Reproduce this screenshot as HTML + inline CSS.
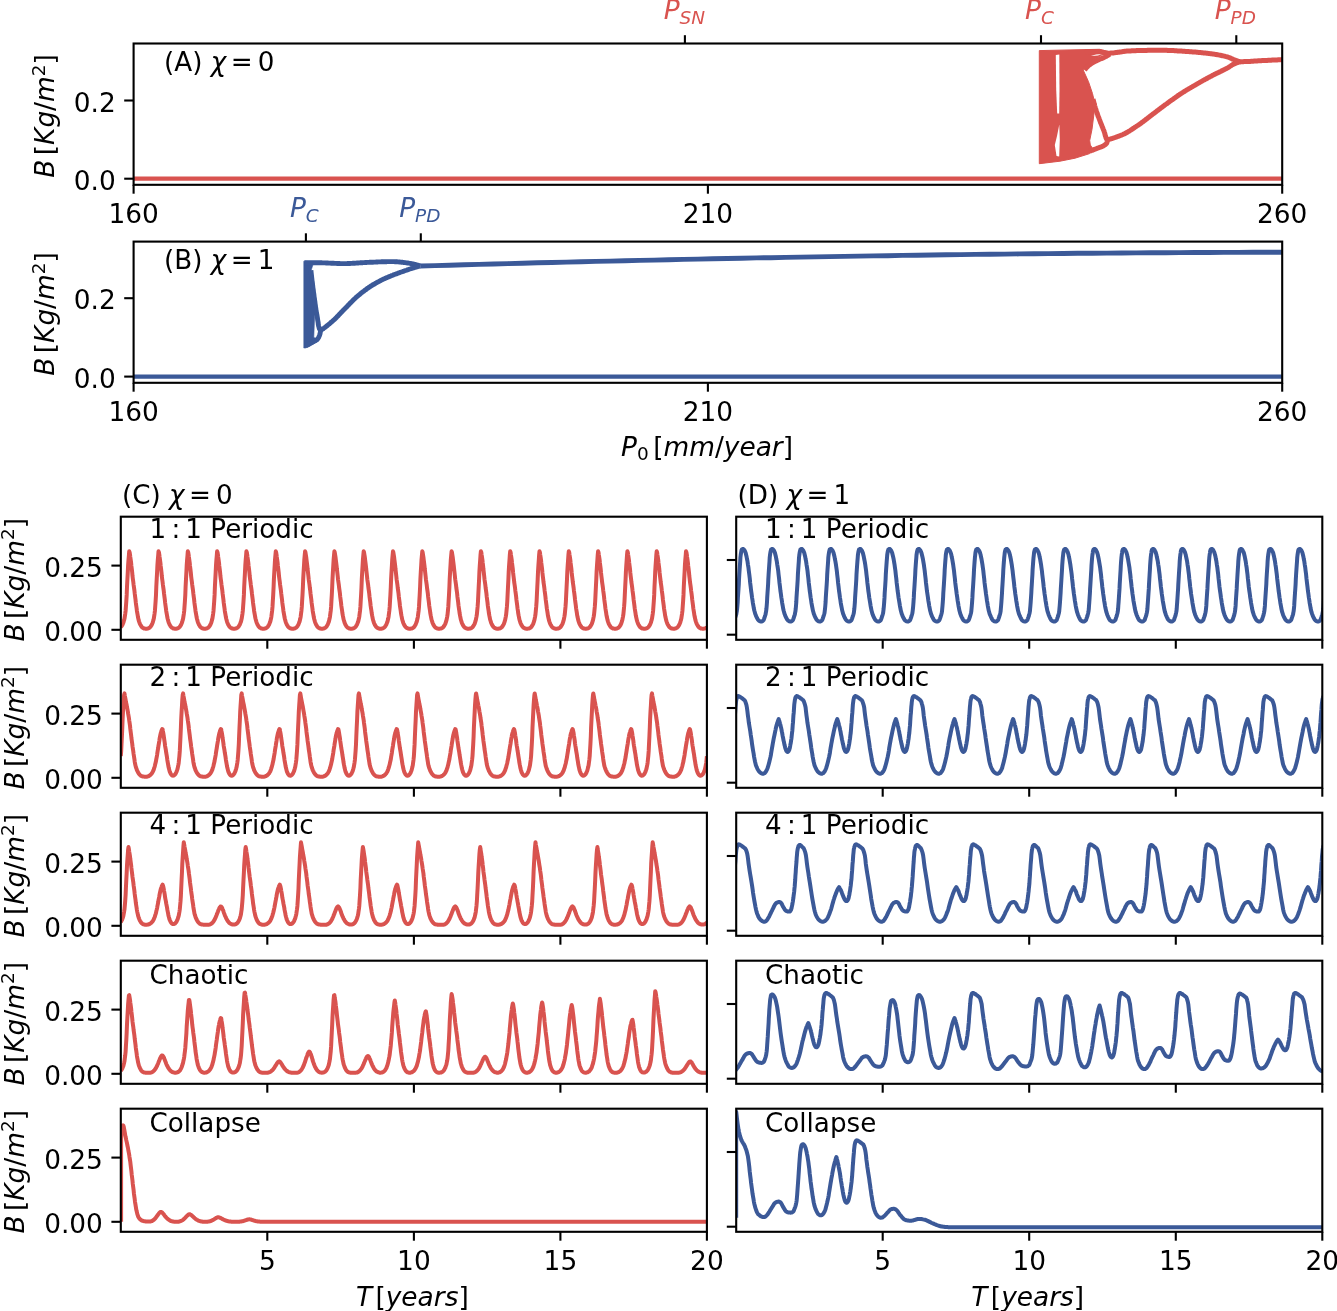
<!DOCTYPE html>
<html><head><meta charset="utf-8"><title>Figure</title>
<style>html,body{margin:0;padding:0;background:#fff}body{width:1337px;height:1311px;overflow:hidden}</style>
</head><body>
<svg width="1337" height="1311" viewBox="0 0 1337 1311" style="display:block;font-family:'DejaVu Sans', 'Liberation Sans', sans-serif">
<rect width="1337" height="1311" fill="#fff"/>
<clipPath id="c1"><rect x="133.6" y="43.5" width="1148.6" height="141.3"/></clipPath>
<g clip-path="url(#c1)"><path d="M133.6,178.7 L1282.2,178.7" fill="none" stroke="#d9534f" stroke-width="4.2" stroke-linejoin="round" stroke-linecap="butt" /><path d="M1039.3,50.6 L1070,49.9 L1099.4,49.3 L1108,51.5 L1100,56 L1092,61 L1083.1,69.8 L1088.5,81.7 L1092.5,93.6 L1094.4,101.5 L1094,113.4 L1092,129.3 L1089.7,140.5 L1090.3,145 L1092.5,148.2 L1089.7,153.6 L1075,158.2 L1060,161.2 L1039.3,163.7Z" fill="#d9534f" stroke="#d9534f" stroke-width="1" stroke-linejoin="round"/><path d="M1055.8,55 L1059.3,54.6 L1059.5,90 L1059.2,113.5 L1057.2,113.5 L1056.2,90 Z" fill="#fff"/><path d="M1059.3,124.5 L1059.8,140 L1059.2,156.5 L1056.5,156 L1054.8,145 L1057,136 Z" fill="#fff"/><path d="M1091,56.1 Q1096,53.6 1103.4,53.7 Q1098,56.2 1091,56.1 Z" fill="#fff"/><path d="M1085,52.3 L1086,52.2 L1087,52.1 L1088,52 L1089,52 L1090,51.9 L1091,51.9 L1092,51.9 L1093,51.8 L1094,51.8 L1095,51.8 L1096,51.8 L1097,51.8 L1098,51.8 L1099,51.8 L1100,51.8 L1101,51.9 L1101.9,52.1 L1102.9,52.3 L1103.9,52.5 L1104.9,52.8 L1105.9,53 L1106.9,53.1 L1107.9,53.2 L1108.8,53.2 L1109.8,53.2 L1110.8,53.1 L1111.8,53 L1112.8,53 L1113.8,52.9 L1114.8,52.7 L1115.8,52.6 L1116.8,52.5 L1117.8,52.3 L1118.8,52.2 L1119.8,52 L1120.8,51.9 L1121.8,51.8 L1122.7,51.6 L1123.7,51.5 L1124.7,51.3 L1125.7,51.2 L1126.7,51.1 L1127.7,51 L1128.7,51 L1129.7,50.9 L1130.7,50.9 L1131.7,50.8 L1132.7,50.8 L1133.7,50.8 L1134.7,50.7 L1135.7,50.7 L1136.7,50.6 L1137.7,50.6 L1138.7,50.6 L1139.7,50.5 L1140.7,50.5 L1141.7,50.5 L1142.7,50.5 L1143.7,50.4 L1144.7,50.4 L1145.7,50.4 L1146.7,50.4 L1147.7,50.3 L1148.7,50.3 L1149.7,50.3 L1150.7,50.3 L1151.7,50.3 L1152.7,50.2 L1153.7,50.2 L1154.7,50.2 L1155.7,50.2 L1156.7,50.2 L1157.7,50.2 L1158.7,50.2 L1159.7,50.2 L1160.7,50.2 L1161.7,50.2 L1162.7,50.2 L1163.7,50.2 L1164.7,50.3 L1165.7,50.3 L1166.7,50.3 L1167.7,50.4 L1168.7,50.4 L1169.7,50.4 L1170.7,50.5 L1171.7,50.5 L1172.7,50.6 L1173.6,50.6 L1174.6,50.7 L1175.6,50.7 L1176.6,50.8 L1177.6,50.9 L1178.6,50.9 L1179.6,51 L1180.6,51.1 L1181.6,51.1 L1182.6,51.2 L1183.6,51.3 L1184.6,51.3 L1185.6,51.4 L1186.6,51.5 L1187.6,51.6 L1188.6,51.6 L1189.6,51.7 L1190.6,51.8 L1191.6,51.8 L1192.6,51.9 L1193.6,52 L1194.6,52 L1195.6,52.1 L1196.6,52.2 L1197.6,52.3 L1198.6,52.4 L1199.6,52.5 L1200.6,52.6 L1201.6,52.7 L1202.6,52.8 L1203.6,52.9 L1204.5,53 L1205.5,53.1 L1206.5,53.2 L1207.5,53.3 L1208.5,53.4 L1209.5,53.6 L1210.5,53.7 L1211.5,53.8 L1212.5,53.9 L1213.5,54.1 L1214.4,54.2 L1215.4,54.4 L1216.4,54.5 L1217.4,54.7 L1218.4,54.9 L1219.4,55.1 L1220.4,55.3 L1221.4,55.5 L1222.3,55.7 L1223.3,55.9 L1224.3,56.1 L1225.3,56.4 L1226.2,56.6 L1227.2,56.9 L1228.1,57.2 L1229,57.5 L1230,57.9 L1230.9,58.3 L1231.8,58.7 L1232.7,59.2 L1233.6,59.5 L1234.6,59.9 L1235.5,60.2 L1236.5,60.6 L1237.4,61 L1238.4,61.3 L1239.3,61.6 L1240.3,61.7 L1241.3,61.7 L1242.3,61.7 L1243.2,61.7 L1244.2,61.6 L1245.2,61.6 L1246.2,61.6 L1247.2,61.5 L1248.2,61.5 L1249.2,61.4 L1250.2,61.4 L1251.2,61.3 L1252.2,61.2 L1253.2,61.2 L1254.2,61.1 L1255.2,61 L1256.2,61 L1257.2,60.9 L1258.2,60.8 L1259.2,60.8 L1260.2,60.7 L1261.2,60.7 L1262.2,60.6 L1263.2,60.6 L1264.2,60.5 L1265.2,60.5 L1266.2,60.4 L1267.2,60.4 L1268.2,60.3 L1269.2,60.3 L1270.2,60.2 L1271.2,60.2 L1272.2,60.1 L1273.2,60.1 L1274.2,60 L1275.2,60 L1276.2,59.9 L1277.2,59.9 L1278.2,59.8 L1279.2,59.8 L1280.2,59.7 L1281.2,59.7 L1282.2,59.6" fill="none" stroke="#d9534f" stroke-width="5.0" stroke-linejoin="round" stroke-linecap="butt" /><path d="M1093,99 L1093.2,100 L1093.5,100.9 L1093.7,101.9 L1094,102.9 L1094.2,103.8 L1094.5,104.8 L1094.7,105.8 L1095,106.7 L1095.3,107.7 L1095.6,108.6 L1095.9,109.6 L1096.2,110.5 L1096.5,111.5 L1096.8,112.4 L1097.1,113.3 L1097.5,114.3 L1097.8,115.2 L1098.1,116.2 L1098.5,117.1 L1098.9,118 L1099.2,118.9 L1099.6,119.9 L1099.9,120.8 L1100.3,121.7 L1100.6,122.7 L1101,123.6 L1101.4,124.5 L1101.8,125.4 L1102.1,126.4 L1102.5,127.3 L1102.9,128.2 L1103.2,129.1 L1103.6,130.1 L1104,131 L1104.3,132 L1104.7,133.1 L1105,134.4 L1105.3,135.6 L1105.7,136.7 L1106,137.8 L1106.4,138.6 L1106.8,139.2 L1107.3,139.5 L1107.8,139.5 L1108.5,139.4 L1109.2,139.3 L1110.1,139.1 L1111,138.8 L1111.9,138.6 L1112.9,138.2 L1114,137.9 L1115.1,137.5 L1116.2,137.1 L1117.3,136.7 L1118.3,136.3 L1119.4,135.9 L1120.4,135.5 L1121.4,135.1 L1122.4,134.7 L1123.3,134.3 L1124.2,133.9 L1125,133.5 L1125.9,133 L1126.8,132.5 L1127.7,132 L1128.5,131.5 L1129.4,131 L1130.2,130.5 L1131.1,129.9 L1131.9,129.4 L1132.7,128.8 L1133.6,128.3 L1134.4,127.7 L1135.2,127.1 L1136.1,126.6 L1136.9,126 L1137.7,125.5 L1138.5,124.9 L1139.4,124.4 L1140.2,123.8 L1141,123.2 L1141.8,122.6 L1142.6,122 L1143.4,121.4 L1144.2,120.8 L1145,120.2 L1145.8,119.6 L1146.5,119 L1147.3,118.4 L1148.1,117.8 L1148.9,117.2 L1149.7,116.6 L1150.5,115.9 L1151.3,115.3 L1152.1,114.7 L1152.9,114.1 L1153.7,113.5 L1154.5,112.9 L1155.3,112.3 L1156.1,111.7 L1156.8,111.1 L1157.6,110.5 L1158.4,109.9 L1159.2,109.3 L1160,108.7 L1160.8,108.1 L1161.6,107.5 L1162.4,106.9 L1163.2,106.3 L1164,105.7 L1164.8,105.1 L1165.6,104.5 L1166.4,104 L1167.2,103.4 L1168,102.8 L1168.8,102.2 L1169.6,101.6 L1170.4,101 L1171.2,100.4 L1172,99.9 L1172.9,99.3 L1173.7,98.7 L1174.5,98.1 L1175.3,97.6 L1176.1,97 L1176.9,96.4 L1177.7,95.8 L1178.6,95.3 L1179.4,94.7 L1180.2,94.2 L1181,93.6 L1181.9,93.1 L1182.7,92.5 L1183.5,92 L1184.4,91.5 L1185.2,90.9 L1186.1,90.4 L1186.9,89.9 L1187.8,89.4 L1188.6,88.9 L1189.5,88.4 L1190.4,87.9 L1191.2,87.4 L1192.1,86.9 L1192.9,86.4 L1193.8,85.9 L1194.7,85.4 L1195.5,84.9 L1196.4,84.4 L1197.2,83.9 L1198.1,83.4 L1199,82.9 L1199.8,82.4 L1200.7,81.9 L1201.6,81.4 L1202.4,80.9 L1203.3,80.4 L1204.2,79.9 L1205.1,79.5 L1205.9,79 L1206.8,78.5 L1207.7,78 L1208.5,77.5 L1209.4,77.1 L1210.3,76.6 L1211.2,76.1 L1212.1,75.7 L1212.9,75.2 L1213.8,74.8 L1214.7,74.3 L1215.6,73.9 L1216.5,73.4 L1217.4,73 L1218.3,72.6 L1219.2,72.1 L1220.1,71.7 L1221,71.3 L1221.9,70.8 L1222.8,70.4 L1223.7,69.9 L1224.6,69.5 L1225.4,69 L1226.3,68.6 L1227.2,68.1 L1228.1,67.6 L1228.9,67.1 L1229.8,66.5 L1230.6,66 L1231.4,65.4 L1232.3,64.9 L1233.1,64.4 L1234,64 L1234.9,63.6 L1235.8,63.2 L1236.8,62.8 L1237.7,62.5 L1238.7,62.2 L1239.6,61.9 L1240.6,61.7" fill="none" stroke="#d9534f" stroke-width="5.0" stroke-linejoin="round" stroke-linecap="butt" /><path d="M1084.5,70 L1085,69.4 L1085.5,68.8 L1086,68.2 L1086.6,67.6 L1087.1,67 L1087.7,66.5 L1088.2,65.9 L1088.8,65.4 L1089.4,65 L1090,64.5 L1090.6,64 L1091.3,63.6 L1091.9,63.2 L1092.6,62.8 L1093.3,62.4 L1094,62 L1094.7,61.7 L1095.4,61.3 L1096.1,60.9 L1096.8,60.6 L1097.5,60.3 L1098.2,59.9 L1098.9,59.6 L1099.6,59.3 L1100.3,59 L1101.1,58.7 L1101.8,58.5 L1102.5,58.2 L1103.2,57.9 L1103.9,57.5 L1104.6,57.2 L1105.3,56.8 L1106,56.5 L1106.7,56.1 L1107.4,55.7 L1108,55.3 L1108.7,54.9 L1109.3,54.4 L1110,54" fill="none" stroke="#d9534f" stroke-width="5.0" stroke-linejoin="round" stroke-linecap="butt" /><path d="M1089.5,151.3 L1090,151.1 L1090.6,150.9 L1091.1,150.7 L1091.7,150.5 L1092.2,150.3 L1092.8,150.1 L1093.3,149.8 L1093.9,149.6 L1094.4,149.4 L1095,149.2 L1095.5,149 L1096.1,148.8 L1096.6,148.6 L1097.2,148.3 L1097.7,148.1 L1098.3,147.9 L1098.8,147.7 L1099.4,147.5 L1099.9,147.3 L1100.5,147.1 L1101.1,146.9 L1101.6,146.7 L1102.2,146.4 L1102.7,146.2 L1103.2,146 L1103.7,145.7 L1104.2,145.4 L1104.7,145 L1105.2,144.7 L1105.7,144.3 L1106.2,143.8 L1106.5,143.4 L1106.8,142.9 L1107,142.4 L1107.1,141.9 L1107.2,141.3 L1107.3,140.8 L1107.4,140.1 L1107.4,139.5" fill="none" stroke="#d9534f" stroke-width="5.0" stroke-linejoin="round" stroke-linecap="butt" /></g>
<rect x="133.6" y="43.5" width="1148.6" height="141.3" fill="none" stroke="#000" stroke-width="2.1"/>
<clipPath id="c2"><rect x="133.6" y="241.6" width="1148.6" height="141.2"/></clipPath>
<g clip-path="url(#c2)"><g transform="translate(0,0.5)"><path d="M303.8,260.7 L313.9,261.3 L311.2,269.7 L314.7,292.4 L316.5,306.8 L314.6,316 L313.8,336.7 L318.7,340.3 L305.6,347.5 L303.8,347.5Z" fill="#3b5998" stroke="#3b5998" stroke-width="0.6" stroke-linejoin="round"/><path d="M304.4,262.3 L305,262.3 L305.6,262.3 L306.2,262.3 L306.7,262.3 L307.3,262.3 L307.9,262.3 L308.5,262.3 L309.1,262.3 L309.7,262.3 L310.3,262.3 L310.8,262.3 L311.4,262.3 L312,262.3 L312.6,262.3 L313.2,262.3 L313.8,262.3 L314.4,262.3 L314.9,262.3 L315.5,262.3 L316.1,262.3 L316.7,262.3 L317.3,262.3 L317.9,262.3 L318.4,262.3 L319,262.3 L319.6,262.3 L320.2,262.3 L320.8,262.3 L321.4,262.3 L322,262.3 L322.5,262.4 L323.1,262.4 L323.7,262.4 L324.3,262.4 L324.9,262.4 L325.5,262.4 L326.1,262.5 L326.6,262.5 L327.2,262.5 L327.8,262.5 L328.4,262.6 L329,262.6 L329.6,262.6 L330.1,262.6 L330.7,262.7 L331.3,262.7 L331.9,262.7 L332.5,262.8 L333.1,262.8 L333.7,262.8 L334.2,262.8 L334.8,262.9 L335.4,262.9 L336,262.9 L336.6,262.9 L337.2,263 L337.8,263 L338.3,263 L338.9,263 L339.5,263 L340.1,263.1 L340.7,263.1 L341.3,263.1 L341.8,263.1 L342.4,263.1 L343,263.1 L343.6,263.1 L344.2,263.1 L344.8,263.1 L345.4,263.1 L345.9,263.1 L346.5,263.1 L347.1,263.1 L347.7,263 L348.3,263 L348.9,263 L349.4,263 L350,263 L350.6,262.9 L351.2,262.9 L351.8,262.9 L352.4,262.8 L353,262.8 L353.5,262.8 L354.1,262.7 L354.7,262.7 L355.3,262.7 L355.9,262.6 L356.5,262.6 L357,262.5 L357.6,262.5 L358.2,262.5 L358.8,262.4 L359.4,262.4 L360,262.3 L360.6,262.3 L361.1,262.3 L361.7,262.2 L362.3,262.2 L362.9,262.2 L363.5,262.1 L364.1,262.1 L364.6,262.1 L365.2,262 L365.8,262 L366.4,262 L367,261.9 L367.6,261.9 L368.2,261.9 L368.7,261.9 L369.3,261.8 L369.9,261.8 L370.5,261.8 L371.1,261.8 L371.7,261.7 L372.2,261.7 L372.8,261.7 L373.4,261.7 L374,261.6 L374.6,261.6 L375.2,261.6 L375.8,261.6 L376.3,261.5 L376.9,261.5 L377.5,261.5 L378.1,261.4 L378.7,261.4 L379.3,261.4 L379.9,261.4 L380.4,261.4 L381,261.3 L381.6,261.3 L382.2,261.3 L382.8,261.3 L383.4,261.2 L384,261.2 L384.5,261.2 L385.1,261.2 L385.7,261.2 L386.3,261.2 L386.9,261.2 L387.5,261.1 L388,261.1 L388.6,261.1 L389.2,261.1 L389.8,261.1 L390.4,261.1 L391,261.1 L391.6,261.1 L392.1,261.1 L392.7,261.1 L393.3,261.1 L393.9,261.1 L394.5,261.2 L395.1,261.2 L395.6,261.2 L396.2,261.2 L396.8,261.3 L397.4,261.3 L398,261.4 L398.6,261.4 L399.2,261.5 L399.7,261.5 L400.3,261.6 L400.9,261.7 L401.5,261.7 L402.1,261.8 L402.7,261.8 L403.2,261.9 L403.8,262 L404.4,262.1 L405,262.1 L405.6,262.2 L406.2,262.3 L406.7,262.4 L407.3,262.5 L407.9,262.5 L408.5,262.6 L409,262.7 L409.6,262.8 L410.2,262.9 L410.8,263 L411.3,263.1 L411.9,263.2 L412.5,263.3 L413,263.4 L413.6,263.6 L414.2,263.7 L414.8,263.8 L415.3,264 L415.9,264.1 L416.5,264.3 L417,264.5 L417.6,264.6 L418.1,264.8 L418.7,265 L419.3,265.1 L419.8,265.3 L420.4,265.5" fill="none" stroke="#3b5998" stroke-width="4.9" stroke-linejoin="round" stroke-linecap="butt" /><path d="M310.9,269.7 L311,270.6 L311.1,271.5 L311.2,272.4 L311.3,273.3 L311.4,274.2 L311.5,275.1 L311.6,276 L311.7,276.9 L311.8,277.8 L311.9,278.8 L312,279.7 L312.1,280.6 L312.3,281.5 L312.4,282.4 L312.5,283.3 L312.6,284.2 L312.7,285.1 L312.8,286 L312.9,286.9 L313,287.8 L313.2,288.7 L313.3,289.6 L313.4,290.5 L313.5,291.4 L313.6,292.3 L313.8,293.2 L313.9,294.1 L314,295 L314.1,295.9 L314.2,296.8 L314.4,297.7 L314.5,298.6 L314.6,299.5 L314.7,300.4 L314.9,301.3 L315,302.2 L315.1,303.1 L315.2,304 L315.4,304.9 L315.5,305.9 L315.6,306.8 L315.8,307.7 L315.9,308.6 L316,309.5 L316.2,310.4 L316.3,311.3 L316.5,312.1 L316.6,313 L316.8,313.9 L317,314.8 L317.1,315.8 L317.3,316.8 L317.5,317.9 L317.6,319 L317.8,320.2 L318,321.3 L318.2,322.5 L318.3,323.7 L318.5,324.8 L318.7,325.8 L319,326.7 L319.2,327.6 L319.4,328.3 L319.7,328.8 L320,329.2 L320.3,329.5 L320.7,329.5 L321.1,329.4 L321.6,329.1 L322.2,328.8 L322.9,328.4 L323.6,327.9 L324.4,327.3 L325.3,326.7 L326.1,326 L327,325.3 L327.8,324.6 L328.7,323.9 L329.6,323.2 L330.4,322.5 L331.1,321.8 L331.9,321.2 L332.6,320.6 L333.2,320 L333.9,319.4 L334.6,318.8 L335.2,318.2 L335.9,317.5 L336.5,316.9 L337.1,316.2 L337.8,315.6 L338.4,314.9 L339,314.3 L339.7,313.6 L340.3,312.9 L340.9,312.3 L341.6,311.6 L342.2,310.9 L342.8,310.3 L343.5,309.6 L344.1,309 L344.7,308.3 L345.4,307.7 L346,307 L346.6,306.4 L347.3,305.7 L347.9,305.1 L348.5,304.4 L349.2,303.7 L349.8,303.1 L350.4,302.4 L351.1,301.8 L351.7,301.1 L352.4,300.5 L353,299.8 L353.6,299.2 L354.3,298.6 L355,298 L355.6,297.3 L356.3,296.7 L357,296.1 L357.7,295.5 L358.4,295 L359.1,294.4 L359.8,293.8 L360.5,293.2 L361.2,292.6 L361.9,292.1 L362.6,291.5 L363.4,290.9 L364.1,290.4 L364.8,289.8 L365.5,289.3 L366.3,288.8 L367,288.2 L367.8,287.7 L368.5,287.2 L369.3,286.7 L370,286.2 L370.8,285.7 L371.6,285.2 L372.3,284.7 L373.1,284.2 L373.9,283.8 L374.7,283.3 L375.5,282.8 L376.3,282.4 L377.1,281.9 L377.9,281.5 L378.7,281.1 L379.5,280.6 L380.3,280.2 L381.1,279.8 L381.9,279.4 L382.7,279 L383.5,278.6 L384.4,278.2 L385.2,277.9 L386,277.5 L386.9,277.1 L387.7,276.8 L388.5,276.4 L389.4,276.1 L390.2,275.7 L391.1,275.4 L391.9,275 L392.8,274.7 L393.6,274.3 L394.4,274 L395.3,273.7 L396.2,273.4 L397,273.1 L397.9,272.8 L398.7,272.4 L399.6,272.1 L400.4,271.8 L401.3,271.5 L402.2,271.2 L403,270.9 L403.9,270.6 L404.7,270.3 L405.6,270 L406.5,269.7 L407.3,269.4 L408.2,269.1 L409,268.8 L409.9,268.5 L410.8,268.2 L411.6,268 L412.5,267.7 L413.4,267.4 L414.2,267.1 L415.1,266.9 L416,266.6 L416.9,266.4 L417.7,266.1 L418.6,265.9 L419.5,265.7 L420.4,265.5" fill="none" stroke="#3b5998" stroke-width="4.9" stroke-linejoin="round" stroke-linecap="butt" /><path d="M305.6,345.5 L306.3,345.1 L307,344.8 L307.8,344.4 L308.5,344 L309.2,343.6 L309.9,343.2 L310.6,342.8 L311.3,342.4 L312,342 L312.7,341.6 L313.4,341.2 L314.2,340.8 L315,340.4 L315.7,340 L316.4,339.5 L317.1,339 L317.6,338.5 L318,338 L318.3,337.4 L318.7,336.8 L319,336.1 L319.3,335.4 L319.6,334.7 L319.8,333.9 L320.1,333.1 L320.2,332.2 L320.4,331.3 L320.5,330.4 L320.5,329.5" fill="none" stroke="#3b5998" stroke-width="4.9" stroke-linejoin="round" stroke-linecap="butt" /><path d="M420.4,265.5 L435,265.1 L449.6,264.7 L464.2,264.3 L478.8,263.9 L493.4,263.5 L508,263.1 L522.6,262.7 L537.3,262.3 L551.9,262 L566.5,261.6 L581.1,261.2 L595.7,260.9 L610.3,260.6 L624.9,260.2 L639.5,259.9 L654.1,259.6 L668.7,259.2 L683.3,258.9 L697.9,258.6 L712.5,258.3 L727.1,258 L741.7,257.7 L756.4,257.4 L771,257.2 L785.6,256.9 L800.2,256.6 L814.8,256.4 L829.4,256.1 L844,255.9 L858.6,255.6 L873.2,255.4 L887.8,255.2 L902.4,254.9 L917,254.7 L931.6,254.5 L946.2,254.3 L960.9,254.1 L975.5,253.9 L990.1,253.8 L1004.7,253.6 L1019.3,253.4 L1033.9,253.3 L1048.5,253.1 L1063.1,253 L1077.7,252.8 L1092.3,252.7 L1106.9,252.6 L1121.5,252.5 L1136.1,252.4 L1150.7,252.3 L1165.3,252.2 L1180,252.1 L1194.6,252 L1209.2,252 L1223.8,251.9 L1238.4,251.9 L1253,251.8 L1267.6,251.8 L1282.2,251.8" fill="none" stroke="#3b5998" stroke-width="4.9" stroke-linejoin="round" stroke-linecap="butt" /></g><path d="M133.6,376.6 L1282.2,376.6" fill="none" stroke="#3b5998" stroke-width="4.2" stroke-linejoin="round" stroke-linecap="butt" /></g>
<rect x="133.6" y="241.6" width="1148.6" height="141.2" fill="none" stroke="#000" stroke-width="2.1"/>
<path d="M133.6,184.8 l0,8.9" stroke="#000" stroke-width="2.1" fill="none"/>
<text x="133.6" y="222.5" font-size="26.4" text-anchor="middle" fill="#000" >160</text>
<path d="M707.9,184.8 l0,8.9" stroke="#000" stroke-width="2.1" fill="none"/>
<text x="707.9" y="222.5" font-size="26.4" text-anchor="middle" fill="#000" >210</text>
<path d="M1282.2,184.8 l0,8.9" stroke="#000" stroke-width="2.1" fill="none"/>
<text x="1282.2" y="222.5" font-size="26.4" text-anchor="middle" fill="#000" >260</text>
<path d="M133.6,178.7 l-9.4,0" stroke="#000" stroke-width="2.1" fill="none"/>
<text x="115.7" y="189.8" font-size="26.4" text-anchor="end" fill="#000" >0.0</text>
<path d="M133.6,100.5 l-9.4,0" stroke="#000" stroke-width="2.1" fill="none"/>
<text x="115.7" y="111.6" font-size="26.4" text-anchor="end" fill="#000" >0.2</text>
<path d="M684.9,43.5 l0,-8.3" stroke="#000" stroke-width="2.1" fill="none"/>
<text x="684.4" y="18.9" font-size="26.4" text-anchor="middle" fill="#d9534f" ><tspan font-style="italic">P</tspan><tspan font-style="italic" font-size="18.48" dy="4.88">SN</tspan></text>
<path d="M1041,43.5 l0,-8.3" stroke="#000" stroke-width="2.1" fill="none"/>
<text x="1039.4" y="18.9" font-size="26.4" text-anchor="middle" fill="#d9534f" ><tspan font-style="italic">P</tspan><tspan font-style="italic" font-size="18.48" dy="4.88">C</tspan></text>
<path d="M1236.3,43.5 l0,-8.3" stroke="#000" stroke-width="2.1" fill="none"/>
<text x="1235.3" y="18.9" font-size="26.4" text-anchor="middle" fill="#d9534f" ><tspan font-style="italic">P</tspan><tspan font-style="italic" font-size="18.48" dy="4.88">PD</tspan></text>
<text transform="translate(54.4,116) rotate(-90)" font-size="26.4" text-anchor="middle"><tspan font-style="italic">B</tspan><tspan dx="4.49">[</tspan><tspan font-style="italic">Kg</tspan>/<tspan font-style="italic">m</tspan><tspan font-size="18.48" dy="-9.5">2</tspan><tspan dy="9.5">]</tspan></text>
<path d="M133.6,382.8 l0,8.9" stroke="#000" stroke-width="2.1" fill="none"/>
<text x="133.6" y="420.5" font-size="26.4" text-anchor="middle" fill="#000" >160</text>
<path d="M707.9,382.8 l0,8.9" stroke="#000" stroke-width="2.1" fill="none"/>
<text x="707.9" y="420.5" font-size="26.4" text-anchor="middle" fill="#000" >210</text>
<path d="M1282.2,382.8 l0,8.9" stroke="#000" stroke-width="2.1" fill="none"/>
<text x="1282.2" y="420.5" font-size="26.4" text-anchor="middle" fill="#000" >260</text>
<path d="M133.6,376.6 l-9.4,0" stroke="#000" stroke-width="2.1" fill="none"/>
<text x="115.7" y="387.7" font-size="26.4" text-anchor="end" fill="#000" >0.0</text>
<path d="M133.6,298.2 l-9.4,0" stroke="#000" stroke-width="2.1" fill="none"/>
<text x="115.7" y="309.3" font-size="26.4" text-anchor="end" fill="#000" >0.2</text>
<path d="M305.9,241.6 l0,-8.3" stroke="#000" stroke-width="2.1" fill="none"/>
<text x="304.3" y="217" font-size="26.4" text-anchor="middle" fill="#3b5998" ><tspan font-style="italic">P</tspan><tspan font-style="italic" font-size="18.48" dy="4.88">C</tspan></text>
<path d="M420.8,241.6 l0,-8.3" stroke="#000" stroke-width="2.1" fill="none"/>
<text x="419.8" y="217" font-size="26.4" text-anchor="middle" fill="#3b5998" ><tspan font-style="italic">P</tspan><tspan font-style="italic" font-size="18.48" dy="4.88">PD</tspan></text>
<text transform="translate(54.4,314) rotate(-90)" font-size="26.4" text-anchor="middle"><tspan font-style="italic">B</tspan><tspan dx="4.49">[</tspan><tspan font-style="italic">Kg</tspan>/<tspan font-style="italic">m</tspan><tspan font-size="18.48" dy="-9.5">2</tspan><tspan dy="9.5">]</tspan></text>
<text x="164" y="71.2" font-size="26.2" text-anchor="start" fill="#000" >(A) <tspan font-style="italic">χ</tspan><tspan dx="4.45">=</tspan><tspan dx="5.11">0</tspan></text>
<text x="164" y="269.2" font-size="26.2" text-anchor="start" fill="#000" >(B) <tspan font-style="italic">χ</tspan><tspan dx="4.45">=</tspan><tspan dx="5.11">1</tspan></text>
<text x="707" y="455.6" font-size="26.4" text-anchor="middle" fill="#000" ><tspan font-style="italic">P</tspan><tspan font-size="18.48" dy="4.88">0</tspan><tspan dy="-4.88" dx="4.49">[</tspan><tspan font-style="italic">mm</tspan>/<tspan font-style="italic">year</tspan>]</text>
<clipPath id="c3"><rect x="120.8" y="516.7" width="586.1" height="123.1"/></clipPath>
<g clip-path="url(#c3)"><path d="M120.8,627 L121.2,626.7 L121.5,626.2 L121.9,625.7 L122.3,625.1 L122.6,624.4 L123,623.6 L123.4,622.6 L123.7,621.5 L124.1,620.2 L124.5,618.6 L124.8,616.6 L125.2,614.1 L125.6,611 L125.9,606.9 L126.3,601.3 L126.7,594.9 L127,586.8 L127.4,579.2 L127.8,571.8 L128.1,565.5 L128.5,560 L128.9,555.3 L129.2,551.3 L129.6,552.2 L130,554.5 L130.3,557 L130.7,559.7 L131.1,562.7 L131.4,565.9 L131.8,569.1 L132.2,572.5 L132.5,576.1 L132.9,579.2 L133.3,582.1 L133.6,584.8 L134,587.6 L134.4,590.4 L134.7,593.3 L135.1,596.4 L135.5,599.5 L135.8,602.5 L136.2,605.5 L136.6,608.2 L136.9,610.8 L137.3,613.2 L137.7,615.4 L138,617.3 L138.4,619 L138.7,620.4 L139.1,621.6 L139.5,622.7 L139.8,623.6 L140.2,624.4 L140.6,625.1 L140.9,625.7 L141.3,626.3 L141.7,626.8 L142,627.2 L142.4,627.5 L142.8,627.8 L143.1,628 L143.5,628.2 L143.9,628.3 L144.2,628.5 L144.6,628.6 L145,628.6 L145.3,628.7 L145.7,628.7 L146.1,628.7 L146.4,628.7 L146.8,628.7 L147.2,628.6 L147.5,628.6 L147.9,628.5 L148.3,628.4 L148.6,628.2 L149,628 L149.4,627.8 L149.7,627.5 L150.1,627.2 L150.5,626.8 L150.8,626.3 L151.2,625.7 L151.6,625.1 L151.9,624.4 L152.3,623.6 L152.7,622.6 L153,621.5 L153.4,620.2 L153.8,618.6 L154.1,616.6 L154.5,614.1 L154.9,611 L155.2,606.9 L155.6,601.3 L156,594.9 L156.3,586.8 L156.7,579.2 L157.1,571.8 L157.4,565.5 L157.8,560 L158.2,555.3 L158.5,551.3 L158.9,552.2 L159.3,554.5 L159.6,557 L160,559.7 L160.4,562.7 L160.7,565.9 L161.1,569.1 L161.5,572.5 L161.8,576.1 L162.2,579.2 L162.6,582.1 L162.9,584.8 L163.3,587.6 L163.7,590.4 L164,593.3 L164.4,596.4 L164.8,599.5 L165.1,602.5 L165.5,605.5 L165.9,608.2 L166.2,610.8 L166.6,613.2 L167,615.4 L167.3,617.3 L167.7,619 L168.1,620.4 L168.4,621.6 L168.8,622.7 L169.2,623.6 L169.5,624.4 L169.9,625.1 L170.3,625.7 L170.6,626.3 L171,626.8 L171.4,627.2 L171.7,627.5 L172.1,627.8 L172.5,628 L172.8,628.2 L173.2,628.3 L173.5,628.5 L173.9,628.6 L174.3,628.6 L174.6,628.7 L175,628.7 L175.4,628.7 L175.7,628.7 L176.1,628.7 L176.5,628.6 L176.8,628.6 L177.2,628.5 L177.6,628.4 L177.9,628.2 L178.3,628 L178.7,627.8 L179,627.5 L179.4,627.2 L179.8,626.8 L180.1,626.3 L180.5,625.7 L180.9,625.1 L181.2,624.4 L181.6,623.6 L182,622.6 L182.3,621.5 L182.7,620.2 L183.1,618.6 L183.4,616.6 L183.8,614.1 L184.2,611 L184.5,606.9 L184.9,601.3 L185.3,594.9 L185.6,586.8 L186,579.2 L186.4,571.8 L186.7,565.5 L187.1,560 L187.5,555.3 L187.8,551.3 L188.2,552.2 L188.6,554.5 L188.9,557 L189.3,559.7 L189.7,562.7 L190,565.9 L190.4,569.1 L190.8,572.5 L191.1,576.1 L191.5,579.2 L191.9,582.1 L192.2,584.8 L192.6,587.6 L193,590.4 L193.3,593.3 L193.7,596.4 L194.1,599.5 L194.4,602.5 L194.8,605.5 L195.2,608.2 L195.5,610.8 L195.9,613.2 L196.3,615.4 L196.6,617.3 L197,619 L197.4,620.4 L197.7,621.6 L198.1,622.7 L198.5,623.6 L198.8,624.4 L199.2,625.1 L199.6,625.7 L199.9,626.3 L200.3,626.8 L200.7,627.2 L201,627.5 L201.4,627.8 L201.8,628 L202.1,628.2 L202.5,628.3 L202.9,628.5 L203.2,628.6 L203.6,628.6 L204,628.7 L204.3,628.7 L204.7,628.7 L205.1,628.7 L205.4,628.7 L205.8,628.6 L206.2,628.6 L206.5,628.5 L206.9,628.4 L207.2,628.2 L207.6,628 L208,627.8 L208.3,627.5 L208.7,627.2 L209.1,626.8 L209.4,626.3 L209.8,625.7 L210.2,625.1 L210.5,624.4 L210.9,623.6 L211.3,622.6 L211.6,621.5 L212,620.2 L212.4,618.6 L212.7,616.6 L213.1,614.1 L213.5,611 L213.8,606.9 L214.2,601.3 L214.6,594.9 L214.9,586.8 L215.3,579.2 L215.7,571.8 L216,565.5 L216.4,560 L216.8,555.3 L217.1,551.3 L217.5,552.2 L217.9,554.5 L218.2,557 L218.6,559.7 L219,562.7 L219.3,565.9 L219.7,569.1 L220.1,572.5 L220.4,576.1 L220.8,579.2 L221.2,582.1 L221.5,584.8 L221.9,587.6 L222.3,590.4 L222.6,593.3 L223,596.4 L223.4,599.5 L223.7,602.5 L224.1,605.5 L224.5,608.2 L224.8,610.8 L225.2,613.2 L225.6,615.4 L225.9,617.3 L226.3,619 L226.7,620.4 L227,621.6 L227.4,622.7 L227.8,623.6 L228.1,624.4 L228.5,625.1 L228.9,625.7 L229.2,626.3 L229.6,626.8 L230,627.2 L230.3,627.5 L230.7,627.8 L231.1,628 L231.4,628.2 L231.8,628.3 L232.2,628.5 L232.5,628.6 L232.9,628.6 L233.3,628.7 L233.6,628.7 L234,628.7 L234.4,628.7 L234.7,628.7 L235.1,628.6 L235.5,628.6 L235.8,628.5 L236.2,628.4 L236.6,628.2 L236.9,628 L237.3,627.8 L237.7,627.5 L238,627.2 L238.4,626.8 L238.8,626.3 L239.1,625.7 L239.5,625.1 L239.9,624.4 L240.2,623.6 L240.6,622.6 L241,621.5 L241.3,620.2 L241.7,618.6 L242,616.6 L242.4,614.1 L242.8,611 L243.1,606.9 L243.5,601.3 L243.9,594.9 L244.2,586.8 L244.6,579.2 L245,571.8 L245.3,565.5 L245.7,560 L246.1,555.3 L246.4,551.3 L246.8,552.2 L247.2,554.5 L247.5,557 L247.9,559.7 L248.3,562.7 L248.6,565.9 L249,569.1 L249.4,572.5 L249.7,576.1 L250.1,579.2 L250.5,582.1 L250.8,584.8 L251.2,587.6 L251.6,590.4 L251.9,593.3 L252.3,596.4 L252.7,599.5 L253,602.5 L253.4,605.5 L253.8,608.2 L254.1,610.8 L254.5,613.2 L254.9,615.4 L255.2,617.3 L255.6,619 L256,620.4 L256.3,621.6 L256.7,622.7 L257.1,623.6 L257.4,624.4 L257.8,625.1 L258.2,625.7 L258.5,626.3 L258.9,626.8 L259.3,627.2 L259.6,627.5 L260,627.8 L260.4,628 L260.7,628.2 L261.1,628.3 L261.5,628.5 L261.8,628.6 L262.2,628.6 L262.6,628.7 L262.9,628.7 L263.3,628.7 L263.7,628.7 L264,628.7 L264.4,628.6 L264.8,628.6 L265.1,628.5 L265.5,628.4 L265.9,628.2 L266.2,628 L266.6,627.8 L267,627.5 L267.3,627.2 L267.7,626.8 L268.1,626.3 L268.4,625.7 L268.8,625.1 L269.2,624.4 L269.5,623.6 L269.9,622.6 L270.3,621.5 L270.6,620.2 L271,618.6 L271.4,616.6 L271.7,614.1 L272.1,611 L272.5,606.9 L272.8,601.3 L273.2,594.9 L273.6,586.8 L273.9,579.2 L274.3,571.8 L274.7,565.5 L275,560 L275.4,555.3 L275.8,551.3 L276.1,552.2 L276.5,554.5 L276.8,557 L277.2,559.7 L277.6,562.7 L277.9,565.9 L278.3,569.1 L278.7,572.5 L279,576.1 L279.4,579.2 L279.8,582.1 L280.1,584.8 L280.5,587.6 L280.9,590.4 L281.2,593.3 L281.6,596.4 L282,599.5 L282.3,602.5 L282.7,605.5 L283.1,608.2 L283.4,610.8 L283.8,613.2 L284.2,615.4 L284.5,617.3 L284.9,619 L285.3,620.4 L285.6,621.6 L286,622.7 L286.4,623.6 L286.7,624.4 L287.1,625.1 L287.5,625.7 L287.8,626.3 L288.2,626.8 L288.6,627.2 L288.9,627.5 L289.3,627.8 L289.7,628 L290,628.2 L290.4,628.3 L290.8,628.5 L291.1,628.6 L291.5,628.6 L291.9,628.7 L292.2,628.7 L292.6,628.7 L293,628.7 L293.3,628.7 L293.7,628.6 L294.1,628.6 L294.4,628.5 L294.8,628.4 L295.2,628.2 L295.5,628 L295.9,627.8 L296.3,627.5 L296.6,627.2 L297,626.8 L297.4,626.3 L297.7,625.7 L298.1,625.1 L298.5,624.4 L298.8,623.6 L299.2,622.6 L299.6,621.5 L299.9,620.2 L300.3,618.6 L300.7,616.6 L301,614.1 L301.4,611 L301.8,606.9 L302.1,601.3 L302.5,594.9 L302.9,586.8 L303.2,579.2 L303.6,571.8 L304,565.5 L304.3,560 L304.7,555.3 L305.1,551.3 L305.4,552.2 L305.8,554.5 L306.2,557 L306.5,559.7 L306.9,562.7 L307.3,565.9 L307.6,569.1 L308,572.5 L308.4,576.1 L308.7,579.2 L309.1,582.1 L309.5,584.8 L309.8,587.6 L310.2,590.4 L310.5,593.3 L310.9,596.4 L311.3,599.5 L311.6,602.5 L312,605.5 L312.4,608.2 L312.7,610.8 L313.1,613.2 L313.5,615.4 L313.8,617.3 L314.2,619 L314.6,620.4 L314.9,621.6 L315.3,622.7 L315.7,623.6 L316,624.4 L316.4,625.1 L316.8,625.7 L317.1,626.3 L317.5,626.8 L317.9,627.2 L318.2,627.5 L318.6,627.8 L319,628 L319.3,628.2 L319.7,628.3 L320.1,628.5 L320.4,628.6 L320.8,628.6 L321.2,628.7 L321.5,628.7 L321.9,628.7 L322.3,628.7 L322.6,628.7 L323,628.6 L323.4,628.6 L323.7,628.5 L324.1,628.4 L324.5,628.2 L324.8,628 L325.2,627.8 L325.6,627.5 L325.9,627.2 L326.3,626.8 L326.7,626.3 L327,625.7 L327.4,625.1 L327.8,624.4 L328.1,623.6 L328.5,622.6 L328.9,621.5 L329.2,620.2 L329.6,618.6 L330,616.6 L330.3,614.1 L330.7,611 L331.1,606.9 L331.4,601.3 L331.8,594.9 L332.2,586.8 L332.5,579.2 L332.9,571.8 L333.3,565.5 L333.6,560 L334,555.3 L334.4,551.3 L334.7,552.2 L335.1,554.5 L335.5,557 L335.8,559.7 L336.2,562.7 L336.6,565.9 L336.9,569.1 L337.3,572.5 L337.7,576.1 L338,579.2 L338.4,582.1 L338.8,584.8 L339.1,587.6 L339.5,590.4 L339.9,593.3 L340.2,596.4 L340.6,599.5 L341,602.5 L341.3,605.5 L341.7,608.2 L342.1,610.8 L342.4,613.2 L342.8,615.4 L343.2,617.3 L343.5,619 L343.9,620.4 L344.3,621.6 L344.6,622.7 L345,623.6 L345.3,624.4 L345.7,625.1 L346.1,625.7 L346.4,626.3 L346.8,626.8 L347.2,627.2 L347.5,627.5 L347.9,627.8 L348.3,628 L348.6,628.2 L349,628.3 L349.4,628.5 L349.7,628.6 L350.1,628.6 L350.5,628.7 L350.8,628.7 L351.2,628.7 L351.6,628.7 L351.9,628.7 L352.3,628.6 L352.7,628.6 L353,628.5 L353.4,628.4 L353.8,628.2 L354.1,628 L354.5,627.8 L354.9,627.5 L355.2,627.2 L355.6,626.8 L356,626.3 L356.3,625.7 L356.7,625.1 L357.1,624.4 L357.4,623.6 L357.8,622.6 L358.2,621.5 L358.5,620.2 L358.9,618.6 L359.3,616.6 L359.6,614.1 L360,611 L360.4,606.9 L360.7,601.3 L361.1,594.9 L361.5,586.8 L361.8,579.2 L362.2,571.8 L362.6,565.5 L362.9,560 L363.3,555.3 L363.7,551.3 L364,552.2 L364.4,554.5 L364.8,557 L365.1,559.7 L365.5,562.7 L365.9,565.9 L366.2,569.1 L366.6,572.5 L367,576.1 L367.3,579.2 L367.7,582.1 L368.1,584.8 L368.4,587.6 L368.8,590.4 L369.2,593.3 L369.5,596.4 L369.9,599.5 L370.3,602.5 L370.6,605.5 L371,608.2 L371.4,610.8 L371.7,613.2 L372.1,615.4 L372.5,617.3 L372.8,619 L373.2,620.4 L373.6,621.6 L373.9,622.7 L374.3,623.6 L374.7,624.4 L375,625.1 L375.4,625.7 L375.8,626.3 L376.1,626.8 L376.5,627.2 L376.9,627.5 L377.2,627.8 L377.6,628 L378,628.2 L378.3,628.3 L378.7,628.5 L379.1,628.6 L379.4,628.6 L379.8,628.7 L380.1,628.7 L380.5,628.7 L380.9,628.7 L381.2,628.7 L381.6,628.6 L382,628.6 L382.3,628.5 L382.7,628.4 L383.1,628.2 L383.4,628 L383.8,627.8 L384.2,627.5 L384.5,627.2 L384.9,626.8 L385.3,626.3 L385.6,625.7 L386,625.1 L386.4,624.4 L386.7,623.6 L387.1,622.6 L387.5,621.5 L387.8,620.2 L388.2,618.6 L388.6,616.6 L388.9,614.1 L389.3,611 L389.7,606.9 L390,601.3 L390.4,594.9 L390.8,586.8 L391.1,579.2 L391.5,571.8 L391.9,565.5 L392.2,560 L392.6,555.3 L393,551.3 L393.3,552.2 L393.7,554.5 L394.1,557 L394.4,559.7 L394.8,562.7 L395.2,565.9 L395.5,569.1 L395.9,572.5 L396.3,576.1 L396.6,579.2 L397,582.1 L397.4,584.8 L397.7,587.6 L398.1,590.4 L398.5,593.3 L398.8,596.4 L399.2,599.5 L399.6,602.5 L399.9,605.5 L400.3,608.2 L400.7,610.8 L401,613.2 L401.4,615.4 L401.8,617.3 L402.1,619 L402.5,620.4 L402.9,621.6 L403.2,622.7 L403.6,623.6 L404,624.4 L404.3,625.1 L404.7,625.7 L405.1,626.3 L405.4,626.8 L405.8,627.2 L406.2,627.5 L406.5,627.8 L406.9,628 L407.3,628.2 L407.6,628.3 L408,628.5 L408.4,628.6 L408.7,628.6 L409.1,628.7 L409.5,628.7 L409.8,628.7 L410.2,628.7 L410.6,628.7 L410.9,628.6 L411.3,628.6 L411.7,628.5 L412,628.4 L412.4,628.2 L412.8,628 L413.1,627.8 L413.5,627.5 L413.9,627.2 L414.2,626.8 L414.6,626.3 L414.9,625.7 L415.3,625.1 L415.7,624.4 L416,623.6 L416.4,622.6 L416.8,621.5 L417.1,620.2 L417.5,618.6 L417.9,616.6 L418.2,614.1 L418.6,611 L419,606.9 L419.3,601.3 L419.7,594.9 L420.1,586.8 L420.4,579.2 L420.8,571.8 L421.2,565.5 L421.5,560 L421.9,555.3 L422.3,551.3 L422.6,552.2 L423,554.5 L423.4,557 L423.7,559.7 L424.1,562.7 L424.5,565.9 L424.8,569.1 L425.2,572.5 L425.6,576.1 L425.9,579.2 L426.3,582.1 L426.7,584.8 L427,587.6 L427.4,590.4 L427.8,593.3 L428.1,596.4 L428.5,599.5 L428.9,602.5 L429.2,605.5 L429.6,608.2 L430,610.8 L430.3,613.2 L430.7,615.4 L431.1,617.3 L431.4,619 L431.8,620.4 L432.2,621.6 L432.5,622.7 L432.9,623.6 L433.3,624.4 L433.6,625.1 L434,625.7 L434.4,626.3 L434.7,626.8 L435.1,627.2 L435.5,627.5 L435.8,627.8 L436.2,628 L436.6,628.2 L436.9,628.3 L437.3,628.5 L437.7,628.6 L438,628.6 L438.4,628.7 L438.8,628.7 L439.1,628.7 L439.5,628.7 L439.9,628.7 L440.2,628.6 L440.6,628.6 L441,628.5 L441.3,628.4 L441.7,628.2 L442.1,628 L442.4,627.8 L442.8,627.5 L443.2,627.2 L443.5,626.8 L443.9,626.3 L444.3,625.7 L444.6,625.1 L445,624.4 L445.4,623.6 L445.7,622.6 L446.1,621.5 L446.5,620.2 L446.8,618.6 L447.2,616.6 L447.6,614.1 L447.9,611 L448.3,606.9 L448.6,601.3 L449,594.9 L449.4,586.8 L449.7,579.2 L450.1,571.8 L450.5,565.5 L450.8,560 L451.2,555.3 L451.6,551.3 L451.9,552.2 L452.3,554.5 L452.7,557 L453,559.7 L453.4,562.7 L453.8,565.9 L454.1,569.1 L454.5,572.5 L454.9,576.1 L455.2,579.2 L455.6,582.1 L456,584.8 L456.3,587.6 L456.7,590.4 L457.1,593.3 L457.4,596.4 L457.8,599.5 L458.2,602.5 L458.5,605.5 L458.9,608.2 L459.3,610.8 L459.6,613.2 L460,615.4 L460.4,617.3 L460.7,619 L461.1,620.4 L461.5,621.6 L461.8,622.7 L462.2,623.6 L462.6,624.4 L462.9,625.1 L463.3,625.7 L463.7,626.3 L464,626.8 L464.4,627.2 L464.8,627.5 L465.1,627.8 L465.5,628 L465.9,628.2 L466.2,628.3 L466.6,628.5 L467,628.6 L467.3,628.6 L467.7,628.7 L468.1,628.7 L468.4,628.7 L468.8,628.7 L469.2,628.7 L469.5,628.6 L469.9,628.6 L470.3,628.5 L470.6,628.4 L471,628.2 L471.4,628 L471.7,627.8 L472.1,627.5 L472.5,627.2 L472.8,626.8 L473.2,626.3 L473.6,625.7 L473.9,625.1 L474.3,624.4 L474.7,623.6 L475,622.6 L475.4,621.5 L475.8,620.2 L476.1,618.6 L476.5,616.6 L476.9,614.1 L477.2,611 L477.6,606.9 L478,601.3 L478.3,594.9 L478.7,586.8 L479.1,579.2 L479.4,571.8 L479.8,565.5 L480.2,560 L480.5,555.3 L480.9,551.3 L481.3,552.2 L481.6,554.5 L482,557 L482.4,559.7 L482.7,562.7 L483.1,565.9 L483.4,569.1 L483.8,572.5 L484.2,576.1 L484.5,579.2 L484.9,582.1 L485.3,584.8 L485.6,587.6 L486,590.4 L486.4,593.3 L486.7,596.4 L487.1,599.5 L487.5,602.5 L487.8,605.5 L488.2,608.2 L488.6,610.8 L488.9,613.2 L489.3,615.4 L489.7,617.3 L490,619 L490.4,620.4 L490.8,621.6 L491.1,622.7 L491.5,623.6 L491.9,624.4 L492.2,625.1 L492.6,625.7 L493,626.3 L493.3,626.8 L493.7,627.2 L494.1,627.5 L494.4,627.8 L494.8,628 L495.2,628.2 L495.5,628.3 L495.9,628.5 L496.3,628.6 L496.6,628.6 L497,628.7 L497.4,628.7 L497.7,628.7 L498.1,628.7 L498.5,628.7 L498.8,628.6 L499.2,628.6 L499.6,628.5 L499.9,628.4 L500.3,628.2 L500.7,628 L501,627.8 L501.4,627.5 L501.8,627.2 L502.1,626.8 L502.5,626.3 L502.9,625.7 L503.2,625.1 L503.6,624.4 L504,623.6 L504.3,622.6 L504.7,621.5 L505.1,620.2 L505.4,618.6 L505.8,616.6 L506.2,614.1 L506.5,611 L506.9,606.9 L507.3,601.3 L507.6,594.9 L508,586.8 L508.4,579.2 L508.7,571.8 L509.1,565.5 L509.5,560 L509.8,555.3 L510.2,551.3 L510.6,552.2 L510.9,554.5 L511.3,557 L511.7,559.7 L512,562.7 L512.4,565.9 L512.8,569.1 L513.1,572.5 L513.5,576.1 L513.9,579.2 L514.2,582.1 L514.6,584.8 L515,587.6 L515.3,590.4 L515.7,593.3 L516.1,596.4 L516.4,599.5 L516.8,602.5 L517.2,605.5 L517.5,608.2 L517.9,610.8 L518.2,613.2 L518.6,615.4 L519,617.3 L519.3,619 L519.7,620.4 L520.1,621.6 L520.4,622.7 L520.8,623.6 L521.2,624.4 L521.5,625.1 L521.9,625.7 L522.3,626.3 L522.6,626.8 L523,627.2 L523.4,627.5 L523.7,627.8 L524.1,628 L524.5,628.2 L524.8,628.3 L525.2,628.5 L525.6,628.6 L525.9,628.6 L526.3,628.7 L526.7,628.7 L527,628.7 L527.4,628.7 L527.8,628.7 L528.1,628.6 L528.5,628.6 L528.9,628.5 L529.2,628.4 L529.6,628.2 L530,628 L530.3,627.8 L530.7,627.5 L531.1,627.2 L531.4,626.8 L531.8,626.3 L532.2,625.7 L532.5,625.1 L532.9,624.4 L533.3,623.6 L533.6,622.6 L534,621.5 L534.4,620.2 L534.7,618.6 L535.1,616.6 L535.5,614.1 L535.8,611 L536.2,606.9 L536.6,601.3 L536.9,594.9 L537.3,586.8 L537.7,579.2 L538,571.8 L538.4,565.5 L538.8,560 L539.1,555.3 L539.5,551.3 L539.9,552.2 L540.2,554.5 L540.6,557 L541,559.7 L541.3,562.7 L541.7,565.9 L542.1,569.1 L542.4,572.5 L542.8,576.1 L543.2,579.2 L543.5,582.1 L543.9,584.8 L544.3,587.6 L544.6,590.4 L545,593.3 L545.4,596.4 L545.7,599.5 L546.1,602.5 L546.5,605.5 L546.8,608.2 L547.2,610.8 L547.6,613.2 L547.9,615.4 L548.3,617.3 L548.7,619 L549,620.4 L549.4,621.6 L549.8,622.7 L550.1,623.6 L550.5,624.4 L550.9,625.1 L551.2,625.7 L551.6,626.3 L551.9,626.8 L552.3,627.2 L552.7,627.5 L553,627.8 L553.4,628 L553.8,628.2 L554.1,628.3 L554.5,628.5 L554.9,628.6 L555.2,628.6 L555.6,628.7 L556,628.7 L556.3,628.7 L556.7,628.7 L557.1,628.7 L557.4,628.6 L557.8,628.6 L558.2,628.5 L558.5,628.4 L558.9,628.2 L559.3,628 L559.6,627.8 L560,627.5 L560.4,627.2 L560.7,626.8 L561.1,626.3 L561.5,625.7 L561.8,625.1 L562.2,624.4 L562.6,623.6 L562.9,622.6 L563.3,621.5 L563.7,620.2 L564,618.6 L564.4,616.6 L564.8,614.1 L565.1,611 L565.5,606.9 L565.9,601.3 L566.2,594.9 L566.6,586.8 L567,579.2 L567.3,571.8 L567.7,565.5 L568.1,560 L568.4,555.3 L568.8,551.3 L569.2,552.2 L569.5,554.5 L569.9,557 L570.3,559.7 L570.6,562.7 L571,565.9 L571.4,569.1 L571.7,572.5 L572.1,576.1 L572.5,579.2 L572.8,582.1 L573.2,584.8 L573.6,587.6 L573.9,590.4 L574.3,593.3 L574.7,596.4 L575,599.5 L575.4,602.5 L575.8,605.5 L576.1,608.2 L576.5,610.8 L576.9,613.2 L577.2,615.4 L577.6,617.3 L578,619 L578.3,620.4 L578.7,621.6 L579.1,622.7 L579.4,623.6 L579.8,624.4 L580.2,625.1 L580.5,625.7 L580.9,626.3 L581.3,626.8 L581.6,627.2 L582,627.5 L582.4,627.8 L582.7,628 L583.1,628.2 L583.5,628.3 L583.8,628.5 L584.2,628.6 L584.6,628.6 L584.9,628.7 L585.3,628.7 L585.7,628.7 L586,628.7 L586.4,628.7 L586.7,628.6 L587.1,628.6 L587.5,628.5 L587.8,628.4 L588.2,628.2 L588.6,628 L588.9,627.8 L589.3,627.5 L589.7,627.2 L590,626.8 L590.4,626.3 L590.8,625.7 L591.1,625.1 L591.5,624.4 L591.9,623.6 L592.2,622.6 L592.6,621.5 L593,620.2 L593.3,618.6 L593.7,616.6 L594.1,614.1 L594.4,611 L594.8,606.9 L595.2,601.3 L595.5,594.9 L595.9,586.8 L596.3,579.2 L596.6,571.8 L597,565.5 L597.4,560 L597.7,555.3 L598.1,551.3 L598.5,552.2 L598.8,554.5 L599.2,557 L599.6,559.7 L599.9,562.7 L600.3,565.9 L600.7,569.1 L601,572.5 L601.4,576.1 L601.8,579.2 L602.1,582.1 L602.5,584.8 L602.9,587.6 L603.2,590.4 L603.6,593.3 L604,596.4 L604.3,599.5 L604.7,602.5 L605.1,605.5 L605.4,608.2 L605.8,610.8 L606.2,613.2 L606.5,615.4 L606.9,617.3 L607.3,619 L607.6,620.4 L608,621.6 L608.4,622.7 L608.7,623.6 L609.1,624.4 L609.5,625.1 L609.8,625.7 L610.2,626.3 L610.6,626.8 L610.9,627.2 L611.3,627.5 L611.7,627.8 L612,628 L612.4,628.2 L612.8,628.3 L613.1,628.5 L613.5,628.6 L613.9,628.6 L614.2,628.7 L614.6,628.7 L615,628.7 L615.3,628.7 L615.7,628.7 L616.1,628.6 L616.4,628.6 L616.8,628.5 L617.2,628.4 L617.5,628.2 L617.9,628 L618.3,627.8 L618.6,627.5 L619,627.2 L619.4,626.8 L619.7,626.3 L620.1,625.7 L620.5,625.1 L620.8,624.4 L621.2,623.6 L621.5,622.6 L621.9,621.5 L622.3,620.2 L622.6,618.6 L623,616.6 L623.4,614.1 L623.7,611 L624.1,606.9 L624.5,601.3 L624.8,594.9 L625.2,586.8 L625.6,579.2 L625.9,571.8 L626.3,565.5 L626.7,560 L627,555.3 L627.4,551.3 L627.8,552.2 L628.1,554.5 L628.5,557 L628.9,559.7 L629.2,562.7 L629.6,565.9 L630,569.1 L630.3,572.5 L630.7,576.1 L631.1,579.2 L631.4,582.1 L631.8,584.8 L632.2,587.6 L632.5,590.4 L632.9,593.3 L633.3,596.4 L633.6,599.5 L634,602.5 L634.4,605.5 L634.7,608.2 L635.1,610.8 L635.5,613.2 L635.8,615.4 L636.2,617.3 L636.6,619 L636.9,620.4 L637.3,621.6 L637.7,622.7 L638,623.6 L638.4,624.4 L638.8,625.1 L639.1,625.7 L639.5,626.3 L639.9,626.8 L640.2,627.2 L640.6,627.5 L641,627.8 L641.3,628 L641.7,628.2 L642.1,628.3 L642.4,628.5 L642.8,628.6 L643.2,628.6 L643.5,628.7 L643.9,628.7 L644.3,628.7 L644.6,628.7 L645,628.7 L645.4,628.6 L645.7,628.6 L646.1,628.5 L646.5,628.4 L646.8,628.2 L647.2,628 L647.6,627.8 L647.9,627.5 L648.3,627.2 L648.7,626.8 L649,626.3 L649.4,625.7 L649.8,625.1 L650.1,624.4 L650.5,623.6 L650.9,622.6 L651.2,621.5 L651.6,620.2 L652,618.6 L652.3,616.6 L652.7,614.1 L653.1,611 L653.4,606.9 L653.8,601.3 L654.2,594.9 L654.5,586.8 L654.9,579.2 L655.2,571.8 L655.6,565.5 L656,560 L656.3,555.3 L656.7,551.3 L657.1,552.2 L657.4,554.5 L657.8,557 L658.2,559.7 L658.5,562.7 L658.9,565.9 L659.3,569.1 L659.6,572.5 L660,576.1 L660.4,579.2 L660.7,582.1 L661.1,584.8 L661.5,587.6 L661.8,590.4 L662.2,593.3 L662.6,596.4 L662.9,599.5 L663.3,602.5 L663.7,605.5 L664,608.2 L664.4,610.8 L664.8,613.2 L665.1,615.4 L665.5,617.3 L665.9,619 L666.2,620.4 L666.6,621.6 L667,622.7 L667.3,623.6 L667.7,624.4 L668.1,625.1 L668.4,625.7 L668.8,626.3 L669.2,626.8 L669.5,627.2 L669.9,627.5 L670.3,627.8 L670.6,628 L671,628.2 L671.4,628.3 L671.7,628.5 L672.1,628.6 L672.5,628.6 L672.8,628.7 L673.2,628.7 L673.6,628.7 L673.9,628.7 L674.3,628.7 L674.7,628.6 L675,628.6 L675.4,628.5 L675.8,628.4 L676.1,628.2 L676.5,628 L676.9,627.8 L677.2,627.5 L677.6,627.2 L678,626.8 L678.3,626.3 L678.7,625.7 L679.1,625.1 L679.4,624.4 L679.8,623.6 L680.2,622.6 L680.5,621.5 L680.9,620.2 L681.3,618.6 L681.6,616.6 L682,614.1 L682.4,611 L682.7,606.9 L683.1,601.3 L683.5,594.9 L683.8,586.8 L684.2,579.2 L684.6,571.8 L684.9,565.5 L685.3,560 L685.7,555.3 L686,551.3 L686.4,552.2 L686.8,554.5 L687.1,557 L687.5,559.7 L687.9,562.7 L688.2,565.9 L688.6,569.1 L689,572.5 L689.3,576.1 L689.7,579.2 L690,582.1 L690.4,584.8 L690.8,587.6 L691.1,590.4 L691.5,593.3 L691.9,596.4 L692.2,599.5 L692.6,602.5 L693,605.5 L693.3,608.2 L693.7,610.8 L694.1,613.2 L694.4,615.4 L694.8,617.3 L695.2,619 L695.5,620.4 L695.9,621.6 L696.3,622.7 L696.6,623.6 L697,624.4 L697.4,625.1 L697.7,625.7 L698.1,626.3 L698.5,626.8 L698.8,627.2 L699.2,627.5 L699.6,627.8 L699.9,628 L700.3,628.2 L700.7,628.3 L701,628.5 L701.4,628.6 L701.8,628.6 L702.1,628.7 L702.5,628.7 L702.9,628.7 L703.2,628.7 L703.6,628.7 L704,628.6 L704.3,628.6 L704.7,628.5 L705.1,628.4 L705.4,628.2 L705.8,628.1 L706.2,627.9 L706.5,627.7 L706.9,627.5" fill="none" stroke="#d9534f" stroke-width="4.0" stroke-linejoin="round" stroke-linecap="butt" /></g>
<rect x="120.8" y="516.7" width="586.1" height="123.1" fill="none" stroke="#000" stroke-width="2.1"/>
<path d="M120.8,629.8 l-9.4,0" stroke="#000" stroke-width="2.1" fill="none"/>
<text x="102.9" y="640.9" font-size="26.4" text-anchor="end" fill="#000" >0.00</text>
<path d="M120.8,565.6 l-9.4,0" stroke="#000" stroke-width="2.1" fill="none"/>
<text x="102.9" y="576.7" font-size="26.4" text-anchor="end" fill="#000" >0.25</text>
<path d="M267.3,639.8 l0,8.9" stroke="#000" stroke-width="2.1" fill="none"/>
<path d="M413.9,639.8 l0,8.9" stroke="#000" stroke-width="2.1" fill="none"/>
<path d="M560.4,639.8 l0,8.9" stroke="#000" stroke-width="2.1" fill="none"/>
<path d="M706.9,639.8 l0,8.9" stroke="#000" stroke-width="2.1" fill="none"/>
<text transform="translate(23.8,579.8) rotate(-90)" font-size="26.4" text-anchor="middle"><tspan font-style="italic">B</tspan><tspan dx="4.49">[</tspan><tspan font-style="italic">Kg</tspan>/<tspan font-style="italic">m</tspan><tspan font-size="18.48" dy="-9.5">2</tspan><tspan dy="9.5">]</tspan></text>
<text x="149.5" y="538.1" font-size="26.2" text-anchor="start" fill="#000" >1<tspan dx="5.32">:</tspan><tspan dx="4.98">1</tspan> Periodic</text>
<clipPath id="c4"><rect x="120.8" y="664.7" width="586.1" height="123.1"/></clipPath>
<g clip-path="url(#c4)"><path d="M120.8,756 L121.2,750.9 L121.5,744.3 L121.9,736.5 L122.3,727.5 L122.6,719.3 L123,711.7 L123.4,705.3 L123.7,699.7 L124.1,695 L124.5,693.4 L124.8,695.6 L125.2,697.7 L125.6,699.7 L125.9,701.7 L126.3,703.5 L126.7,705.3 L127,707.2 L127.4,709.2 L127.8,711.3 L128.1,713.4 L128.5,715.6 L128.9,717.9 L129.2,720.3 L129.6,722.9 L130,725.8 L130.3,728.8 L130.7,731.9 L131.1,735 L131.4,737.9 L131.8,740.7 L132.2,743.5 L132.5,746.2 L132.9,748.9 L133.3,751.5 L133.6,754 L134,756.5 L134.4,759.1 L134.7,761.6 L135.1,763.8 L135.5,765.6 L135.8,766.9 L136.2,768.1 L136.6,769.1 L136.9,770.1 L137.3,770.9 L137.7,771.6 L138,772.3 L138.4,772.9 L138.7,773.4 L139.1,773.9 L139.5,774.4 L139.8,774.8 L140.2,775.2 L140.6,775.5 L140.9,775.8 L141.3,776 L141.7,776.2 L142,776.3 L142.4,776.4 L142.8,776.5 L143.1,776.5 L143.5,776.6 L143.9,776.6 L144.2,776.7 L144.6,776.7 L145,776.7 L145.3,776.7 L145.7,776.7 L146.1,776.7 L146.4,776.7 L146.8,776.7 L147.2,776.6 L147.5,776.5 L147.9,776.4 L148.3,776.3 L148.6,776.1 L149,775.9 L149.4,775.7 L149.7,775.5 L150.1,775.2 L150.5,774.9 L150.8,774.5 L151.2,774.1 L151.6,773.7 L151.9,773.2 L152.3,772.6 L152.7,772 L153,771.3 L153.4,770.4 L153.8,769.4 L154.1,768.2 L154.5,767.1 L154.9,765.7 L155.2,764.3 L155.6,762.7 L156,761 L156.3,759.2 L156.7,757.2 L157.1,755 L157.4,752.6 L157.8,750.2 L158.2,747.9 L158.5,745.6 L158.9,743.3 L159.3,741 L159.6,738.7 L160,736.6 L160.4,734.8 L160.7,733.4 L161.1,732.1 L161.5,731 L161.8,729.9 L162.2,729.1 L162.6,729.4 L162.9,731.2 L163.3,733.2 L163.7,735.5 L164,737.9 L164.4,740.5 L164.8,743.3 L165.1,746 L165.5,748.2 L165.9,750.4 L166.2,752.7 L166.6,754.9 L167,757.4 L167.3,759.8 L167.7,762.2 L168.1,764.4 L168.4,766.3 L168.8,768.1 L169.2,769.6 L169.5,770.9 L169.9,772 L170.3,772.8 L170.6,773.6 L171,774.2 L171.4,774.7 L171.7,775.1 L172.1,775.4 L172.5,775.6 L172.8,775.7 L173.2,775.7 L173.5,775.6 L173.9,775.5 L174.3,775.2 L174.6,774.9 L175,774.5 L175.4,774 L175.7,773.4 L176.1,772.7 L176.5,771.9 L176.8,771 L177.2,769.9 L177.6,768.6 L177.9,767.1 L178.3,765.2 L178.7,762.8 L179,759.9 L179.4,756.1 L179.8,750.9 L180.1,744.4 L180.5,736.5 L180.9,727.5 L181.2,719.3 L181.6,711.7 L182,705.3 L182.3,699.7 L182.7,695 L183.1,693.4 L183.4,695.6 L183.8,697.7 L184.2,699.7 L184.5,701.7 L184.9,703.5 L185.3,705.3 L185.6,707.2 L186,709.2 L186.4,711.3 L186.7,713.4 L187.1,715.6 L187.5,717.9 L187.8,720.3 L188.2,722.9 L188.6,725.8 L188.9,728.8 L189.3,731.9 L189.7,735 L190,737.9 L190.4,740.7 L190.8,743.5 L191.1,746.2 L191.5,748.9 L191.9,751.5 L192.2,754 L192.6,756.5 L193,759.1 L193.3,761.6 L193.7,763.8 L194.1,765.6 L194.4,766.9 L194.8,768.1 L195.2,769.1 L195.5,770.1 L195.9,770.9 L196.3,771.6 L196.6,772.3 L197,772.9 L197.4,773.4 L197.7,773.9 L198.1,774.4 L198.5,774.8 L198.8,775.2 L199.2,775.5 L199.6,775.8 L199.9,776 L200.3,776.2 L200.7,776.3 L201,776.4 L201.4,776.5 L201.8,776.5 L202.1,776.6 L202.5,776.6 L202.9,776.7 L203.2,776.7 L203.6,776.7 L204,776.7 L204.3,776.7 L204.7,776.7 L205.1,776.7 L205.4,776.7 L205.8,776.6 L206.2,776.5 L206.5,776.4 L206.9,776.3 L207.2,776.1 L207.6,775.9 L208,775.7 L208.3,775.5 L208.7,775.2 L209.1,774.9 L209.4,774.5 L209.8,774.1 L210.2,773.7 L210.5,773.2 L210.9,772.6 L211.3,772 L211.6,771.3 L212,770.4 L212.4,769.4 L212.7,768.2 L213.1,767.1 L213.5,765.7 L213.8,764.3 L214.2,762.7 L214.6,761 L214.9,759.2 L215.3,757.2 L215.7,755 L216,752.6 L216.4,750.2 L216.8,747.9 L217.1,745.6 L217.5,743.3 L217.9,741 L218.2,738.7 L218.6,736.6 L219,734.8 L219.3,733.4 L219.7,732.1 L220.1,731 L220.4,729.9 L220.8,729.1 L221.2,729.4 L221.5,731.2 L221.9,733.2 L222.3,735.5 L222.6,737.9 L223,740.5 L223.4,743.3 L223.7,746 L224.1,748.2 L224.5,750.4 L224.8,752.7 L225.2,754.9 L225.6,757.4 L225.9,759.8 L226.3,762.2 L226.7,764.4 L227,766.3 L227.4,768.1 L227.8,769.6 L228.1,770.9 L228.5,772 L228.9,772.8 L229.2,773.6 L229.6,774.2 L230,774.7 L230.3,775.1 L230.7,775.4 L231.1,775.6 L231.4,775.7 L231.8,775.7 L232.2,775.6 L232.5,775.5 L232.9,775.2 L233.3,774.9 L233.6,774.5 L234,774 L234.4,773.4 L234.7,772.7 L235.1,771.9 L235.5,771 L235.8,769.9 L236.2,768.6 L236.6,767.1 L236.9,765.2 L237.3,762.8 L237.7,759.9 L238,756.1 L238.4,750.9 L238.8,744.4 L239.1,736.5 L239.5,727.5 L239.9,719.3 L240.2,711.7 L240.6,705.3 L241,699.7 L241.3,695 L241.7,693.4 L242,695.6 L242.4,697.7 L242.8,699.7 L243.1,701.7 L243.5,703.5 L243.9,705.3 L244.2,707.2 L244.6,709.2 L245,711.3 L245.3,713.4 L245.7,715.6 L246.1,717.9 L246.4,720.3 L246.8,722.9 L247.2,725.8 L247.5,728.8 L247.9,731.9 L248.3,735 L248.6,737.9 L249,740.7 L249.4,743.5 L249.7,746.2 L250.1,748.9 L250.5,751.5 L250.8,754 L251.2,756.5 L251.6,759.1 L251.9,761.6 L252.3,763.8 L252.7,765.6 L253,766.9 L253.4,768.1 L253.8,769.1 L254.1,770.1 L254.5,770.9 L254.9,771.6 L255.2,772.3 L255.6,772.9 L256,773.4 L256.3,773.9 L256.7,774.4 L257.1,774.8 L257.4,775.2 L257.8,775.5 L258.2,775.8 L258.5,776 L258.9,776.2 L259.3,776.3 L259.6,776.4 L260,776.5 L260.4,776.5 L260.7,776.6 L261.1,776.6 L261.5,776.7 L261.8,776.7 L262.2,776.7 L262.6,776.7 L262.9,776.7 L263.3,776.7 L263.7,776.7 L264,776.7 L264.4,776.6 L264.8,776.5 L265.1,776.4 L265.5,776.3 L265.9,776.1 L266.2,775.9 L266.6,775.7 L267,775.5 L267.3,775.2 L267.7,774.9 L268.1,774.5 L268.4,774.1 L268.8,773.7 L269.2,773.2 L269.5,772.6 L269.9,772 L270.3,771.3 L270.6,770.4 L271,769.4 L271.4,768.2 L271.7,767.1 L272.1,765.7 L272.5,764.3 L272.8,762.7 L273.2,761 L273.6,759.2 L273.9,757.2 L274.3,755 L274.7,752.6 L275,750.2 L275.4,747.9 L275.8,745.6 L276.1,743.3 L276.5,741 L276.8,738.7 L277.2,736.6 L277.6,734.8 L277.9,733.4 L278.3,732.1 L278.7,731 L279,729.9 L279.4,729.1 L279.8,729.4 L280.1,731.2 L280.5,733.2 L280.9,735.5 L281.2,737.9 L281.6,740.5 L282,743.3 L282.3,746 L282.7,748.2 L283.1,750.4 L283.4,752.7 L283.8,754.9 L284.2,757.4 L284.5,759.8 L284.9,762.2 L285.3,764.4 L285.6,766.3 L286,768.1 L286.4,769.6 L286.7,770.9 L287.1,772 L287.5,772.8 L287.8,773.6 L288.2,774.2 L288.6,774.7 L288.9,775.1 L289.3,775.4 L289.7,775.6 L290,775.7 L290.4,775.7 L290.8,775.6 L291.1,775.5 L291.5,775.2 L291.9,774.9 L292.2,774.5 L292.6,774 L293,773.4 L293.3,772.7 L293.7,771.9 L294.1,771 L294.4,769.9 L294.8,768.6 L295.2,767.1 L295.5,765.2 L295.9,762.8 L296.3,759.9 L296.6,756.1 L297,750.9 L297.4,744.4 L297.7,736.5 L298.1,727.5 L298.5,719.3 L298.8,711.7 L299.2,705.3 L299.6,699.7 L299.9,695 L300.3,693.4 L300.7,695.6 L301,697.7 L301.4,699.7 L301.8,701.7 L302.1,703.5 L302.5,705.3 L302.9,707.2 L303.2,709.2 L303.6,711.3 L304,713.4 L304.3,715.6 L304.7,717.9 L305.1,720.3 L305.4,722.9 L305.8,725.8 L306.2,728.8 L306.5,731.9 L306.9,735 L307.3,737.9 L307.6,740.7 L308,743.5 L308.4,746.2 L308.7,748.9 L309.1,751.5 L309.5,754 L309.8,756.5 L310.2,759.1 L310.5,761.6 L310.9,763.8 L311.3,765.6 L311.6,766.9 L312,768.1 L312.4,769.1 L312.7,770.1 L313.1,770.9 L313.5,771.6 L313.8,772.3 L314.2,772.9 L314.6,773.4 L314.9,773.9 L315.3,774.4 L315.7,774.8 L316,775.2 L316.4,775.5 L316.8,775.8 L317.1,776 L317.5,776.2 L317.9,776.3 L318.2,776.4 L318.6,776.5 L319,776.5 L319.3,776.6 L319.7,776.6 L320.1,776.7 L320.4,776.7 L320.8,776.7 L321.2,776.7 L321.5,776.7 L321.9,776.7 L322.3,776.7 L322.6,776.7 L323,776.6 L323.4,776.5 L323.7,776.4 L324.1,776.3 L324.5,776.1 L324.8,775.9 L325.2,775.7 L325.6,775.5 L325.9,775.2 L326.3,774.9 L326.7,774.5 L327,774.1 L327.4,773.7 L327.8,773.2 L328.1,772.6 L328.5,772 L328.9,771.3 L329.2,770.4 L329.6,769.4 L330,768.2 L330.3,767.1 L330.7,765.7 L331.1,764.3 L331.4,762.7 L331.8,761 L332.2,759.2 L332.5,757.2 L332.9,755 L333.3,752.6 L333.6,750.2 L334,747.9 L334.4,745.6 L334.7,743.3 L335.1,741 L335.5,738.7 L335.8,736.6 L336.2,734.8 L336.6,733.4 L336.9,732.1 L337.3,731 L337.7,729.9 L338,729.1 L338.4,729.4 L338.8,731.2 L339.1,733.2 L339.5,735.5 L339.9,737.9 L340.2,740.5 L340.6,743.3 L341,746 L341.3,748.2 L341.7,750.4 L342.1,752.7 L342.4,754.9 L342.8,757.4 L343.2,759.8 L343.5,762.2 L343.9,764.4 L344.3,766.3 L344.6,768.1 L345,769.6 L345.3,770.9 L345.7,772 L346.1,772.8 L346.4,773.6 L346.8,774.2 L347.2,774.7 L347.5,775.1 L347.9,775.4 L348.3,775.6 L348.6,775.7 L349,775.7 L349.4,775.6 L349.7,775.5 L350.1,775.2 L350.5,774.9 L350.8,774.5 L351.2,774 L351.6,773.4 L351.9,772.7 L352.3,771.9 L352.7,771 L353,769.9 L353.4,768.6 L353.8,767.1 L354.1,765.2 L354.5,762.8 L354.9,759.9 L355.2,756.1 L355.6,750.9 L356,744.4 L356.3,736.5 L356.7,727.5 L357.1,719.3 L357.4,711.7 L357.8,705.3 L358.2,699.7 L358.5,695 L358.9,693.4 L359.3,695.6 L359.6,697.7 L360,699.7 L360.4,701.7 L360.7,703.5 L361.1,705.3 L361.5,707.2 L361.8,709.2 L362.2,711.3 L362.6,713.4 L362.9,715.6 L363.3,717.9 L363.7,720.3 L364,722.9 L364.4,725.8 L364.8,728.8 L365.1,731.9 L365.5,735 L365.9,737.9 L366.2,740.7 L366.6,743.5 L367,746.2 L367.3,748.9 L367.7,751.5 L368.1,754 L368.4,756.5 L368.8,759.1 L369.2,761.6 L369.5,763.8 L369.9,765.6 L370.3,766.9 L370.6,768.1 L371,769.1 L371.4,770.1 L371.7,770.9 L372.1,771.6 L372.5,772.3 L372.8,772.9 L373.2,773.4 L373.6,773.9 L373.9,774.4 L374.3,774.8 L374.7,775.2 L375,775.5 L375.4,775.8 L375.8,776 L376.1,776.2 L376.5,776.3 L376.9,776.4 L377.2,776.5 L377.6,776.5 L378,776.6 L378.3,776.6 L378.7,776.7 L379.1,776.7 L379.4,776.7 L379.8,776.7 L380.1,776.7 L380.5,776.7 L380.9,776.7 L381.2,776.7 L381.6,776.6 L382,776.5 L382.3,776.4 L382.7,776.3 L383.1,776.1 L383.4,775.9 L383.8,775.7 L384.2,775.5 L384.5,775.2 L384.9,774.9 L385.3,774.5 L385.6,774.1 L386,773.7 L386.4,773.2 L386.7,772.6 L387.1,772 L387.5,771.3 L387.8,770.4 L388.2,769.4 L388.6,768.2 L388.9,767.1 L389.3,765.7 L389.7,764.3 L390,762.7 L390.4,761 L390.8,759.2 L391.1,757.2 L391.5,755 L391.9,752.6 L392.2,750.2 L392.6,747.9 L393,745.6 L393.3,743.3 L393.7,741 L394.1,738.7 L394.4,736.6 L394.8,734.8 L395.2,733.4 L395.5,732.1 L395.9,731 L396.3,729.9 L396.6,729.1 L397,729.4 L397.4,731.2 L397.7,733.2 L398.1,735.5 L398.5,737.9 L398.8,740.5 L399.2,743.3 L399.6,746 L399.9,748.2 L400.3,750.4 L400.7,752.7 L401,754.9 L401.4,757.4 L401.8,759.8 L402.1,762.2 L402.5,764.4 L402.9,766.3 L403.2,768.1 L403.6,769.6 L404,770.9 L404.3,772 L404.7,772.8 L405.1,773.6 L405.4,774.2 L405.8,774.7 L406.2,775.1 L406.5,775.4 L406.9,775.6 L407.3,775.7 L407.6,775.7 L408,775.6 L408.4,775.5 L408.7,775.2 L409.1,774.9 L409.5,774.5 L409.8,774 L410.2,773.4 L410.6,772.7 L410.9,771.9 L411.3,771 L411.7,769.9 L412,768.6 L412.4,767.1 L412.8,765.2 L413.1,762.8 L413.5,759.9 L413.9,756.1 L414.2,750.9 L414.6,744.4 L414.9,736.5 L415.3,727.5 L415.7,719.3 L416,711.7 L416.4,705.3 L416.8,699.7 L417.1,695 L417.5,693.4 L417.9,695.6 L418.2,697.7 L418.6,699.7 L419,701.7 L419.3,703.5 L419.7,705.3 L420.1,707.2 L420.4,709.2 L420.8,711.3 L421.2,713.4 L421.5,715.6 L421.9,717.9 L422.3,720.3 L422.6,722.9 L423,725.8 L423.4,728.8 L423.7,731.9 L424.1,735 L424.5,737.9 L424.8,740.7 L425.2,743.5 L425.6,746.2 L425.9,748.9 L426.3,751.5 L426.7,754 L427,756.5 L427.4,759.1 L427.8,761.6 L428.1,763.8 L428.5,765.6 L428.9,766.9 L429.2,768.1 L429.6,769.1 L430,770.1 L430.3,770.9 L430.7,771.6 L431.1,772.3 L431.4,772.9 L431.8,773.4 L432.2,773.9 L432.5,774.4 L432.9,774.8 L433.3,775.2 L433.6,775.5 L434,775.8 L434.4,776 L434.7,776.2 L435.1,776.3 L435.5,776.4 L435.8,776.5 L436.2,776.5 L436.6,776.6 L436.9,776.6 L437.3,776.7 L437.7,776.7 L438,776.7 L438.4,776.7 L438.8,776.7 L439.1,776.7 L439.5,776.7 L439.9,776.7 L440.2,776.6 L440.6,776.5 L441,776.4 L441.3,776.3 L441.7,776.1 L442.1,775.9 L442.4,775.7 L442.8,775.5 L443.2,775.2 L443.5,774.9 L443.9,774.5 L444.3,774.1 L444.6,773.7 L445,773.2 L445.4,772.6 L445.7,772 L446.1,771.3 L446.5,770.4 L446.8,769.4 L447.2,768.2 L447.6,767.1 L447.9,765.7 L448.3,764.3 L448.6,762.7 L449,761 L449.4,759.2 L449.7,757.2 L450.1,755 L450.5,752.6 L450.8,750.2 L451.2,747.9 L451.6,745.6 L451.9,743.3 L452.3,741 L452.7,738.7 L453,736.6 L453.4,734.8 L453.8,733.4 L454.1,732.1 L454.5,731 L454.9,729.9 L455.2,729.1 L455.6,729.4 L456,731.2 L456.3,733.2 L456.7,735.5 L457.1,737.9 L457.4,740.5 L457.8,743.3 L458.2,746 L458.5,748.2 L458.9,750.4 L459.3,752.7 L459.6,754.9 L460,757.4 L460.4,759.8 L460.7,762.2 L461.1,764.4 L461.5,766.3 L461.8,768.1 L462.2,769.6 L462.6,770.9 L462.9,772 L463.3,772.8 L463.7,773.6 L464,774.2 L464.4,774.7 L464.8,775.1 L465.1,775.4 L465.5,775.6 L465.9,775.7 L466.2,775.7 L466.6,775.6 L467,775.5 L467.3,775.2 L467.7,774.9 L468.1,774.5 L468.4,774 L468.8,773.4 L469.2,772.7 L469.5,771.9 L469.9,771 L470.3,769.9 L470.6,768.6 L471,767.1 L471.4,765.2 L471.7,762.8 L472.1,759.9 L472.5,756.1 L472.8,750.9 L473.2,744.4 L473.6,736.5 L473.9,727.5 L474.3,719.3 L474.7,711.7 L475,705.3 L475.4,699.7 L475.8,695 L476.1,693.4 L476.5,695.6 L476.9,697.7 L477.2,699.7 L477.6,701.7 L478,703.5 L478.3,705.3 L478.7,707.2 L479.1,709.2 L479.4,711.3 L479.8,713.4 L480.2,715.6 L480.5,717.9 L480.9,720.3 L481.3,722.9 L481.6,725.8 L482,728.8 L482.4,731.9 L482.7,735 L483.1,737.9 L483.4,740.7 L483.8,743.5 L484.2,746.2 L484.5,748.9 L484.9,751.5 L485.3,754 L485.6,756.5 L486,759.1 L486.4,761.6 L486.7,763.8 L487.1,765.6 L487.5,766.9 L487.8,768.1 L488.2,769.1 L488.6,770.1 L488.9,770.9 L489.3,771.6 L489.7,772.3 L490,772.9 L490.4,773.4 L490.8,773.9 L491.1,774.4 L491.5,774.8 L491.9,775.2 L492.2,775.5 L492.6,775.8 L493,776 L493.3,776.2 L493.7,776.3 L494.1,776.4 L494.4,776.5 L494.8,776.5 L495.2,776.6 L495.5,776.6 L495.9,776.7 L496.3,776.7 L496.6,776.7 L497,776.7 L497.4,776.7 L497.7,776.7 L498.1,776.7 L498.5,776.7 L498.8,776.6 L499.2,776.5 L499.6,776.4 L499.9,776.3 L500.3,776.1 L500.7,775.9 L501,775.7 L501.4,775.5 L501.8,775.2 L502.1,774.9 L502.5,774.5 L502.9,774.1 L503.2,773.7 L503.6,773.2 L504,772.6 L504.3,772 L504.7,771.3 L505.1,770.4 L505.4,769.4 L505.8,768.2 L506.2,767.1 L506.5,765.7 L506.9,764.3 L507.3,762.7 L507.6,761 L508,759.2 L508.4,757.2 L508.7,755 L509.1,752.6 L509.5,750.2 L509.8,747.9 L510.2,745.6 L510.6,743.3 L510.9,741 L511.3,738.7 L511.7,736.6 L512,734.8 L512.4,733.4 L512.8,732.1 L513.1,731 L513.5,729.9 L513.9,729.1 L514.2,729.4 L514.6,731.2 L515,733.2 L515.3,735.5 L515.7,737.9 L516.1,740.5 L516.4,743.3 L516.8,746 L517.2,748.2 L517.5,750.4 L517.9,752.7 L518.2,754.9 L518.6,757.4 L519,759.8 L519.3,762.2 L519.7,764.4 L520.1,766.3 L520.4,768.1 L520.8,769.6 L521.2,770.9 L521.5,772 L521.9,772.8 L522.3,773.6 L522.6,774.2 L523,774.7 L523.4,775.1 L523.7,775.4 L524.1,775.6 L524.5,775.7 L524.8,775.7 L525.2,775.6 L525.6,775.5 L525.9,775.2 L526.3,774.9 L526.7,774.5 L527,774 L527.4,773.4 L527.8,772.7 L528.1,771.9 L528.5,771 L528.9,769.9 L529.2,768.6 L529.6,767.1 L530,765.2 L530.3,762.8 L530.7,759.9 L531.1,756.1 L531.4,750.9 L531.8,744.4 L532.2,736.5 L532.5,727.5 L532.9,719.3 L533.3,711.7 L533.6,705.3 L534,699.7 L534.4,695 L534.7,693.4 L535.1,695.6 L535.5,697.7 L535.8,699.7 L536.2,701.7 L536.6,703.5 L536.9,705.3 L537.3,707.2 L537.7,709.2 L538,711.3 L538.4,713.4 L538.8,715.6 L539.1,717.9 L539.5,720.3 L539.9,722.9 L540.2,725.8 L540.6,728.8 L541,731.9 L541.3,735 L541.7,737.9 L542.1,740.7 L542.4,743.5 L542.8,746.2 L543.2,748.9 L543.5,751.5 L543.9,754 L544.3,756.5 L544.6,759.1 L545,761.6 L545.4,763.8 L545.7,765.6 L546.1,766.9 L546.5,768.1 L546.8,769.1 L547.2,770.1 L547.6,770.9 L547.9,771.6 L548.3,772.3 L548.7,772.9 L549,773.4 L549.4,773.9 L549.8,774.4 L550.1,774.8 L550.5,775.2 L550.9,775.5 L551.2,775.8 L551.6,776 L551.9,776.2 L552.3,776.3 L552.7,776.4 L553,776.5 L553.4,776.5 L553.8,776.6 L554.1,776.6 L554.5,776.7 L554.9,776.7 L555.2,776.7 L555.6,776.7 L556,776.7 L556.3,776.7 L556.7,776.7 L557.1,776.7 L557.4,776.6 L557.8,776.5 L558.2,776.4 L558.5,776.3 L558.9,776.1 L559.3,775.9 L559.6,775.7 L560,775.5 L560.4,775.2 L560.7,774.9 L561.1,774.5 L561.5,774.1 L561.8,773.7 L562.2,773.2 L562.6,772.6 L562.9,772 L563.3,771.3 L563.7,770.4 L564,769.4 L564.4,768.2 L564.8,767.1 L565.1,765.7 L565.5,764.3 L565.9,762.7 L566.2,761 L566.6,759.2 L567,757.2 L567.3,755 L567.7,752.6 L568.1,750.2 L568.4,747.9 L568.8,745.6 L569.2,743.3 L569.5,741 L569.9,738.7 L570.3,736.6 L570.6,734.8 L571,733.4 L571.4,732.1 L571.7,731 L572.1,729.9 L572.5,729.1 L572.8,729.4 L573.2,731.2 L573.6,733.2 L573.9,735.5 L574.3,737.9 L574.7,740.5 L575,743.3 L575.4,746 L575.8,748.2 L576.1,750.4 L576.5,752.7 L576.9,754.9 L577.2,757.4 L577.6,759.8 L578,762.2 L578.3,764.4 L578.7,766.3 L579.1,768.1 L579.4,769.6 L579.8,770.9 L580.2,772 L580.5,772.8 L580.9,773.6 L581.3,774.2 L581.6,774.7 L582,775.1 L582.4,775.4 L582.7,775.6 L583.1,775.7 L583.5,775.7 L583.8,775.6 L584.2,775.5 L584.6,775.2 L584.9,774.9 L585.3,774.5 L585.7,774 L586,773.4 L586.4,772.7 L586.7,771.9 L587.1,771 L587.5,769.9 L587.8,768.6 L588.2,767.1 L588.6,765.2 L588.9,762.8 L589.3,759.9 L589.7,756.1 L590,750.9 L590.4,744.4 L590.8,736.5 L591.1,727.5 L591.5,719.3 L591.9,711.7 L592.2,705.3 L592.6,699.7 L593,695 L593.3,693.4 L593.7,695.6 L594.1,697.7 L594.4,699.7 L594.8,701.7 L595.2,703.5 L595.5,705.3 L595.9,707.2 L596.3,709.2 L596.6,711.3 L597,713.4 L597.4,715.6 L597.7,717.9 L598.1,720.3 L598.5,722.9 L598.8,725.8 L599.2,728.8 L599.6,731.9 L599.9,735 L600.3,737.9 L600.7,740.7 L601,743.5 L601.4,746.2 L601.8,748.9 L602.1,751.5 L602.5,754 L602.9,756.5 L603.2,759.1 L603.6,761.6 L604,763.8 L604.3,765.6 L604.7,766.9 L605.1,768.1 L605.4,769.1 L605.8,770.1 L606.2,770.9 L606.5,771.6 L606.9,772.3 L607.3,772.9 L607.6,773.4 L608,773.9 L608.4,774.4 L608.7,774.8 L609.1,775.2 L609.5,775.5 L609.8,775.8 L610.2,776 L610.6,776.2 L610.9,776.3 L611.3,776.4 L611.7,776.5 L612,776.5 L612.4,776.6 L612.8,776.6 L613.1,776.7 L613.5,776.7 L613.9,776.7 L614.2,776.7 L614.6,776.7 L615,776.7 L615.3,776.7 L615.7,776.7 L616.1,776.6 L616.4,776.5 L616.8,776.4 L617.2,776.3 L617.5,776.1 L617.9,775.9 L618.3,775.7 L618.6,775.5 L619,775.2 L619.4,774.9 L619.7,774.5 L620.1,774.1 L620.5,773.7 L620.8,773.2 L621.2,772.6 L621.5,772 L621.9,771.3 L622.3,770.4 L622.6,769.4 L623,768.2 L623.4,767.1 L623.7,765.7 L624.1,764.3 L624.5,762.7 L624.8,761 L625.2,759.2 L625.6,757.2 L625.9,755 L626.3,752.6 L626.7,750.2 L627,747.9 L627.4,745.6 L627.8,743.3 L628.1,741 L628.5,738.7 L628.9,736.6 L629.2,734.8 L629.6,733.4 L630,732.1 L630.3,731 L630.7,729.9 L631.1,729.1 L631.4,729.4 L631.8,731.2 L632.2,733.2 L632.5,735.5 L632.9,737.9 L633.3,740.5 L633.6,743.3 L634,746 L634.4,748.2 L634.7,750.4 L635.1,752.7 L635.5,754.9 L635.8,757.4 L636.2,759.8 L636.6,762.2 L636.9,764.4 L637.3,766.3 L637.7,768.1 L638,769.6 L638.4,770.9 L638.8,772 L639.1,772.8 L639.5,773.6 L639.9,774.2 L640.2,774.7 L640.6,775.1 L641,775.4 L641.3,775.6 L641.7,775.7 L642.1,775.7 L642.4,775.6 L642.8,775.5 L643.2,775.2 L643.5,774.9 L643.9,774.5 L644.3,774 L644.6,773.4 L645,772.7 L645.4,771.9 L645.7,771 L646.1,769.9 L646.5,768.6 L646.8,767.1 L647.2,765.2 L647.6,762.8 L647.9,759.9 L648.3,756.1 L648.7,750.9 L649,744.4 L649.4,736.5 L649.8,727.5 L650.1,719.3 L650.5,711.7 L650.9,705.3 L651.2,699.7 L651.6,695 L652,693.4 L652.3,695.6 L652.7,697.7 L653.1,699.7 L653.4,701.7 L653.8,703.5 L654.2,705.3 L654.5,707.2 L654.9,709.2 L655.2,711.3 L655.6,713.4 L656,715.6 L656.3,717.9 L656.7,720.3 L657.1,722.9 L657.4,725.8 L657.8,728.8 L658.2,731.9 L658.5,735 L658.9,737.9 L659.3,740.7 L659.6,743.5 L660,746.2 L660.4,748.9 L660.7,751.5 L661.1,754 L661.5,756.5 L661.8,759.1 L662.2,761.6 L662.6,763.8 L662.9,765.6 L663.3,766.9 L663.7,768.1 L664,769.1 L664.4,770.1 L664.8,770.9 L665.1,771.6 L665.5,772.3 L665.9,772.9 L666.2,773.4 L666.6,773.9 L667,774.4 L667.3,774.8 L667.7,775.2 L668.1,775.5 L668.4,775.8 L668.8,776 L669.2,776.2 L669.5,776.3 L669.9,776.4 L670.3,776.5 L670.6,776.5 L671,776.6 L671.4,776.6 L671.7,776.7 L672.1,776.7 L672.5,776.7 L672.8,776.7 L673.2,776.7 L673.6,776.7 L673.9,776.7 L674.3,776.7 L674.7,776.6 L675,776.5 L675.4,776.4 L675.8,776.3 L676.1,776.1 L676.5,775.9 L676.9,775.7 L677.2,775.5 L677.6,775.2 L678,774.9 L678.3,774.5 L678.7,774.1 L679.1,773.7 L679.4,773.2 L679.8,772.6 L680.2,772 L680.5,771.3 L680.9,770.4 L681.3,769.4 L681.6,768.2 L682,767.1 L682.4,765.7 L682.7,764.3 L683.1,762.7 L683.5,761 L683.8,759.2 L684.2,757.2 L684.6,755 L684.9,752.6 L685.3,750.2 L685.7,747.9 L686,745.6 L686.4,743.3 L686.8,741 L687.1,738.7 L687.5,736.6 L687.9,734.8 L688.2,733.4 L688.6,732.1 L689,731 L689.3,729.9 L689.7,729.1 L690,729.4 L690.4,731.2 L690.8,733.2 L691.1,735.5 L691.5,737.9 L691.9,740.5 L692.2,743.3 L692.6,746 L693,748.2 L693.3,750.4 L693.7,752.7 L694.1,754.9 L694.4,757.4 L694.8,759.8 L695.2,762.2 L695.5,764.4 L695.9,766.3 L696.3,768.1 L696.6,769.6 L697,770.9 L697.4,772 L697.7,772.8 L698.1,773.6 L698.5,774.2 L698.8,774.7 L699.2,775.1 L699.6,775.4 L699.9,775.6 L700.3,775.7 L700.7,775.7 L701,775.6 L701.4,775.5 L701.8,775.2 L702.1,774.9 L702.5,774.5 L702.9,774 L703.2,773.4 L703.6,772.7 L704,771.9 L704.3,771 L704.7,769.9 L705.1,768.6 L705.4,767.1 L705.8,765.3 L706.2,763 L706.5,760.1 L706.9,756.3" fill="none" stroke="#d9534f" stroke-width="4.0" stroke-linejoin="round" stroke-linecap="butt" /></g>
<rect x="120.8" y="664.7" width="586.1" height="123.1" fill="none" stroke="#000" stroke-width="2.1"/>
<path d="M120.8,777.8 l-9.4,0" stroke="#000" stroke-width="2.1" fill="none"/>
<text x="102.9" y="788.9" font-size="26.4" text-anchor="end" fill="#000" >0.00</text>
<path d="M120.8,713.6 l-9.4,0" stroke="#000" stroke-width="2.1" fill="none"/>
<text x="102.9" y="724.7" font-size="26.4" text-anchor="end" fill="#000" >0.25</text>
<path d="M267.3,787.8 l0,8.9" stroke="#000" stroke-width="2.1" fill="none"/>
<path d="M413.9,787.8 l0,8.9" stroke="#000" stroke-width="2.1" fill="none"/>
<path d="M560.4,787.8 l0,8.9" stroke="#000" stroke-width="2.1" fill="none"/>
<path d="M706.9,787.8 l0,8.9" stroke="#000" stroke-width="2.1" fill="none"/>
<text transform="translate(23.8,727.8) rotate(-90)" font-size="26.4" text-anchor="middle"><tspan font-style="italic">B</tspan><tspan dx="4.49">[</tspan><tspan font-style="italic">Kg</tspan>/<tspan font-style="italic">m</tspan><tspan font-size="18.48" dy="-9.5">2</tspan><tspan dy="9.5">]</tspan></text>
<text x="149.5" y="686.1" font-size="26.2" text-anchor="start" fill="#000" >2<tspan dx="5.32">:</tspan><tspan dx="4.98">1</tspan> Periodic</text>
<clipPath id="c5"><rect x="120.8" y="812.7" width="586.1" height="123.1"/></clipPath>
<g clip-path="url(#c5)"><path d="M120.8,921.9 L121.2,921.4 L121.5,920.8 L121.9,920.1 L122.3,919.3 L122.6,918.3 L123,917.1 L123.4,915.7 L123.7,914 L124.1,911.8 L124.5,909.1 L124.8,905.7 L125.2,901 L125.6,895.1 L125.9,888.2 L126.3,879.9 L126.7,872.4 L127,865.3 L127.4,859.3 L127.8,854.1 L128.1,849.7 L128.5,847.1 L128.9,849.2 L129.2,851.5 L129.6,853.9 L130,856.4 L130.3,859.1 L130.7,862 L131.1,864.9 L131.4,868 L131.8,871.2 L132.2,874.2 L132.5,877 L132.9,879.6 L133.3,882.4 L133.6,885.2 L134,888.1 L134.4,891 L134.7,894 L135.1,896.9 L135.5,899.8 L135.8,902.6 L136.2,905.2 L136.6,907.7 L136.9,910 L137.3,912.1 L137.7,913.9 L138,915.4 L138.4,916.7 L138.7,917.8 L139.1,918.8 L139.5,919.7 L139.8,920.4 L140.2,921.1 L140.6,921.7 L140.9,922.3 L141.3,922.7 L141.7,923.2 L142,923.5 L142.4,923.8 L142.8,924 L143.1,924.2 L143.5,924.3 L143.9,924.4 L144.2,924.5 L144.6,924.6 L145,924.7 L145.3,924.7 L145.7,924.7 L146.1,924.7 L146.4,924.7 L146.8,924.7 L147.2,924.7 L147.5,924.6 L147.9,924.6 L148.3,924.5 L148.6,924.3 L149,924.2 L149.4,924.1 L149.7,923.9 L150.1,923.7 L150.5,923.4 L150.8,923.2 L151.2,922.9 L151.6,922.5 L151.9,922.1 L152.3,921.7 L152.7,921.2 L153,920.7 L153.4,920 L153.8,919.3 L154.1,918.4 L154.5,917.5 L154.9,916.5 L155.2,915.3 L155.6,914.1 L156,912.8 L156.3,911.3 L156.7,909.8 L157.1,908.1 L157.4,906.2 L157.8,904.3 L158.2,902.2 L158.5,900.2 L158.9,898.4 L159.3,896.4 L159.6,894.4 L160,892.5 L160.4,890.8 L160.7,889.4 L161.1,888.2 L161.5,887.1 L161.8,886.1 L162.2,885.3 L162.6,884.7 L162.9,885.3 L163.3,886.8 L163.7,888.6 L164,890.6 L164.4,892.7 L164.8,895 L165.1,897.4 L165.5,899.5 L165.9,901.4 L166.2,903.4 L166.6,905.3 L167,907.3 L167.3,909.4 L167.7,911.5 L168.1,913.4 L168.4,915.2 L168.8,916.8 L169.2,918.2 L169.5,919.4 L169.9,920.3 L170.3,921.1 L170.6,921.8 L171,922.4 L171.4,922.9 L171.7,923.3 L172.1,923.6 L172.5,923.8 L172.8,924 L173.2,924 L173.5,924.1 L173.9,924 L174.3,923.9 L174.6,923.7 L175,923.5 L175.4,923.1 L175.7,922.7 L176.1,922.2 L176.5,921.7 L176.8,921 L177.2,920.2 L177.6,919.4 L177.9,918.4 L178.3,917.2 L178.7,915.8 L179,914.1 L179.4,912 L179.8,909.3 L180.1,905.9 L180.5,901.5 L180.9,895.5 L181.2,888.5 L181.6,879.7 L182,871.6 L182.3,863.7 L182.7,857.1 L183.1,851.4 L183.4,846.5 L183.8,842.3 L184.2,844.5 L184.5,846.6 L184.9,848.7 L185.3,850.7 L185.6,852.7 L186,854.7 L186.4,856.7 L186.7,858.9 L187.1,861.1 L187.5,863.4 L187.8,865.8 L188.2,868.2 L188.6,870.7 L188.9,873.3 L189.3,876.2 L189.7,879.2 L190,882.2 L190.4,885.2 L190.8,888 L191.1,890.8 L191.5,893.6 L191.9,896.3 L192.2,899 L192.6,901.6 L193,904.1 L193.3,906.6 L193.7,909.1 L194.1,911.3 L194.4,913.2 L194.8,914.7 L195.2,915.9 L195.5,917 L195.9,918 L196.3,918.8 L196.6,919.6 L197,920.3 L197.4,920.9 L197.7,921.4 L198.1,921.9 L198.5,922.4 L198.8,922.8 L199.2,923.2 L199.6,923.5 L199.9,923.8 L200.3,924 L200.7,924.2 L201,924.3 L201.4,924.4 L201.8,924.5 L202.1,924.5 L202.5,924.6 L202.9,924.6 L203.2,924.7 L203.6,924.7 L204,924.7 L204.3,924.8 L204.7,924.8 L205.1,924.8 L205.4,924.8 L205.8,924.8 L206.2,924.8 L206.5,924.8 L206.9,924.8 L207.2,924.8 L207.6,924.8 L208,924.8 L208.3,924.7 L208.7,924.7 L209.1,924.7 L209.4,924.6 L209.8,924.5 L210.2,924.3 L210.5,924.2 L210.9,924 L211.3,923.7 L211.6,923.5 L212,923.1 L212.4,922.8 L212.7,922.4 L213.1,921.9 L213.5,921.4 L213.8,920.9 L214.2,920.3 L214.6,919.7 L214.9,919 L215.3,918.2 L215.7,917.4 L216,916.5 L216.4,915.6 L216.8,914.6 L217.1,913.7 L217.5,912.7 L217.9,911.7 L218.2,910.8 L218.6,909.9 L219,909 L219.3,908.2 L219.7,907.5 L220.1,907 L220.4,906.6 L220.8,906.4 L221.2,906.7 L221.5,907.1 L221.9,907.6 L222.3,908.3 L222.6,909.2 L223,910.1 L223.4,911.1 L223.7,912.1 L224.1,913.2 L224.5,914.2 L224.8,915.2 L225.2,916.1 L225.6,916.9 L225.9,917.7 L226.3,918.5 L226.7,919.2 L227,919.8 L227.4,920.4 L227.8,920.9 L228.1,921.5 L228.5,921.9 L228.9,922.4 L229.2,922.8 L229.6,923.1 L230,923.4 L230.3,923.6 L230.7,923.8 L231.1,924 L231.4,924.2 L231.8,924.3 L232.2,924.4 L232.5,924.5 L232.9,924.6 L233.3,924.6 L233.6,924.6 L234,924.6 L234.4,924.6 L234.7,924.5 L235.1,924.4 L235.5,924.3 L235.8,924.2 L236.2,923.9 L236.6,923.7 L236.9,923.4 L237.3,923.1 L237.7,922.6 L238,922.1 L238.4,921.5 L238.8,920.9 L239.1,920.1 L239.5,919.3 L239.9,918.3 L240.2,917.1 L240.6,915.7 L241,914 L241.3,911.8 L241.7,909.1 L242,905.7 L242.4,901 L242.8,895.1 L243.1,888.2 L243.5,879.9 L243.9,872.4 L244.2,865.3 L244.6,859.3 L245,854.1 L245.3,849.7 L245.7,847.1 L246.1,849.2 L246.4,851.5 L246.8,853.9 L247.2,856.4 L247.5,859.1 L247.9,862 L248.3,864.9 L248.6,868 L249,871.2 L249.4,874.2 L249.7,877 L250.1,879.6 L250.5,882.4 L250.8,885.2 L251.2,888.1 L251.6,891 L251.9,894 L252.3,896.9 L252.7,899.8 L253,902.6 L253.4,905.2 L253.8,907.7 L254.1,910 L254.5,912.1 L254.9,913.9 L255.2,915.4 L255.6,916.7 L256,917.8 L256.3,918.8 L256.7,919.7 L257.1,920.4 L257.4,921.1 L257.8,921.7 L258.2,922.3 L258.5,922.7 L258.9,923.2 L259.3,923.5 L259.6,923.8 L260,924 L260.4,924.2 L260.7,924.3 L261.1,924.4 L261.5,924.5 L261.8,924.6 L262.2,924.7 L262.6,924.7 L262.9,924.7 L263.3,924.7 L263.7,924.7 L264,924.7 L264.4,924.7 L264.8,924.6 L265.1,924.6 L265.5,924.5 L265.9,924.3 L266.2,924.2 L266.6,924.1 L267,923.9 L267.3,923.7 L267.7,923.4 L268.1,923.2 L268.4,922.9 L268.8,922.5 L269.2,922.1 L269.5,921.7 L269.9,921.2 L270.3,920.7 L270.6,920 L271,919.3 L271.4,918.4 L271.7,917.5 L272.1,916.5 L272.5,915.3 L272.8,914.1 L273.2,912.8 L273.6,911.3 L273.9,909.8 L274.3,908.1 L274.7,906.2 L275,904.3 L275.4,902.2 L275.8,900.2 L276.1,898.4 L276.5,896.4 L276.8,894.4 L277.2,892.5 L277.6,890.8 L277.9,889.4 L278.3,888.2 L278.7,887.1 L279,886.1 L279.4,885.3 L279.8,884.7 L280.1,885.3 L280.5,886.8 L280.9,888.6 L281.2,890.6 L281.6,892.7 L282,895 L282.3,897.4 L282.7,899.5 L283.1,901.4 L283.4,903.4 L283.8,905.3 L284.2,907.3 L284.5,909.4 L284.9,911.5 L285.3,913.4 L285.6,915.2 L286,916.8 L286.4,918.2 L286.7,919.4 L287.1,920.3 L287.5,921.1 L287.8,921.8 L288.2,922.4 L288.6,922.9 L288.9,923.3 L289.3,923.6 L289.7,923.8 L290,924 L290.4,924 L290.8,924.1 L291.1,924 L291.5,923.9 L291.9,923.7 L292.2,923.5 L292.6,923.1 L293,922.7 L293.3,922.2 L293.7,921.7 L294.1,921 L294.4,920.2 L294.8,919.4 L295.2,918.4 L295.5,917.2 L295.9,915.8 L296.3,914.1 L296.6,912 L297,909.3 L297.4,905.9 L297.7,901.5 L298.1,895.5 L298.5,888.5 L298.8,879.7 L299.2,871.6 L299.6,863.7 L299.9,857.1 L300.3,851.4 L300.7,846.5 L301,842.3 L301.4,844.5 L301.8,846.6 L302.1,848.7 L302.5,850.7 L302.9,852.7 L303.2,854.7 L303.6,856.7 L304,858.9 L304.3,861.1 L304.7,863.4 L305.1,865.8 L305.4,868.2 L305.8,870.7 L306.2,873.3 L306.5,876.2 L306.9,879.2 L307.3,882.2 L307.6,885.2 L308,888 L308.4,890.8 L308.7,893.6 L309.1,896.3 L309.5,899 L309.8,901.6 L310.2,904.1 L310.5,906.6 L310.9,909.1 L311.3,911.3 L311.6,913.2 L312,914.7 L312.4,915.9 L312.7,917 L313.1,918 L313.5,918.8 L313.8,919.6 L314.2,920.3 L314.6,920.9 L314.9,921.4 L315.3,921.9 L315.7,922.4 L316,922.8 L316.4,923.2 L316.8,923.5 L317.1,923.8 L317.5,924 L317.9,924.2 L318.2,924.3 L318.6,924.4 L319,924.5 L319.3,924.5 L319.7,924.6 L320.1,924.6 L320.4,924.7 L320.8,924.7 L321.2,924.7 L321.5,924.8 L321.9,924.8 L322.3,924.8 L322.6,924.8 L323,924.8 L323.4,924.8 L323.7,924.8 L324.1,924.8 L324.5,924.8 L324.8,924.8 L325.2,924.8 L325.6,924.7 L325.9,924.7 L326.3,924.7 L326.7,924.6 L327,924.5 L327.4,924.3 L327.8,924.2 L328.1,924 L328.5,923.7 L328.9,923.5 L329.2,923.1 L329.6,922.8 L330,922.4 L330.3,921.9 L330.7,921.4 L331.1,920.9 L331.4,920.3 L331.8,919.7 L332.2,919 L332.5,918.2 L332.9,917.4 L333.3,916.5 L333.6,915.6 L334,914.6 L334.4,913.7 L334.7,912.7 L335.1,911.7 L335.5,910.8 L335.8,909.9 L336.2,909 L336.6,908.2 L336.9,907.5 L337.3,907 L337.7,906.6 L338,906.4 L338.4,906.7 L338.8,907.1 L339.1,907.6 L339.5,908.3 L339.9,909.2 L340.2,910.1 L340.6,911.1 L341,912.1 L341.3,913.2 L341.7,914.2 L342.1,915.2 L342.4,916.1 L342.8,916.9 L343.2,917.7 L343.5,918.5 L343.9,919.2 L344.3,919.8 L344.6,920.4 L345,920.9 L345.3,921.5 L345.7,921.9 L346.1,922.4 L346.4,922.8 L346.8,923.1 L347.2,923.4 L347.5,923.6 L347.9,923.8 L348.3,924 L348.6,924.2 L349,924.3 L349.4,924.4 L349.7,924.5 L350.1,924.6 L350.5,924.6 L350.8,924.6 L351.2,924.6 L351.6,924.6 L351.9,924.5 L352.3,924.4 L352.7,924.3 L353,924.2 L353.4,923.9 L353.8,923.7 L354.1,923.4 L354.5,923.1 L354.9,922.6 L355.2,922.1 L355.6,921.5 L356,920.9 L356.3,920.1 L356.7,919.3 L357.1,918.3 L357.4,917.1 L357.8,915.7 L358.2,914 L358.5,911.8 L358.9,909.1 L359.3,905.7 L359.6,901 L360,895.1 L360.4,888.2 L360.7,879.9 L361.1,872.4 L361.5,865.3 L361.8,859.3 L362.2,854.1 L362.6,849.7 L362.9,847.1 L363.3,849.2 L363.7,851.5 L364,853.9 L364.4,856.4 L364.8,859.1 L365.1,862 L365.5,864.9 L365.9,868 L366.2,871.2 L366.6,874.2 L367,877 L367.3,879.6 L367.7,882.4 L368.1,885.2 L368.4,888.1 L368.8,891 L369.2,894 L369.5,896.9 L369.9,899.8 L370.3,902.6 L370.6,905.2 L371,907.7 L371.4,910 L371.7,912.1 L372.1,913.9 L372.5,915.4 L372.8,916.7 L373.2,917.8 L373.6,918.8 L373.9,919.7 L374.3,920.4 L374.7,921.1 L375,921.7 L375.4,922.3 L375.8,922.7 L376.1,923.2 L376.5,923.5 L376.9,923.8 L377.2,924 L377.6,924.2 L378,924.3 L378.3,924.4 L378.7,924.5 L379.1,924.6 L379.4,924.7 L379.8,924.7 L380.1,924.7 L380.5,924.7 L380.9,924.7 L381.2,924.7 L381.6,924.7 L382,924.6 L382.3,924.6 L382.7,924.5 L383.1,924.3 L383.4,924.2 L383.8,924.1 L384.2,923.9 L384.5,923.7 L384.9,923.4 L385.3,923.2 L385.6,922.9 L386,922.5 L386.4,922.1 L386.7,921.7 L387.1,921.2 L387.5,920.7 L387.8,920 L388.2,919.3 L388.6,918.4 L388.9,917.5 L389.3,916.5 L389.7,915.3 L390,914.1 L390.4,912.8 L390.8,911.3 L391.1,909.8 L391.5,908.1 L391.9,906.2 L392.2,904.3 L392.6,902.2 L393,900.2 L393.3,898.4 L393.7,896.4 L394.1,894.4 L394.4,892.5 L394.8,890.8 L395.2,889.4 L395.5,888.2 L395.9,887.1 L396.3,886.1 L396.6,885.3 L397,884.7 L397.4,885.3 L397.7,886.8 L398.1,888.6 L398.5,890.6 L398.8,892.7 L399.2,895 L399.6,897.4 L399.9,899.5 L400.3,901.4 L400.7,903.4 L401,905.3 L401.4,907.3 L401.8,909.4 L402.1,911.5 L402.5,913.4 L402.9,915.2 L403.2,916.8 L403.6,918.2 L404,919.4 L404.3,920.3 L404.7,921.1 L405.1,921.8 L405.4,922.4 L405.8,922.9 L406.2,923.3 L406.5,923.6 L406.9,923.8 L407.3,924 L407.6,924 L408,924.1 L408.4,924 L408.7,923.9 L409.1,923.7 L409.5,923.5 L409.8,923.1 L410.2,922.7 L410.6,922.2 L410.9,921.7 L411.3,921 L411.7,920.2 L412,919.4 L412.4,918.4 L412.8,917.2 L413.1,915.8 L413.5,914.1 L413.9,912 L414.2,909.3 L414.6,905.9 L414.9,901.5 L415.3,895.5 L415.7,888.5 L416,879.7 L416.4,871.6 L416.8,863.7 L417.1,857.1 L417.5,851.4 L417.9,846.5 L418.2,842.3 L418.6,844.5 L419,846.6 L419.3,848.7 L419.7,850.7 L420.1,852.7 L420.4,854.7 L420.8,856.7 L421.2,858.9 L421.5,861.1 L421.9,863.4 L422.3,865.8 L422.6,868.2 L423,870.7 L423.4,873.3 L423.7,876.2 L424.1,879.2 L424.5,882.2 L424.8,885.2 L425.2,888 L425.6,890.8 L425.9,893.6 L426.3,896.3 L426.7,899 L427,901.6 L427.4,904.1 L427.8,906.6 L428.1,909.1 L428.5,911.3 L428.9,913.2 L429.2,914.7 L429.6,915.9 L430,917 L430.3,918 L430.7,918.8 L431.1,919.6 L431.4,920.3 L431.8,920.9 L432.2,921.4 L432.5,921.9 L432.9,922.4 L433.3,922.8 L433.6,923.2 L434,923.5 L434.4,923.8 L434.7,924 L435.1,924.2 L435.5,924.3 L435.8,924.4 L436.2,924.5 L436.6,924.5 L436.9,924.6 L437.3,924.6 L437.7,924.7 L438,924.7 L438.4,924.7 L438.8,924.8 L439.1,924.8 L439.5,924.8 L439.9,924.8 L440.2,924.8 L440.6,924.8 L441,924.8 L441.3,924.8 L441.7,924.8 L442.1,924.8 L442.4,924.8 L442.8,924.7 L443.2,924.7 L443.5,924.7 L443.9,924.6 L444.3,924.5 L444.6,924.3 L445,924.2 L445.4,924 L445.7,923.7 L446.1,923.5 L446.5,923.1 L446.8,922.8 L447.2,922.4 L447.6,921.9 L447.9,921.4 L448.3,920.9 L448.6,920.3 L449,919.7 L449.4,919 L449.7,918.2 L450.1,917.4 L450.5,916.5 L450.8,915.6 L451.2,914.6 L451.6,913.7 L451.9,912.7 L452.3,911.7 L452.7,910.8 L453,909.9 L453.4,909 L453.8,908.2 L454.1,907.5 L454.5,907 L454.9,906.6 L455.2,906.4 L455.6,906.7 L456,907.1 L456.3,907.6 L456.7,908.3 L457.1,909.2 L457.4,910.1 L457.8,911.1 L458.2,912.1 L458.5,913.2 L458.9,914.2 L459.3,915.2 L459.6,916.1 L460,916.9 L460.4,917.7 L460.7,918.5 L461.1,919.2 L461.5,919.8 L461.8,920.4 L462.2,920.9 L462.6,921.5 L462.9,921.9 L463.3,922.4 L463.7,922.8 L464,923.1 L464.4,923.4 L464.8,923.6 L465.1,923.8 L465.5,924 L465.9,924.2 L466.2,924.3 L466.6,924.4 L467,924.5 L467.3,924.6 L467.7,924.6 L468.1,924.6 L468.4,924.6 L468.8,924.6 L469.2,924.5 L469.5,924.4 L469.9,924.3 L470.3,924.2 L470.6,923.9 L471,923.7 L471.4,923.4 L471.7,923.1 L472.1,922.6 L472.5,922.1 L472.8,921.5 L473.2,920.9 L473.6,920.1 L473.9,919.3 L474.3,918.3 L474.7,917.1 L475,915.7 L475.4,914 L475.8,911.8 L476.1,909.1 L476.5,905.7 L476.9,901 L477.2,895.1 L477.6,888.2 L478,879.9 L478.3,872.4 L478.7,865.3 L479.1,859.3 L479.4,854.1 L479.8,849.7 L480.2,847.1 L480.5,849.2 L480.9,851.5 L481.3,853.9 L481.6,856.4 L482,859.1 L482.4,862 L482.7,864.9 L483.1,868 L483.4,871.2 L483.8,874.2 L484.2,877 L484.5,879.6 L484.9,882.4 L485.3,885.2 L485.6,888.1 L486,891 L486.4,894 L486.7,896.9 L487.1,899.8 L487.5,902.6 L487.8,905.2 L488.2,907.7 L488.6,910 L488.9,912.1 L489.3,913.9 L489.7,915.4 L490,916.7 L490.4,917.8 L490.8,918.8 L491.1,919.7 L491.5,920.4 L491.9,921.1 L492.2,921.7 L492.6,922.3 L493,922.7 L493.3,923.2 L493.7,923.5 L494.1,923.8 L494.4,924 L494.8,924.2 L495.2,924.3 L495.5,924.4 L495.9,924.5 L496.3,924.6 L496.6,924.7 L497,924.7 L497.4,924.7 L497.7,924.7 L498.1,924.7 L498.5,924.7 L498.8,924.7 L499.2,924.6 L499.6,924.6 L499.9,924.5 L500.3,924.3 L500.7,924.2 L501,924.1 L501.4,923.9 L501.8,923.7 L502.1,923.4 L502.5,923.2 L502.9,922.9 L503.2,922.5 L503.6,922.1 L504,921.7 L504.3,921.2 L504.7,920.7 L505.1,920 L505.4,919.3 L505.8,918.4 L506.2,917.5 L506.5,916.5 L506.9,915.3 L507.3,914.1 L507.6,912.8 L508,911.3 L508.4,909.8 L508.7,908.1 L509.1,906.2 L509.5,904.3 L509.8,902.2 L510.2,900.2 L510.6,898.4 L510.9,896.4 L511.3,894.4 L511.7,892.5 L512,890.8 L512.4,889.4 L512.8,888.2 L513.1,887.1 L513.5,886.1 L513.9,885.3 L514.2,884.7 L514.6,885.3 L515,886.8 L515.3,888.6 L515.7,890.6 L516.1,892.7 L516.4,895 L516.8,897.4 L517.2,899.5 L517.5,901.4 L517.9,903.4 L518.2,905.3 L518.6,907.3 L519,909.4 L519.3,911.5 L519.7,913.4 L520.1,915.2 L520.4,916.8 L520.8,918.2 L521.2,919.4 L521.5,920.3 L521.9,921.1 L522.3,921.8 L522.6,922.4 L523,922.9 L523.4,923.3 L523.7,923.6 L524.1,923.8 L524.5,924 L524.8,924 L525.2,924.1 L525.6,924 L525.9,923.9 L526.3,923.7 L526.7,923.5 L527,923.1 L527.4,922.7 L527.8,922.2 L528.1,921.7 L528.5,921 L528.9,920.2 L529.2,919.4 L529.6,918.4 L530,917.2 L530.3,915.8 L530.7,914.1 L531.1,912 L531.4,909.3 L531.8,905.9 L532.2,901.5 L532.5,895.5 L532.9,888.5 L533.3,879.7 L533.6,871.6 L534,863.7 L534.4,857.1 L534.7,851.4 L535.1,846.5 L535.5,842.3 L535.8,844.5 L536.2,846.6 L536.6,848.7 L536.9,850.7 L537.3,852.7 L537.7,854.7 L538,856.7 L538.4,858.9 L538.8,861.1 L539.1,863.4 L539.5,865.8 L539.9,868.2 L540.2,870.7 L540.6,873.3 L541,876.2 L541.3,879.2 L541.7,882.2 L542.1,885.2 L542.4,888 L542.8,890.8 L543.2,893.6 L543.5,896.3 L543.9,899 L544.3,901.6 L544.6,904.1 L545,906.6 L545.4,909.1 L545.7,911.3 L546.1,913.2 L546.5,914.7 L546.8,915.9 L547.2,917 L547.6,918 L547.9,918.8 L548.3,919.6 L548.7,920.3 L549,920.9 L549.4,921.4 L549.8,921.9 L550.1,922.4 L550.5,922.8 L550.9,923.2 L551.2,923.5 L551.6,923.8 L551.9,924 L552.3,924.2 L552.7,924.3 L553,924.4 L553.4,924.5 L553.8,924.5 L554.1,924.6 L554.5,924.6 L554.9,924.7 L555.2,924.7 L555.6,924.7 L556,924.8 L556.3,924.8 L556.7,924.8 L557.1,924.8 L557.4,924.8 L557.8,924.8 L558.2,924.8 L558.5,924.8 L558.9,924.8 L559.3,924.8 L559.6,924.8 L560,924.7 L560.4,924.7 L560.7,924.7 L561.1,924.6 L561.5,924.5 L561.8,924.3 L562.2,924.2 L562.6,924 L562.9,923.7 L563.3,923.5 L563.7,923.1 L564,922.8 L564.4,922.4 L564.8,921.9 L565.1,921.4 L565.5,920.9 L565.9,920.3 L566.2,919.7 L566.6,919 L567,918.2 L567.3,917.4 L567.7,916.5 L568.1,915.6 L568.4,914.6 L568.8,913.7 L569.2,912.7 L569.5,911.7 L569.9,910.8 L570.3,909.9 L570.6,909 L571,908.2 L571.4,907.5 L571.7,907 L572.1,906.6 L572.5,906.4 L572.8,906.7 L573.2,907.1 L573.6,907.6 L573.9,908.3 L574.3,909.2 L574.7,910.1 L575,911.1 L575.4,912.1 L575.8,913.2 L576.1,914.2 L576.5,915.2 L576.9,916.1 L577.2,916.9 L577.6,917.7 L578,918.5 L578.3,919.2 L578.7,919.8 L579.1,920.4 L579.4,920.9 L579.8,921.5 L580.2,921.9 L580.5,922.4 L580.9,922.8 L581.3,923.1 L581.6,923.4 L582,923.6 L582.4,923.8 L582.7,924 L583.1,924.2 L583.5,924.3 L583.8,924.4 L584.2,924.5 L584.6,924.6 L584.9,924.6 L585.3,924.6 L585.7,924.6 L586,924.6 L586.4,924.5 L586.7,924.4 L587.1,924.3 L587.5,924.2 L587.8,923.9 L588.2,923.7 L588.6,923.4 L588.9,923.1 L589.3,922.6 L589.7,922.1 L590,921.5 L590.4,920.9 L590.8,920.1 L591.1,919.3 L591.5,918.3 L591.9,917.1 L592.2,915.7 L592.6,914 L593,911.8 L593.3,909.1 L593.7,905.7 L594.1,901 L594.4,895.1 L594.8,888.2 L595.2,879.9 L595.5,872.4 L595.9,865.3 L596.3,859.3 L596.6,854.1 L597,849.7 L597.4,847.1 L597.7,849.2 L598.1,851.5 L598.5,853.9 L598.8,856.4 L599.2,859.1 L599.6,862 L599.9,864.9 L600.3,868 L600.7,871.2 L601,874.2 L601.4,877 L601.8,879.6 L602.1,882.4 L602.5,885.2 L602.9,888.1 L603.2,891 L603.6,894 L604,896.9 L604.3,899.8 L604.7,902.6 L605.1,905.2 L605.4,907.7 L605.8,910 L606.2,912.1 L606.5,913.9 L606.9,915.4 L607.3,916.7 L607.6,917.8 L608,918.8 L608.4,919.7 L608.7,920.4 L609.1,921.1 L609.5,921.7 L609.8,922.3 L610.2,922.7 L610.6,923.2 L610.9,923.5 L611.3,923.8 L611.7,924 L612,924.2 L612.4,924.3 L612.8,924.4 L613.1,924.5 L613.5,924.6 L613.9,924.7 L614.2,924.7 L614.6,924.7 L615,924.7 L615.3,924.7 L615.7,924.7 L616.1,924.7 L616.4,924.6 L616.8,924.6 L617.2,924.5 L617.5,924.3 L617.9,924.2 L618.3,924.1 L618.6,923.9 L619,923.7 L619.4,923.4 L619.7,923.2 L620.1,922.9 L620.5,922.5 L620.8,922.1 L621.2,921.7 L621.5,921.2 L621.9,920.7 L622.3,920 L622.6,919.3 L623,918.4 L623.4,917.5 L623.7,916.5 L624.1,915.3 L624.5,914.1 L624.8,912.8 L625.2,911.3 L625.6,909.8 L625.9,908.1 L626.3,906.2 L626.7,904.3 L627,902.2 L627.4,900.2 L627.8,898.4 L628.1,896.4 L628.5,894.4 L628.9,892.5 L629.2,890.8 L629.6,889.4 L630,888.2 L630.3,887.1 L630.7,886.1 L631.1,885.3 L631.4,884.7 L631.8,885.3 L632.2,886.8 L632.5,888.6 L632.9,890.6 L633.3,892.7 L633.6,895 L634,897.4 L634.4,899.5 L634.7,901.4 L635.1,903.4 L635.5,905.3 L635.8,907.3 L636.2,909.4 L636.6,911.5 L636.9,913.4 L637.3,915.2 L637.7,916.8 L638,918.2 L638.4,919.4 L638.8,920.3 L639.1,921.1 L639.5,921.8 L639.9,922.4 L640.2,922.9 L640.6,923.3 L641,923.6 L641.3,923.8 L641.7,924 L642.1,924 L642.4,924.1 L642.8,924 L643.2,923.9 L643.5,923.7 L643.9,923.5 L644.3,923.1 L644.6,922.7 L645,922.2 L645.4,921.7 L645.7,921 L646.1,920.2 L646.5,919.4 L646.8,918.4 L647.2,917.2 L647.6,915.8 L647.9,914.1 L648.3,912 L648.7,909.3 L649,905.9 L649.4,901.5 L649.8,895.5 L650.1,888.5 L650.5,879.7 L650.9,871.6 L651.2,863.7 L651.6,857.1 L652,851.4 L652.3,846.5 L652.7,842.3 L653.1,844.5 L653.4,846.6 L653.8,848.7 L654.2,850.7 L654.5,852.7 L654.9,854.7 L655.2,856.7 L655.6,858.9 L656,861.1 L656.3,863.4 L656.7,865.8 L657.1,868.2 L657.4,870.7 L657.8,873.3 L658.2,876.2 L658.5,879.2 L658.9,882.2 L659.3,885.2 L659.6,888 L660,890.8 L660.4,893.6 L660.7,896.3 L661.1,899 L661.5,901.6 L661.8,904.1 L662.2,906.6 L662.6,909.1 L662.9,911.3 L663.3,913.2 L663.7,914.7 L664,915.9 L664.4,917 L664.8,918 L665.1,918.8 L665.5,919.6 L665.9,920.3 L666.2,920.9 L666.6,921.4 L667,921.9 L667.3,922.4 L667.7,922.8 L668.1,923.2 L668.4,923.5 L668.8,923.8 L669.2,924 L669.5,924.2 L669.9,924.3 L670.3,924.4 L670.6,924.5 L671,924.5 L671.4,924.6 L671.7,924.6 L672.1,924.7 L672.5,924.7 L672.8,924.7 L673.2,924.8 L673.6,924.8 L673.9,924.8 L674.3,924.8 L674.7,924.8 L675,924.8 L675.4,924.8 L675.8,924.8 L676.1,924.8 L676.5,924.8 L676.9,924.8 L677.2,924.7 L677.6,924.7 L678,924.7 L678.3,924.6 L678.7,924.5 L679.1,924.3 L679.4,924.2 L679.8,924 L680.2,923.7 L680.5,923.5 L680.9,923.1 L681.3,922.8 L681.6,922.4 L682,921.9 L682.4,921.4 L682.7,920.9 L683.1,920.3 L683.5,919.7 L683.8,919 L684.2,918.2 L684.6,917.4 L684.9,916.5 L685.3,915.6 L685.7,914.6 L686,913.7 L686.4,912.7 L686.8,911.7 L687.1,910.8 L687.5,909.9 L687.9,909 L688.2,908.2 L688.6,907.5 L689,907 L689.3,906.6 L689.7,906.4 L690,906.7 L690.4,907.1 L690.8,907.6 L691.1,908.3 L691.5,909.2 L691.9,910.1 L692.2,911.1 L692.6,912.1 L693,913.2 L693.3,914.2 L693.7,915.2 L694.1,916.1 L694.4,916.9 L694.8,917.7 L695.2,918.5 L695.5,919.2 L695.9,919.8 L696.3,920.4 L696.6,920.9 L697,921.5 L697.4,921.9 L697.7,922.4 L698.1,922.8 L698.5,923.1 L698.8,923.4 L699.2,923.6 L699.6,923.8 L699.9,924 L700.3,924.2 L700.7,924.3 L701,924.4 L701.4,924.5 L701.8,924.6 L702.1,924.6 L702.5,924.6 L702.9,924.6 L703.2,924.6 L703.6,924.5 L704,924.4 L704.3,924.3 L704.7,924.2 L705.1,924 L705.4,923.7 L705.8,923.5 L706.2,923.2 L706.5,922.8 L706.9,922.5" fill="none" stroke="#d9534f" stroke-width="4.0" stroke-linejoin="round" stroke-linecap="butt" /></g>
<rect x="120.8" y="812.7" width="586.1" height="123.1" fill="none" stroke="#000" stroke-width="2.1"/>
<path d="M120.8,925.8 l-9.4,0" stroke="#000" stroke-width="2.1" fill="none"/>
<text x="102.9" y="936.9" font-size="26.4" text-anchor="end" fill="#000" >0.00</text>
<path d="M120.8,861.6 l-9.4,0" stroke="#000" stroke-width="2.1" fill="none"/>
<text x="102.9" y="872.7" font-size="26.4" text-anchor="end" fill="#000" >0.25</text>
<path d="M267.3,935.8 l0,8.9" stroke="#000" stroke-width="2.1" fill="none"/>
<path d="M413.9,935.8 l0,8.9" stroke="#000" stroke-width="2.1" fill="none"/>
<path d="M560.4,935.8 l0,8.9" stroke="#000" stroke-width="2.1" fill="none"/>
<path d="M706.9,935.8 l0,8.9" stroke="#000" stroke-width="2.1" fill="none"/>
<text transform="translate(23.8,875.8) rotate(-90)" font-size="26.4" text-anchor="middle"><tspan font-style="italic">B</tspan><tspan dx="4.49">[</tspan><tspan font-style="italic">Kg</tspan>/<tspan font-style="italic">m</tspan><tspan font-size="18.48" dy="-9.5">2</tspan><tspan dy="9.5">]</tspan></text>
<text x="149.5" y="834.1" font-size="26.2" text-anchor="start" fill="#000" >4<tspan dx="5.32">:</tspan><tspan dx="4.98">1</tspan> Periodic</text>
<clipPath id="c6"><rect x="120.8" y="960.7" width="586.1" height="123.1"/></clipPath>
<g clip-path="url(#c6)"><path d="M120.8,1070.7 L121.2,1070.3 L121.5,1069.8 L121.9,1069.2 L122.3,1068.5 L122.6,1067.7 L123,1066.8 L123.4,1065.7 L123.7,1064.5 L124.1,1062.9 L124.5,1061 L124.8,1058.6 L125.2,1055.6 L125.6,1051.8 L125.9,1046.4 L126.3,1040.1 L126.7,1032.2 L127,1024.3 L127.4,1016.8 L127.8,1010.2 L128.1,1004.5 L128.5,999.6 L128.9,995.4 L129.2,995.2 L129.6,997.4 L130,999.8 L130.3,1002.4 L130.7,1005.3 L131.1,1008.3 L131.4,1011.5 L131.8,1014.7 L132.2,1018.2 L132.5,1021.5 L132.9,1024.4 L133.3,1027.1 L133.6,1029.9 L134,1032.7 L134.4,1035.6 L134.7,1038.6 L135.1,1041.7 L135.5,1044.7 L135.8,1047.7 L136.2,1050.6 L136.6,1053.3 L136.9,1055.8 L137.3,1058.1 L137.7,1060.2 L138,1062 L138.4,1063.6 L138.7,1064.9 L139.1,1066 L139.5,1067 L139.8,1067.8 L140.2,1068.6 L140.6,1069.3 L140.9,1069.9 L141.3,1070.4 L141.7,1070.9 L142,1071.3 L142.4,1071.6 L142.8,1071.8 L143.1,1072.1 L143.5,1072.2 L143.9,1072.4 L144.2,1072.5 L144.6,1072.6 L145,1072.6 L145.3,1072.7 L145.7,1072.7 L146.1,1072.7 L146.4,1072.8 L146.8,1072.8 L147.2,1072.8 L147.5,1072.8 L147.9,1072.8 L148.3,1072.8 L148.6,1072.8 L149,1072.8 L149.4,1072.8 L149.7,1072.7 L150.1,1072.7 L150.5,1072.7 L150.8,1072.6 L151.2,1072.5 L151.6,1072.4 L151.9,1072.2 L152.3,1072 L152.7,1071.8 L153,1071.5 L153.4,1071.2 L153.8,1070.9 L154.1,1070.5 L154.5,1070.1 L154.9,1069.6 L155.2,1069.1 L155.6,1068.6 L156,1068 L156.3,1067.3 L156.7,1066.6 L157.1,1065.8 L157.4,1064.9 L157.8,1064.1 L158.2,1063.2 L158.5,1062.3 L158.9,1061.4 L159.3,1060.4 L159.6,1059.6 L160,1058.7 L160.4,1057.9 L160.7,1057.1 L161.1,1056.4 L161.5,1056 L161.8,1055.6 L162.2,1055.4 L162.6,1055.7 L162.9,1056.1 L163.3,1056.6 L163.7,1057.2 L164,1058.1 L164.4,1059 L164.8,1059.9 L165.1,1060.8 L165.5,1061.8 L165.9,1062.8 L166.2,1063.7 L166.6,1064.6 L167,1065.4 L167.3,1066.1 L167.7,1066.8 L168.1,1067.5 L168.4,1068.1 L168.8,1068.6 L169.2,1069.2 L169.5,1069.6 L169.9,1070.1 L170.3,1070.5 L170.6,1070.9 L171,1071.2 L171.4,1071.5 L171.7,1071.7 L172.1,1071.9 L172.5,1072.1 L172.8,1072.2 L173.2,1072.3 L173.5,1072.4 L173.9,1072.5 L174.3,1072.6 L174.6,1072.7 L175,1072.7 L175.4,1072.7 L175.7,1072.7 L176.1,1072.6 L176.5,1072.6 L176.8,1072.5 L177.2,1072.4 L177.6,1072.2 L177.9,1072.1 L178.3,1071.9 L178.7,1071.6 L179,1071.3 L179.4,1071 L179.8,1070.6 L180.1,1070.1 L180.5,1069.5 L180.9,1068.9 L181.2,1068.1 L181.6,1067.3 L182,1066.3 L182.3,1065.2 L182.7,1064 L183.1,1062.6 L183.4,1061 L183.8,1059.2 L184.2,1057.1 L184.5,1054.5 L184.9,1051.5 L185.3,1048 L185.6,1043.6 L186,1038.7 L186.4,1033 L186.7,1026.5 L187.1,1020.8 L187.5,1015.2 L187.8,1010.6 L188.2,1006.5 L188.6,1002.9 L188.9,999.9 L189.3,1000.1 L189.7,1002.4 L190,1004.9 L190.4,1007.7 L190.8,1010.7 L191.1,1014 L191.5,1017.3 L191.9,1020.8 L192.2,1024.3 L192.6,1027.4 L193,1030.2 L193.3,1033 L193.7,1035.8 L194.1,1038.7 L194.4,1041.8 L194.8,1045 L195.2,1048.1 L195.5,1051.1 L195.9,1053.9 L196.3,1056.4 L196.6,1058.8 L197,1060.9 L197.4,1062.8 L197.7,1064.3 L198.1,1065.6 L198.5,1066.7 L198.8,1067.7 L199.2,1068.5 L199.6,1069.2 L199.9,1069.9 L200.3,1070.5 L200.7,1070.9 L201,1071.3 L201.4,1071.7 L201.8,1071.9 L202.1,1072.1 L202.5,1072.3 L202.9,1072.4 L203.2,1072.5 L203.6,1072.6 L204,1072.7 L204.3,1072.7 L204.7,1072.7 L205.1,1072.7 L205.4,1072.6 L205.8,1072.6 L206.2,1072.5 L206.5,1072.3 L206.9,1072.2 L207.2,1072 L207.6,1071.8 L208,1071.6 L208.3,1071.3 L208.7,1071 L209.1,1070.6 L209.4,1070.2 L209.8,1069.7 L210.2,1069.2 L210.5,1068.7 L210.9,1068 L211.3,1067.3 L211.6,1066.5 L212,1065.4 L212.4,1064.3 L212.7,1063 L213.1,1061.6 L213.5,1060.1 L213.8,1058.4 L214.2,1056.6 L214.6,1054.7 L214.9,1052.6 L215.3,1050.3 L215.7,1047.8 L216,1045 L216.4,1042.3 L216.8,1039.5 L217.1,1037 L217.5,1034.3 L217.9,1031.6 L218.2,1029 L218.6,1026.6 L219,1024.6 L219.3,1022.9 L219.7,1021.4 L220.1,1020.1 L220.4,1018.9 L220.8,1018 L221.2,1018.3 L221.5,1020.4 L221.9,1022.7 L222.3,1025.3 L222.6,1028.1 L223,1031.1 L223.4,1034.3 L223.7,1037.3 L224.1,1040 L224.5,1042.5 L224.8,1045 L225.2,1047.7 L225.6,1050.5 L225.9,1053.3 L226.3,1056 L226.7,1058.5 L227,1060.8 L227.4,1062.9 L227.8,1064.6 L228.1,1066.1 L228.5,1067.3 L228.9,1068.3 L229.2,1069.1 L229.6,1069.8 L230,1070.4 L230.3,1071 L230.7,1071.4 L231.1,1071.8 L231.4,1072 L231.8,1072.2 L232.2,1072.4 L232.5,1072.5 L232.9,1072.5 L233.3,1072.5 L233.6,1072.5 L234,1072.5 L234.4,1072.4 L234.7,1072.2 L235.1,1072.1 L235.5,1071.8 L235.8,1071.6 L236.2,1071.2 L236.6,1070.9 L236.9,1070.4 L237.3,1069.8 L237.7,1069.2 L238,1068.5 L238.4,1067.7 L238.8,1066.7 L239.1,1065.6 L239.5,1064.3 L239.9,1062.8 L240.2,1060.8 L240.6,1058.4 L241,1055.3 L241.3,1051.4 L241.7,1045.8 L242,1039.4 L242.4,1031.3 L242.8,1023 L243.1,1015.2 L243.5,1008.3 L243.9,1002.3 L244.2,997.2 L244.6,992.9 L245,992.6 L245.3,994.8 L245.7,997.1 L246.1,999.5 L246.4,1002 L246.8,1004.6 L247.2,1007.3 L247.5,1010.1 L247.9,1013 L248.3,1016 L248.6,1018.9 L249,1021.7 L249.4,1024.4 L249.7,1027.3 L250.1,1030.2 L250.5,1033.2 L250.8,1036.1 L251.2,1039.2 L251.6,1042.2 L251.9,1045.1 L252.3,1048 L252.7,1050.7 L253,1053.3 L253.4,1055.8 L253.8,1058.2 L254.1,1060.3 L254.5,1062 L254.9,1063.4 L255.2,1064.7 L255.6,1065.8 L256,1066.7 L256.3,1067.6 L256.7,1068.3 L257.1,1069 L257.4,1069.6 L257.8,1070.1 L258.2,1070.6 L258.5,1071 L258.9,1071.4 L259.3,1071.7 L259.6,1071.9 L260,1072.1 L260.4,1072.3 L260.7,1072.4 L261.1,1072.5 L261.5,1072.6 L261.8,1072.6 L262.2,1072.7 L262.6,1072.7 L262.9,1072.7 L263.3,1072.8 L263.7,1072.8 L264,1072.8 L264.4,1072.8 L264.8,1072.8 L265.1,1072.8 L265.5,1072.8 L265.9,1072.8 L266.2,1072.8 L266.6,1072.8 L267,1072.7 L267.3,1072.7 L267.7,1072.7 L268.1,1072.6 L268.4,1072.5 L268.8,1072.4 L269.2,1072.3 L269.5,1072.2 L269.9,1072 L270.3,1071.8 L270.6,1071.6 L271,1071.3 L271.4,1071 L271.7,1070.7 L272.1,1070.4 L272.5,1070.1 L272.8,1069.7 L273.2,1069.2 L273.6,1068.8 L273.9,1068.2 L274.3,1067.7 L274.7,1067.1 L275,1066.5 L275.4,1065.9 L275.8,1065.3 L276.1,1064.7 L276.5,1064.2 L276.8,1063.6 L277.2,1063 L277.6,1062.5 L277.9,1062.1 L278.3,1061.7 L278.7,1061.5 L279,1061.3 L279.4,1061.4 L279.8,1061.7 L280.1,1062 L280.5,1062.4 L280.9,1062.9 L281.2,1063.4 L281.6,1064 L282,1064.6 L282.3,1065.3 L282.7,1065.9 L283.1,1066.5 L283.4,1067.1 L283.8,1067.6 L284.2,1068.1 L284.5,1068.6 L284.9,1069 L285.3,1069.4 L285.6,1069.8 L286,1070.2 L286.4,1070.5 L286.7,1070.8 L287.1,1071.1 L287.5,1071.3 L287.8,1071.6 L288.2,1071.8 L288.6,1071.9 L288.9,1072.1 L289.3,1072.2 L289.7,1072.3 L290,1072.4 L290.4,1072.5 L290.8,1072.6 L291.1,1072.6 L291.5,1072.7 L291.9,1072.7 L292.2,1072.7 L292.6,1072.8 L293,1072.8 L293.3,1072.8 L293.7,1072.8 L294.1,1072.8 L294.4,1072.8 L294.8,1072.8 L295.2,1072.8 L295.5,1072.8 L295.9,1072.8 L296.3,1072.8 L296.6,1072.7 L297,1072.7 L297.4,1072.7 L297.7,1072.6 L298.1,1072.5 L298.5,1072.3 L298.8,1072.2 L299.2,1072 L299.6,1071.7 L299.9,1071.4 L300.3,1071 L300.7,1070.7 L301,1070.2 L301.4,1069.7 L301.8,1069.2 L302.1,1068.6 L302.5,1068 L302.9,1067.3 L303.2,1066.5 L303.6,1065.7 L304,1064.7 L304.3,1063.7 L304.7,1062.7 L305.1,1061.7 L305.4,1060.6 L305.8,1059.4 L306.2,1058.3 L306.5,1057.2 L306.9,1056.2 L307.3,1055.1 L307.6,1054.1 L308,1053.2 L308.4,1052.6 L308.7,1052 L309.1,1051.6 L309.5,1051.7 L309.8,1052.1 L310.2,1052.7 L310.5,1053.5 L310.9,1054.4 L311.3,1055.6 L311.6,1056.8 L312,1057.9 L312.4,1059.2 L312.7,1060.5 L313.1,1061.7 L313.5,1062.7 L313.8,1063.7 L314.2,1064.7 L314.6,1065.6 L314.9,1066.5 L315.3,1067.2 L315.7,1067.9 L316,1068.6 L316.4,1069.2 L316.8,1069.7 L317.1,1070.2 L317.5,1070.7 L317.9,1071 L318.2,1071.4 L318.6,1071.6 L319,1071.9 L319.3,1072.1 L319.7,1072.2 L320.1,1072.4 L320.4,1072.5 L320.8,1072.6 L321.2,1072.6 L321.5,1072.7 L321.9,1072.7 L322.3,1072.7 L322.6,1072.6 L323,1072.6 L323.4,1072.5 L323.7,1072.4 L324.1,1072.2 L324.5,1072.1 L324.8,1071.8 L325.2,1071.6 L325.6,1071.2 L325.9,1070.9 L326.3,1070.4 L326.7,1069.8 L327,1069.2 L327.4,1068.5 L327.8,1067.7 L328.1,1066.8 L328.5,1065.7 L328.9,1064.5 L329.2,1062.9 L329.6,1061 L330,1058.6 L330.3,1055.6 L330.7,1051.8 L331.1,1046.4 L331.4,1040.1 L331.8,1032.2 L332.2,1024.3 L332.5,1016.8 L332.9,1010.2 L333.3,1004.5 L333.6,999.6 L334,995.4 L334.4,995.2 L334.7,997.4 L335.1,999.8 L335.5,1002.4 L335.8,1005.3 L336.2,1008.3 L336.6,1011.5 L336.9,1014.7 L337.3,1018.2 L337.7,1021.5 L338,1024.4 L338.4,1027.1 L338.8,1029.9 L339.1,1032.7 L339.5,1035.6 L339.9,1038.6 L340.2,1041.7 L340.6,1044.7 L341,1047.7 L341.3,1050.6 L341.7,1053.3 L342.1,1055.8 L342.4,1058.1 L342.8,1060.2 L343.2,1062 L343.5,1063.6 L343.9,1064.9 L344.3,1066 L344.6,1067 L345,1067.8 L345.3,1068.6 L345.7,1069.3 L346.1,1069.9 L346.4,1070.4 L346.8,1070.9 L347.2,1071.3 L347.5,1071.6 L347.9,1071.8 L348.3,1072.1 L348.6,1072.2 L349,1072.4 L349.4,1072.5 L349.7,1072.6 L350.1,1072.6 L350.5,1072.7 L350.8,1072.7 L351.2,1072.7 L351.6,1072.8 L351.9,1072.8 L352.3,1072.8 L352.7,1072.8 L353,1072.8 L353.4,1072.8 L353.8,1072.8 L354.1,1072.8 L354.5,1072.8 L354.9,1072.8 L355.2,1072.8 L355.6,1072.7 L356,1072.7 L356.3,1072.6 L356.7,1072.6 L357.1,1072.5 L357.4,1072.3 L357.8,1072.2 L358.2,1072 L358.5,1071.7 L358.9,1071.4 L359.3,1071.1 L359.6,1070.8 L360,1070.4 L360.4,1070 L360.7,1069.5 L361.1,1069 L361.5,1068.5 L361.8,1067.9 L362.2,1067.2 L362.6,1066.5 L362.9,1065.6 L363.3,1064.8 L363.7,1064 L364,1063.1 L364.4,1062.2 L364.8,1061.3 L365.1,1060.5 L365.5,1059.6 L365.9,1058.8 L366.2,1058 L366.6,1057.3 L367,1056.7 L367.3,1056.3 L367.7,1056 L368.1,1056 L368.4,1056.3 L368.8,1056.8 L369.2,1057.4 L369.5,1058.2 L369.9,1059.1 L370.3,1060 L370.6,1060.9 L371,1061.9 L371.4,1063 L371.7,1063.9 L372.1,1064.8 L372.5,1065.6 L372.8,1066.3 L373.2,1067 L373.6,1067.7 L373.9,1068.3 L374.3,1068.9 L374.7,1069.4 L375,1069.9 L375.4,1070.3 L375.8,1070.7 L376.1,1071.1 L376.5,1071.4 L376.9,1071.6 L377.2,1071.8 L377.6,1072 L378,1072.2 L378.3,1072.3 L378.7,1072.4 L379.1,1072.5 L379.4,1072.6 L379.8,1072.7 L380.1,1072.7 L380.5,1072.7 L380.9,1072.7 L381.2,1072.6 L381.6,1072.6 L382,1072.4 L382.3,1072.3 L382.7,1072.2 L383.1,1072 L383.4,1071.8 L383.8,1071.5 L384.2,1071.2 L384.5,1070.8 L384.9,1070.4 L385.3,1069.9 L385.6,1069.3 L386,1068.7 L386.4,1068 L386.7,1067.1 L387.1,1066 L387.5,1064.9 L387.8,1063.7 L388.2,1062.2 L388.6,1060.6 L388.9,1058.9 L389.3,1056.9 L389.7,1054.6 L390,1051.9 L390.4,1048.8 L390.8,1045.4 L391.1,1041.5 L391.5,1037.1 L391.9,1032.2 L392.2,1026.6 L392.6,1021.4 L393,1016.6 L393.3,1012.4 L393.7,1008.7 L394.1,1005.4 L394.4,1002.7 L394.8,1000.4 L395.2,1002.5 L395.5,1005 L395.9,1007.7 L396.3,1010.7 L396.6,1013.9 L397,1017.2 L397.4,1020.7 L397.7,1024.4 L398.1,1027.6 L398.5,1030.5 L398.8,1033.3 L399.2,1036.2 L399.6,1039.2 L399.9,1042.3 L400.3,1045.5 L400.7,1048.7 L401,1051.7 L401.4,1054.5 L401.8,1057.1 L402.1,1059.5 L402.5,1061.6 L402.9,1063.4 L403.2,1064.9 L403.6,1066.1 L404,1067.2 L404.3,1068.1 L404.7,1068.9 L405.1,1069.6 L405.4,1070.2 L405.8,1070.8 L406.2,1071.2 L406.5,1071.6 L406.9,1071.9 L407.3,1072.1 L407.6,1072.3 L408,1072.4 L408.4,1072.5 L408.7,1072.6 L409.1,1072.7 L409.5,1072.7 L409.8,1072.7 L410.2,1072.7 L410.6,1072.6 L410.9,1072.5 L411.3,1072.4 L411.7,1072.3 L412,1072.1 L412.4,1071.9 L412.8,1071.7 L413.1,1071.4 L413.5,1071.1 L413.9,1070.8 L414.2,1070.4 L414.6,1069.9 L414.9,1069.4 L415.3,1068.8 L415.7,1068.2 L416,1067.5 L416.4,1066.7 L416.8,1065.7 L417.1,1064.5 L417.5,1063.2 L417.9,1061.8 L418.2,1060.3 L418.6,1058.5 L419,1056.7 L419.3,1054.6 L419.7,1052.5 L420.1,1050.1 L420.4,1047.4 L420.8,1044.5 L421.2,1041.4 L421.5,1038.4 L421.9,1035.3 L422.3,1032.3 L422.6,1029.1 L423,1025.9 L423.4,1022.9 L423.7,1020.3 L424.1,1018.1 L424.5,1016.2 L424.8,1014.4 L425.2,1012.9 L425.6,1011.7 L425.9,1011.3 L426.3,1013.5 L426.7,1015.9 L427,1018.7 L427.4,1021.8 L427.8,1025 L428.1,1028.4 L428.5,1031.9 L428.9,1034.9 L429.2,1037.7 L429.6,1040.5 L430,1043.3 L430.3,1046.3 L430.7,1049.4 L431.1,1052.4 L431.4,1055.3 L431.8,1058 L432.2,1060.4 L432.5,1062.5 L432.9,1064.3 L433.3,1065.8 L433.6,1067 L434,1068.1 L434.4,1068.9 L434.7,1069.7 L435.1,1070.3 L435.5,1070.9 L435.8,1071.3 L436.2,1071.7 L436.6,1072 L436.9,1072.2 L437.3,1072.4 L437.7,1072.5 L438,1072.6 L438.4,1072.7 L438.8,1072.7 L439.1,1072.7 L439.5,1072.7 L439.9,1072.7 L440.2,1072.6 L440.6,1072.6 L441,1072.5 L441.3,1072.3 L441.7,1072.2 L442.1,1072 L442.4,1071.8 L442.8,1071.5 L443.2,1071.2 L443.5,1070.7 L443.9,1070.3 L444.3,1069.7 L444.6,1069 L445,1068.3 L445.4,1067.5 L445.7,1066.5 L446.1,1065.4 L446.5,1064.1 L446.8,1062.5 L447.2,1060.5 L447.6,1057.9 L447.9,1054.7 L448.3,1050.6 L448.6,1044.9 L449,1038.4 L449.4,1030.2 L449.7,1022.4 L450.1,1014.9 L450.5,1008.5 L450.8,1003 L451.2,998.2 L451.6,994.1 L451.9,995.1 L452.3,997.4 L452.7,999.9 L453,1002.7 L453.4,1005.7 L453.8,1008.9 L454.1,1012.2 L454.5,1015.7 L454.9,1019.3 L455.2,1022.5 L455.6,1025.4 L456,1028.2 L456.3,1031 L456.7,1033.8 L457.1,1036.8 L457.4,1039.9 L457.8,1043.1 L458.2,1046.1 L458.5,1049.1 L458.9,1051.9 L459.3,1054.5 L459.6,1057 L460,1059.2 L460.4,1061.2 L460.7,1062.9 L461.1,1064.3 L461.5,1065.5 L461.8,1066.6 L462.2,1067.5 L462.6,1068.3 L462.9,1069 L463.3,1069.7 L463.7,1070.3 L464,1070.8 L464.4,1071.2 L464.8,1071.5 L465.1,1071.8 L465.5,1072 L465.9,1072.2 L466.2,1072.3 L466.6,1072.5 L467,1072.6 L467.3,1072.6 L467.7,1072.7 L468.1,1072.7 L468.4,1072.7 L468.8,1072.8 L469.2,1072.8 L469.5,1072.8 L469.9,1072.8 L470.3,1072.8 L470.6,1072.8 L471,1072.8 L471.4,1072.8 L471.7,1072.8 L472.1,1072.8 L472.5,1072.8 L472.8,1072.7 L473.2,1072.7 L473.6,1072.6 L473.9,1072.6 L474.3,1072.5 L474.7,1072.4 L475,1072.2 L475.4,1072 L475.8,1071.8 L476.1,1071.5 L476.5,1071.2 L476.9,1070.9 L477.2,1070.5 L477.6,1070.1 L478,1069.7 L478.3,1069.2 L478.7,1068.7 L479.1,1068.1 L479.4,1067.5 L479.8,1066.7 L480.2,1066 L480.5,1065.2 L480.9,1064.4 L481.3,1063.6 L481.6,1062.7 L482,1061.9 L482.4,1061 L482.7,1060.2 L483.1,1059.4 L483.4,1058.7 L483.8,1058 L484.2,1057.5 L484.5,1057.1 L484.9,1056.7 L485.3,1056.8 L485.6,1057.1 L486,1057.5 L486.4,1058.1 L486.7,1058.8 L487.1,1059.7 L487.5,1060.6 L487.8,1061.5 L488.2,1062.4 L488.6,1063.4 L488.9,1064.3 L489.3,1065.1 L489.7,1065.9 L490,1066.6 L490.4,1067.3 L490.8,1067.9 L491.1,1068.5 L491.5,1069 L491.9,1069.5 L492.2,1070 L492.6,1070.4 L493,1070.8 L493.3,1071.1 L493.7,1071.4 L494.1,1071.7 L494.4,1071.9 L494.8,1072.1 L495.2,1072.2 L495.5,1072.3 L495.9,1072.4 L496.3,1072.5 L496.6,1072.6 L497,1072.7 L497.4,1072.7 L497.7,1072.7 L498.1,1072.7 L498.5,1072.6 L498.8,1072.5 L499.2,1072.4 L499.6,1072.3 L499.9,1072.1 L500.3,1071.9 L500.7,1071.7 L501,1071.4 L501.4,1071.1 L501.8,1070.7 L502.1,1070.2 L502.5,1069.7 L502.9,1069.2 L503.2,1068.5 L503.6,1067.8 L504,1067 L504.3,1066 L504.7,1064.8 L505.1,1063.5 L505.4,1062.1 L505.8,1060.6 L506.2,1058.8 L506.5,1056.9 L506.9,1054.8 L507.3,1052.5 L507.6,1049.9 L508,1046.9 L508.4,1043.6 L508.7,1040.2 L509.1,1036.5 L509.5,1032.7 L509.8,1028.5 L510.2,1024.1 L510.6,1019.9 L510.9,1016.1 L511.3,1012.9 L511.7,1010.1 L512,1007.5 L512.4,1005.4 L512.8,1003.5 L513.1,1004.2 L513.5,1006.7 L513.9,1009.3 L514.2,1012.4 L514.6,1015.6 L515,1019 L515.3,1022.6 L515.7,1026.4 L516.1,1029.6 L516.4,1032.5 L516.8,1035.5 L517.2,1038.4 L517.5,1041.5 L517.9,1044.8 L518.2,1048.1 L518.6,1051.2 L519,1054.2 L519.3,1056.9 L519.7,1059.4 L520.1,1061.6 L520.4,1063.5 L520.8,1065.1 L521.2,1066.3 L521.5,1067.4 L521.9,1068.4 L522.3,1069.2 L522.6,1069.9 L523,1070.5 L523.4,1071 L523.7,1071.4 L524.1,1071.7 L524.5,1072 L524.8,1072.2 L525.2,1072.4 L525.6,1072.5 L525.9,1072.6 L526.3,1072.7 L526.7,1072.7 L527,1072.7 L527.4,1072.7 L527.8,1072.6 L528.1,1072.5 L528.5,1072.4 L528.9,1072.3 L529.2,1072.1 L529.6,1071.9 L530,1071.6 L530.3,1071.4 L530.7,1071 L531.1,1070.6 L531.4,1070.2 L531.8,1069.7 L532.2,1069.1 L532.5,1068.5 L532.9,1067.8 L533.3,1066.9 L533.6,1065.9 L534,1064.7 L534.4,1063.4 L534.7,1062 L535.1,1060.4 L535.5,1058.6 L535.8,1056.6 L536.2,1054.5 L536.6,1052.2 L536.9,1049.5 L537.3,1046.5 L537.7,1043.2 L538,1039.7 L538.4,1036 L538.8,1032.1 L539.1,1027.9 L539.5,1023.3 L539.9,1019.1 L540.2,1015.3 L540.6,1012 L541,1009.2 L541.3,1006.6 L541.7,1004.4 L542.1,1002.5 L542.4,1003.2 L542.8,1005.7 L543.2,1008.4 L543.5,1011.5 L543.9,1014.8 L544.3,1018.2 L544.6,1021.9 L545,1025.7 L545.4,1029 L545.7,1031.9 L546.1,1034.9 L546.5,1037.9 L546.8,1041.1 L547.2,1044.4 L547.6,1047.7 L547.9,1050.9 L548.3,1053.9 L548.7,1056.7 L549,1059.2 L549.4,1061.5 L549.8,1063.4 L550.1,1065 L550.5,1066.2 L550.9,1067.4 L551.2,1068.3 L551.6,1069.1 L551.9,1069.8 L552.3,1070.5 L552.7,1071 L553,1071.4 L553.4,1071.7 L553.8,1072 L554.1,1072.2 L554.5,1072.4 L554.9,1072.5 L555.2,1072.6 L555.6,1072.7 L556,1072.7 L556.3,1072.7 L556.7,1072.7 L557.1,1072.6 L557.4,1072.5 L557.8,1072.4 L558.2,1072.3 L558.5,1072.1 L558.9,1071.9 L559.3,1071.6 L559.6,1071.4 L560,1071.1 L560.4,1070.7 L560.7,1070.2 L561.1,1069.8 L561.5,1069.2 L561.8,1068.6 L562.2,1067.9 L562.6,1067.1 L562.9,1066.1 L563.3,1065 L563.7,1063.7 L564,1062.3 L564.4,1060.8 L564.8,1059.1 L565.1,1057.2 L565.5,1055.1 L565.9,1052.9 L566.2,1050.5 L566.6,1047.7 L567,1044.5 L567.3,1041.2 L567.7,1037.8 L568.1,1034.3 L568.4,1030.6 L568.8,1026.7 L569.2,1022.6 L569.5,1019 L569.9,1015.7 L570.3,1013 L570.6,1010.5 L571,1008.4 L571.4,1006.5 L571.7,1005 L572.1,1006.5 L572.5,1009 L572.8,1011.7 L573.2,1014.8 L573.6,1018.1 L573.9,1021.5 L574.3,1025.2 L574.7,1028.8 L575,1031.8 L575.4,1034.7 L575.8,1037.7 L576.1,1040.7 L576.5,1043.8 L576.9,1047.1 L577.2,1050.3 L577.6,1053.4 L578,1056.2 L578.3,1058.8 L578.7,1061.1 L579.1,1063.1 L579.4,1064.8 L579.8,1066.1 L580.2,1067.2 L580.5,1068.2 L580.9,1069 L581.3,1069.8 L581.6,1070.4 L582,1070.9 L582.4,1071.4 L582.7,1071.7 L583.1,1072 L583.5,1072.2 L583.8,1072.4 L584.2,1072.5 L584.6,1072.6 L584.9,1072.7 L585.3,1072.7 L585.7,1072.7 L586,1072.7 L586.4,1072.6 L586.7,1072.5 L587.1,1072.4 L587.5,1072.3 L587.8,1072.1 L588.2,1072 L588.6,1071.7 L588.9,1071.5 L589.3,1071.1 L589.7,1070.8 L590,1070.3 L590.4,1069.8 L590.8,1069.3 L591.1,1068.6 L591.5,1067.9 L591.9,1066.9 L592.2,1065.9 L592.6,1064.7 L593,1063.5 L593.3,1062 L593.7,1060.4 L594.1,1058.6 L594.4,1056.6 L594.8,1054.2 L595.2,1051.5 L595.5,1048.3 L595.9,1044.8 L596.3,1040.8 L596.6,1036.3 L597,1031.4 L597.4,1025.6 L597.7,1020.3 L598.1,1015.4 L598.5,1011.1 L598.8,1007.3 L599.2,1004 L599.6,1001.2 L599.9,998.8 L600.3,1001 L600.7,1003.5 L601,1006.3 L601.4,1009.4 L601.8,1012.6 L602.1,1016 L602.5,1019.6 L602.9,1023.4 L603.2,1026.6 L603.6,1029.6 L604,1032.5 L604.3,1035.5 L604.7,1038.5 L605.1,1041.7 L605.4,1045 L605.8,1048.2 L606.2,1051.3 L606.5,1054.1 L606.9,1056.8 L607.3,1059.2 L607.6,1061.3 L608,1063.2 L608.4,1064.7 L608.7,1066 L609.1,1067.1 L609.5,1068 L609.8,1068.8 L610.2,1069.5 L610.6,1070.2 L610.9,1070.7 L611.3,1071.2 L611.7,1071.5 L612,1071.8 L612.4,1072.1 L612.8,1072.3 L613.1,1072.4 L613.5,1072.5 L613.9,1072.6 L614.2,1072.7 L614.6,1072.7 L615,1072.7 L615.3,1072.8 L615.7,1072.8 L616.1,1072.7 L616.4,1072.7 L616.8,1072.7 L617.2,1072.6 L617.5,1072.5 L617.9,1072.4 L618.3,1072.2 L618.6,1072.1 L619,1071.9 L619.4,1071.6 L619.7,1071.4 L620.1,1071.1 L620.5,1070.8 L620.8,1070.4 L621.2,1069.9 L621.5,1069.4 L621.9,1068.9 L622.3,1068.3 L622.6,1067.6 L623,1066.8 L623.4,1065.9 L623.7,1064.8 L624.1,1063.5 L624.5,1062.2 L624.8,1060.8 L625.2,1059.2 L625.6,1057.5 L625.9,1055.6 L626.3,1053.7 L626.7,1051.5 L627,1049.1 L627.4,1046.5 L627.8,1043.8 L628.1,1041.1 L628.5,1038.6 L628.9,1036.1 L629.2,1033.4 L629.6,1030.9 L630,1028.5 L630.3,1026.5 L630.7,1024.9 L631.1,1023.4 L631.4,1022.1 L631.8,1020.9 L632.2,1019.9 L632.5,1019.8 L632.9,1021.9 L633.3,1024.4 L633.6,1027.2 L634,1030.2 L634.4,1033.4 L634.7,1036.8 L635.1,1039.8 L635.5,1042.5 L635.8,1045.3 L636.2,1048 L636.6,1051 L636.9,1054 L637.3,1056.8 L637.7,1059.5 L638,1061.8 L638.4,1063.9 L638.8,1065.6 L639.1,1067 L639.5,1068.1 L639.9,1069.1 L640.2,1069.8 L640.6,1070.5 L641,1071.1 L641.3,1071.5 L641.7,1071.8 L642.1,1072.1 L642.4,1072.3 L642.8,1072.4 L643.2,1072.5 L643.5,1072.6 L643.9,1072.6 L644.3,1072.5 L644.6,1072.5 L645,1072.3 L645.4,1072.2 L645.7,1072 L646.1,1071.8 L646.5,1071.5 L646.8,1071.1 L647.2,1070.7 L647.6,1070.2 L647.9,1069.7 L648.3,1069 L648.7,1068.2 L649,1067.4 L649.4,1066.4 L649.8,1065.3 L650.1,1063.9 L650.5,1062.3 L650.9,1060.2 L651.2,1057.6 L651.6,1054.3 L652,1050.1 L652.3,1044.3 L652.7,1037.5 L653.1,1029 L653.4,1020.9 L653.8,1013.1 L654.2,1006.4 L654.5,1000.5 L654.9,995.6 L655.2,991.3 L655.6,992.3 L656,994.6 L656.3,997 L656.7,999.4 L657.1,1002 L657.4,1004.8 L657.8,1007.6 L658.2,1010.6 L658.5,1013.7 L658.9,1016.8 L659.3,1019.8 L659.6,1022.5 L660,1025.4 L660.4,1028.3 L660.7,1031.3 L661.1,1034.3 L661.5,1037.3 L661.8,1040.4 L662.2,1043.4 L662.6,1046.4 L662.9,1049.2 L663.3,1051.9 L663.7,1054.5 L664,1057 L664.4,1059.2 L664.8,1061.1 L665.1,1062.7 L665.5,1064.1 L665.9,1065.3 L666.2,1066.3 L666.6,1067.2 L667,1068 L667.3,1068.7 L667.7,1069.3 L668.1,1069.9 L668.4,1070.5 L668.8,1070.9 L669.2,1071.3 L669.5,1071.6 L669.9,1071.8 L670.3,1072 L670.6,1072.2 L671,1072.3 L671.4,1072.5 L671.7,1072.5 L672.1,1072.6 L672.5,1072.7 L672.8,1072.7 L673.2,1072.7 L673.6,1072.8 L673.9,1072.8 L674.3,1072.8 L674.7,1072.8 L675,1072.8 L675.4,1072.8 L675.8,1072.8 L676.1,1072.8 L676.5,1072.8 L676.9,1072.8 L677.2,1072.8 L677.6,1072.8 L678,1072.7 L678.3,1072.7 L678.7,1072.7 L679.1,1072.6 L679.4,1072.6 L679.8,1072.5 L680.2,1072.4 L680.5,1072.2 L680.9,1072.1 L681.3,1071.9 L681.6,1071.7 L682,1071.4 L682.4,1071.2 L682.7,1070.9 L683.1,1070.6 L683.5,1070.2 L683.8,1069.8 L684.2,1069.4 L684.6,1069 L684.9,1068.5 L685.3,1067.9 L685.7,1067.3 L686,1066.8 L686.4,1066.2 L686.8,1065.6 L687.1,1065 L687.5,1064.4 L687.9,1063.8 L688.2,1063.3 L688.6,1062.7 L689,1062.2 L689.3,1061.9 L689.7,1061.6 L690,1061.4 L690.4,1061.4 L690.8,1061.6 L691.1,1061.9 L691.5,1062.3 L691.9,1062.8 L692.2,1063.4 L692.6,1064.1 L693,1064.7 L693.3,1065.4 L693.7,1066.1 L694.1,1066.7 L694.4,1067.3 L694.8,1067.8 L695.2,1068.4 L695.5,1068.9 L695.9,1069.3 L696.3,1069.7 L696.6,1070.1 L697,1070.5 L697.4,1070.8 L697.7,1071.1 L698.1,1071.4 L698.5,1071.6 L698.8,1071.8 L699.2,1072 L699.6,1072.1 L699.9,1072.3 L700.3,1072.4 L700.7,1072.5 L701,1072.5 L701.4,1072.6 L701.8,1072.7 L702.1,1072.7 L702.5,1072.7 L702.9,1072.7 L703.2,1072.8 L703.6,1072.8 L704,1072.8 L704.3,1072.8 L704.7,1072.8 L705.1,1072.8 L705.4,1072.8 L705.8,1072.8 L706.2,1072.8 L706.5,1072.8 L706.9,1072.8" fill="none" stroke="#d9534f" stroke-width="4.0" stroke-linejoin="round" stroke-linecap="butt" /></g>
<rect x="120.8" y="960.7" width="586.1" height="123.1" fill="none" stroke="#000" stroke-width="2.1"/>
<path d="M120.8,1073.8 l-9.4,0" stroke="#000" stroke-width="2.1" fill="none"/>
<text x="102.9" y="1084.9" font-size="26.4" text-anchor="end" fill="#000" >0.00</text>
<path d="M120.8,1009.6 l-9.4,0" stroke="#000" stroke-width="2.1" fill="none"/>
<text x="102.9" y="1020.7" font-size="26.4" text-anchor="end" fill="#000" >0.25</text>
<path d="M267.3,1083.8 l0,8.9" stroke="#000" stroke-width="2.1" fill="none"/>
<path d="M413.9,1083.8 l0,8.9" stroke="#000" stroke-width="2.1" fill="none"/>
<path d="M560.4,1083.8 l0,8.9" stroke="#000" stroke-width="2.1" fill="none"/>
<path d="M706.9,1083.8 l0,8.9" stroke="#000" stroke-width="2.1" fill="none"/>
<text transform="translate(23.8,1023.8) rotate(-90)" font-size="26.4" text-anchor="middle"><tspan font-style="italic">B</tspan><tspan dx="4.49">[</tspan><tspan font-style="italic">Kg</tspan>/<tspan font-style="italic">m</tspan><tspan font-size="18.48" dy="-9.5">2</tspan><tspan dy="9.5">]</tspan></text>
<text x="149.5" y="983.6" font-size="26.2" text-anchor="start" fill="#000" >Chaotic</text>
<clipPath id="c7"><rect x="120.8" y="1108.7" width="586.1" height="123.1"/></clipPath>
<g clip-path="url(#c7)"><path d="M121.1,1221.8 L121.1,1130.6 L121.5,1128.7 L121.8,1127.2 L122.2,1126.1 L122.6,1125.5 L122.9,1125.3 L123.3,1125.5 L123.7,1126.6 L124,1128.3 L124.4,1130.4 L124.8,1132.6 L125.1,1134.8 L125.5,1136.6 L125.9,1138.2 L126.2,1139.9 L126.6,1141.6 L127,1143.3 L127.3,1145 L127.7,1146.8 L128.1,1148.7 L128.4,1150.7 L128.8,1152.7 L129.2,1154.8 L129.5,1157.1 L129.9,1159.4 L130.3,1162 L130.6,1164.8 L131,1168 L131.4,1171.2 L131.7,1174.4 L132.1,1177.6 L132.5,1180.8 L132.8,1184 L133.2,1187.1 L133.6,1190.1 L133.9,1193.2 L134.3,1196.2 L134.7,1199.1 L135,1201.8 L135.4,1204.2 L135.8,1206.6 L136.1,1208.8 L136.5,1210.6 L136.9,1212.2 L137.2,1213.6 L137.6,1214.8 L138,1216 L138.3,1216.9 L138.7,1217.5 L139,1218 L139.4,1218.5 L139.8,1218.9 L140.1,1219.3 L140.5,1219.6 L140.9,1219.9 L141.2,1220.2 L141.6,1220.4 L142,1220.6 L142.3,1220.7 L142.7,1220.8 L143.1,1220.9 L143.4,1221 L143.8,1221.1 L144.2,1221.2 L144.5,1221.3 L144.9,1221.3 L145.3,1221.4 L145.6,1221.4 L146,1221.5 L146.4,1221.5 L146.7,1221.5 L147.1,1221.6 L147.5,1221.6 L147.8,1221.6 L148.2,1221.6 L148.6,1221.6 L148.9,1221.6 L149.3,1221.6 L149.7,1221.6 L150,1221.5 L150.4,1221.5 L150.8,1221.4 L151.1,1221.3 L151.5,1221.1 L151.9,1221 L152.2,1220.8 L152.6,1220.6 L153,1220.4 L153.3,1220.1 L153.7,1219.9 L154.1,1219.6 L154.4,1219.2 L154.8,1218.9 L155.2,1218.5 L155.5,1218 L155.9,1217.6 L156.3,1217.1 L156.6,1216.6 L157,1216.1 L157.4,1215.6 L157.7,1215 L158.1,1214.5 L158.5,1214 L158.8,1213.6 L159.2,1213.1 L159.6,1212.7 L159.9,1212.4 L160.3,1212.1 L160.7,1211.9 L161,1211.9 L161.4,1212.1 L161.8,1212.3 L162.1,1212.5 L162.5,1212.9 L162.9,1213.3 L163.2,1213.7 L163.6,1214.2 L164,1214.6 L164.3,1215.1 L164.7,1215.7 L165.1,1216.1 L165.4,1216.6 L165.8,1217 L166.2,1217.4 L166.5,1217.8 L166.9,1218.2 L167.3,1218.6 L167.6,1218.9 L168,1219.2 L168.4,1219.5 L168.7,1219.7 L169.1,1220 L169.5,1220.2 L169.8,1220.4 L170.2,1220.6 L170.6,1220.8 L170.9,1221 L171.3,1221.1 L171.7,1221.2 L172,1221.3 L172.4,1221.4 L172.8,1221.5 L173.1,1221.5 L173.5,1221.6 L173.8,1221.6 L174.2,1221.7 L174.6,1221.7 L174.9,1221.7 L175.3,1221.8 L175.7,1221.8 L176,1221.8 L176.4,1221.8 L176.8,1221.8 L177.1,1221.8 L177.5,1221.8 L177.9,1221.7 L178.2,1221.7 L178.6,1221.7 L179,1221.6 L179.3,1221.5 L179.7,1221.4 L180.1,1221.3 L180.4,1221.2 L180.8,1221 L181.2,1220.9 L181.5,1220.7 L181.9,1220.5 L182.3,1220.3 L182.6,1220.1 L183,1219.8 L183.4,1219.5 L183.7,1219.2 L184.1,1218.9 L184.5,1218.5 L184.8,1218.2 L185.2,1217.8 L185.6,1217.4 L185.9,1217 L186.3,1216.6 L186.7,1216.2 L187,1215.8 L187.4,1215.5 L187.8,1215.1 L188.1,1214.8 L188.5,1214.6 L188.9,1214.4 L189.2,1214.2 L189.6,1214.2 L190,1214.3 L190.3,1214.5 L190.7,1214.6 L191.1,1214.9 L191.4,1215.2 L191.8,1215.5 L192.2,1215.8 L192.5,1216.2 L192.9,1216.5 L193.3,1216.9 L193.6,1217.2 L194,1217.6 L194.4,1217.9 L194.7,1218.2 L195.1,1218.5 L195.5,1218.8 L195.8,1219.1 L196.2,1219.3 L196.6,1219.6 L196.9,1219.8 L197.3,1220 L197.7,1220.2 L198,1220.4 L198.4,1220.6 L198.8,1220.7 L199.1,1220.9 L199.5,1221 L199.9,1221.1 L200.2,1221.2 L200.6,1221.3 L201,1221.4 L201.3,1221.5 L201.7,1221.5 L202.1,1221.6 L202.4,1221.6 L202.8,1221.7 L203.2,1221.7 L203.5,1221.7 L203.9,1221.7 L204.3,1221.8 L204.6,1221.8 L205,1221.8 L205.4,1221.8 L205.7,1221.8 L206.1,1221.8 L206.5,1221.8 L206.8,1221.7 L207.2,1221.7 L207.5,1221.7 L207.9,1221.6 L208.3,1221.6 L208.6,1221.5 L209,1221.5 L209.4,1221.4 L209.7,1221.3 L210.1,1221.2 L210.5,1221.1 L210.8,1221 L211.2,1220.8 L211.6,1220.7 L211.9,1220.5 L212.3,1220.3 L212.7,1220.1 L213,1219.9 L213.4,1219.7 L213.8,1219.5 L214.1,1219.3 L214.5,1219 L214.9,1218.8 L215.2,1218.5 L215.6,1218.3 L216,1218.1 L216.3,1217.9 L216.7,1217.7 L217.1,1217.5 L217.4,1217.4 L217.8,1217.3 L218.2,1217.3 L218.5,1217.3 L218.9,1217.4 L219.3,1217.5 L219.6,1217.6 L220,1217.7 L220.4,1217.9 L220.7,1218.1 L221.1,1218.3 L221.5,1218.5 L221.8,1218.7 L222.2,1218.9 L222.6,1219.1 L222.9,1219.3 L223.3,1219.5 L223.7,1219.7 L224,1219.8 L224.4,1220 L224.8,1220.2 L225.1,1220.3 L225.5,1220.4 L225.9,1220.6 L226.2,1220.7 L226.6,1220.8 L227,1220.9 L227.3,1221 L227.7,1221.1 L228.1,1221.2 L228.4,1221.3 L228.8,1221.4 L229.2,1221.4 L229.5,1221.5 L229.9,1221.5 L230.3,1221.6 L230.6,1221.6 L231,1221.6 L231.4,1221.7 L231.7,1221.7 L232.1,1221.7 L232.5,1221.7 L232.8,1221.8 L233.2,1221.8 L233.6,1221.8 L233.9,1221.8 L234.3,1221.8 L234.7,1221.8 L235,1221.8 L235.4,1221.8 L235.8,1221.8 L236.1,1221.8 L236.5,1221.8 L236.9,1221.8 L237.2,1221.8 L237.6,1221.8 L238,1221.8 L238.3,1221.8 L238.7,1221.7 L239.1,1221.7 L239.4,1221.7 L239.8,1221.6 L240.2,1221.6 L240.5,1221.6 L240.9,1221.5 L241.3,1221.4 L241.6,1221.4 L242,1221.3 L242.3,1221.2 L242.7,1221.2 L243.1,1221.1 L243.4,1221 L243.8,1220.9 L244.2,1220.7 L244.5,1220.6 L244.9,1220.5 L245.3,1220.4 L245.6,1220.2 L246,1220.1 L246.4,1220 L246.7,1219.8 L247.1,1219.7 L247.5,1219.6 L247.8,1219.5 L248.2,1219.4 L248.6,1219.4 L248.9,1219.3 L249.3,1219.3 L249.7,1219.3 L250,1219.4 L250.4,1219.4 L250.8,1219.5 L251.1,1219.6 L251.5,1219.7 L251.9,1219.9 L252.2,1220 L252.6,1220.1 L253,1220.2 L253.3,1220.4 L253.7,1220.5 L254.1,1220.6 L254.4,1220.7 L254.8,1220.8 L255.2,1220.9 L255.5,1221 L255.9,1221.1 L256.3,1221.2 L256.6,1221.2 L257,1221.3 L257.4,1221.4 L257.7,1221.4 L258.1,1221.5 L258.5,1221.5 L258.8,1221.6 L259.2,1221.6 L259.6,1221.6 L259.9,1221.7 L260.3,1221.7 L260.7,1221.7 L261,1221.7 L261.4,1221.7 L261.8,1221.8 L262.1,1221.8 L262.5,1221.8 L262.9,1221.8 L263.2,1221.8 L263.6,1221.8 L264,1221.8 L264.3,1221.8 L264.7,1221.8 L265.1,1221.8 L265.4,1221.8 L265.8,1221.8 L266.2,1221.8 L266.5,1221.8 L266.9,1221.8 L267.3,1221.8 L267.6,1221.8 L268,1221.8 L268.4,1221.8 L268.7,1221.8 L269.1,1221.8 L269.5,1221.8 L269.8,1221.8 L270.2,1221.8 L270.6,1221.8 L270.9,1221.8 L271.3,1221.8 L271.7,1221.8 L272,1221.8 L272.4,1221.8 L272.8,1221.8 L273.1,1221.8 L273.5,1221.8 L273.9,1221.8 L274.2,1221.8 L274.6,1221.8 L275,1221.8 L275.3,1221.8 L275.7,1221.8 L276.1,1221.8 L276.4,1221.8 L276.8,1221.8 L277.1,1221.8 L277.5,1221.8 L277.9,1221.8 L278.2,1221.8 L278.6,1221.8 L279,1221.8 L279.3,1221.8 L279.7,1221.8 L280.1,1221.8 L280.4,1221.8 L280.8,1221.8 L281.2,1221.8 L281.5,1221.8 L281.9,1221.8 L282.3,1221.8 L282.6,1221.8 L283,1221.8 L283.4,1221.8 L283.7,1221.8 L284.1,1221.8 L284.5,1221.8 L284.8,1221.8 L285.2,1221.8 L285.6,1221.8 L285.9,1221.8 L286.3,1221.8 L286.7,1221.8 L287,1221.8 L287.4,1221.8 L287.8,1221.8 L288.1,1221.8 L288.5,1221.8 L288.9,1221.8 L289.2,1221.8 L289.6,1221.8 L290,1221.8 L290.3,1221.8 L290.7,1221.8 L291.1,1221.8 L291.4,1221.8 L291.8,1221.8 L292.2,1221.8 L292.5,1221.8 L292.9,1221.8 L293.3,1221.8 L293.6,1221.8 L294,1221.8 L294.4,1221.8 L294.7,1221.8 L295.1,1221.8 L295.5,1221.8 L295.8,1221.8 L296.2,1221.8 L296.6,1221.8 L296.9,1221.8 L297.3,1221.8 L297.7,1221.8 L298,1221.8 L298.4,1221.8 L298.8,1221.8 L299.1,1221.8 L299.5,1221.8 L299.9,1221.8 L300.2,1221.8 L300.6,1221.8 L301,1221.8 L301.3,1221.8 L301.7,1221.8 L302.1,1221.8 L302.4,1221.8 L302.8,1221.8 L303.2,1221.8 L303.5,1221.8 L303.9,1221.8 L304.3,1221.8 L304.6,1221.8 L305,1221.8 L305.4,1221.8 L305.7,1221.8 L306.1,1221.8 L306.5,1221.8 L306.8,1221.8 L307.2,1221.8 L307.6,1221.8 L307.9,1221.8 L308.3,1221.8 L308.7,1221.8 L309,1221.8 L309.4,1221.8 L309.8,1221.8 L310.1,1221.8 L310.5,1221.8 L310.8,1221.8 L311.2,1221.8 L311.6,1221.8 L311.9,1221.8 L312.3,1221.8 L312.7,1221.8 L313,1221.8 L313.4,1221.8 L313.8,1221.8 L314.1,1221.8 L314.5,1221.8 L314.9,1221.8 L315.2,1221.8 L315.6,1221.8 L316,1221.8 L316.3,1221.8 L316.7,1221.8 L317.1,1221.8 L317.4,1221.8 L317.8,1221.8 L318.2,1221.8 L318.5,1221.8 L318.9,1221.8 L319.3,1221.8 L319.6,1221.8 L320,1221.8 L320.4,1221.8 L320.7,1221.8 L321.1,1221.8 L321.5,1221.8 L321.8,1221.8 L322.2,1221.8 L322.6,1221.8 L322.9,1221.8 L323.3,1221.8 L323.7,1221.8 L324,1221.8 L324.4,1221.8 L324.8,1221.8 L325.1,1221.8 L325.5,1221.8 L325.9,1221.8 L326.2,1221.8 L326.6,1221.8 L327,1221.8 L327.3,1221.8 L327.7,1221.8 L328.1,1221.8 L328.4,1221.8 L328.8,1221.8 L329.2,1221.8 L329.5,1221.8 L329.9,1221.8 L330.3,1221.8 L330.6,1221.8 L331,1221.8 L331.4,1221.8 L331.7,1221.8 L332.1,1221.8 L332.5,1221.8 L332.8,1221.8 L333.2,1221.8 L333.6,1221.8 L333.9,1221.8 L334.3,1221.8 L334.7,1221.8 L335,1221.8 L335.4,1221.8 L335.8,1221.8 L336.1,1221.8 L336.5,1221.8 L336.9,1221.8 L337.2,1221.8 L337.6,1221.8 L338,1221.8 L338.3,1221.8 L338.7,1221.8 L339.1,1221.8 L339.4,1221.8 L339.8,1221.8 L340.2,1221.8 L340.5,1221.8 L340.9,1221.8 L341.3,1221.8 L341.6,1221.8 L342,1221.8 L342.4,1221.8 L342.7,1221.8 L343.1,1221.8 L343.5,1221.8 L343.8,1221.8 L344.2,1221.8 L344.6,1221.8 L344.9,1221.8 L345.3,1221.8 L345.6,1221.8 L346,1221.8 L346.4,1221.8 L346.7,1221.8 L347.1,1221.8 L347.5,1221.8 L347.8,1221.8 L348.2,1221.8 L348.6,1221.8 L348.9,1221.8 L349.3,1221.8 L349.7,1221.8 L350,1221.8 L350.4,1221.8 L350.8,1221.8 L351.1,1221.8 L351.5,1221.8 L351.9,1221.8 L352.2,1221.8 L352.6,1221.8 L353,1221.8 L353.3,1221.8 L353.7,1221.8 L354.1,1221.8 L354.4,1221.8 L354.8,1221.8 L355.2,1221.8 L355.5,1221.8 L355.9,1221.8 L356.3,1221.8 L356.6,1221.8 L357,1221.8 L357.4,1221.8 L357.7,1221.8 L358.1,1221.8 L358.5,1221.8 L358.8,1221.8 L359.2,1221.8 L359.6,1221.8 L359.9,1221.8 L360.3,1221.8 L360.7,1221.8 L361,1221.8 L361.4,1221.8 L361.8,1221.8 L362.1,1221.8 L362.5,1221.8 L362.9,1221.8 L363.2,1221.8 L363.6,1221.8 L364,1221.8 L364.3,1221.8 L364.7,1221.8 L365.1,1221.8 L365.4,1221.8 L365.8,1221.8 L366.2,1221.8 L366.5,1221.8 L366.9,1221.8 L367.3,1221.8 L367.6,1221.8 L368,1221.8 L368.4,1221.8 L368.7,1221.8 L369.1,1221.8 L369.5,1221.8 L369.8,1221.8 L370.2,1221.8 L370.6,1221.8 L370.9,1221.8 L371.3,1221.8 L371.7,1221.8 L372,1221.8 L372.4,1221.8 L372.8,1221.8 L373.1,1221.8 L373.5,1221.8 L373.9,1221.8 L374.2,1221.8 L374.6,1221.8 L375,1221.8 L375.3,1221.8 L375.7,1221.8 L376.1,1221.8 L376.4,1221.8 L376.8,1221.8 L377.2,1221.8 L377.5,1221.8 L377.9,1221.8 L378.3,1221.8 L378.6,1221.8 L379,1221.8 L379.4,1221.8 L379.7,1221.8 L380.1,1221.8 L380.4,1221.8 L380.8,1221.8 L381.2,1221.8 L381.5,1221.8 L381.9,1221.8 L382.3,1221.8 L382.6,1221.8 L383,1221.8 L383.4,1221.8 L383.7,1221.8 L384.1,1221.8 L384.5,1221.8 L384.8,1221.8 L385.2,1221.8 L385.6,1221.8 L385.9,1221.8 L386.3,1221.8 L386.7,1221.8 L387,1221.8 L387.4,1221.8 L387.8,1221.8 L388.1,1221.8 L388.5,1221.8 L388.9,1221.8 L389.2,1221.8 L389.6,1221.8 L390,1221.8 L390.3,1221.8 L390.7,1221.8 L391.1,1221.8 L391.4,1221.8 L391.8,1221.8 L392.2,1221.8 L392.5,1221.8 L392.9,1221.8 L393.3,1221.8 L393.6,1221.8 L394,1221.8 L394.4,1221.8 L394.7,1221.8 L395.1,1221.8 L395.5,1221.8 L395.8,1221.8 L396.2,1221.8 L396.6,1221.8 L396.9,1221.8 L397.3,1221.8 L397.7,1221.8 L398,1221.8 L398.4,1221.8 L398.8,1221.8 L399.1,1221.8 L399.5,1221.8 L399.9,1221.8 L400.2,1221.8 L400.6,1221.8 L401,1221.8 L401.3,1221.8 L401.7,1221.8 L402.1,1221.8 L402.4,1221.8 L402.8,1221.8 L403.2,1221.8 L403.5,1221.8 L403.9,1221.8 L404.3,1221.8 L404.6,1221.8 L405,1221.8 L405.4,1221.8 L405.7,1221.8 L406.1,1221.8 L406.5,1221.8 L406.8,1221.8 L407.2,1221.8 L407.6,1221.8 L407.9,1221.8 L408.3,1221.8 L408.7,1221.8 L409,1221.8 L409.4,1221.8 L409.8,1221.8 L410.1,1221.8 L410.5,1221.8 L410.9,1221.8 L411.2,1221.8 L411.6,1221.8 L412,1221.8 L412.3,1221.8 L412.7,1221.8 L413.1,1221.8 L413.4,1221.8 L413.8,1221.8 L414.2,1221.8 L414.5,1221.8 L414.9,1221.8 L415.2,1221.8 L415.6,1221.8 L416,1221.8 L416.3,1221.8 L416.7,1221.8 L417.1,1221.8 L417.4,1221.8 L417.8,1221.8 L418.2,1221.8 L418.5,1221.8 L418.9,1221.8 L419.3,1221.8 L419.6,1221.8 L420,1221.8 L420.4,1221.8 L420.7,1221.8 L421.1,1221.8 L421.5,1221.8 L421.8,1221.8 L422.2,1221.8 L422.6,1221.8 L422.9,1221.8 L423.3,1221.8 L423.7,1221.8 L424,1221.8 L424.4,1221.8 L424.8,1221.8 L425.1,1221.8 L425.5,1221.8 L425.9,1221.8 L426.2,1221.8 L426.6,1221.8 L427,1221.8 L427.3,1221.8 L427.7,1221.8 L428.1,1221.8 L428.4,1221.8 L428.8,1221.8 L429.2,1221.8 L429.5,1221.8 L429.9,1221.8 L430.3,1221.8 L430.6,1221.8 L431,1221.8 L431.4,1221.8 L431.7,1221.8 L432.1,1221.8 L432.5,1221.8 L432.8,1221.8 L433.2,1221.8 L433.6,1221.8 L433.9,1221.8 L434.3,1221.8 L434.7,1221.8 L435,1221.8 L435.4,1221.8 L435.8,1221.8 L436.1,1221.8 L436.5,1221.8 L436.9,1221.8 L437.2,1221.8 L437.6,1221.8 L438,1221.8 L438.3,1221.8 L438.7,1221.8 L439.1,1221.8 L439.4,1221.8 L439.8,1221.8 L440.2,1221.8 L440.5,1221.8 L440.9,1221.8 L441.3,1221.8 L441.6,1221.8 L442,1221.8 L442.4,1221.8 L442.7,1221.8 L443.1,1221.8 L443.5,1221.8 L443.8,1221.8 L444.2,1221.8 L444.6,1221.8 L444.9,1221.8 L445.3,1221.8 L445.7,1221.8 L446,1221.8 L446.4,1221.8 L446.8,1221.8 L447.1,1221.8 L447.5,1221.8 L447.9,1221.8 L448.2,1221.8 L448.6,1221.8 L448.9,1221.8 L449.3,1221.8 L449.7,1221.8 L450,1221.8 L450.4,1221.8 L450.8,1221.8 L451.1,1221.8 L451.5,1221.8 L451.9,1221.8 L452.2,1221.8 L452.6,1221.8 L453,1221.8 L453.3,1221.8 L453.7,1221.8 L454.1,1221.8 L454.4,1221.8 L454.8,1221.8 L455.2,1221.8 L455.5,1221.8 L455.9,1221.8 L456.3,1221.8 L456.6,1221.8 L457,1221.8 L457.4,1221.8 L457.7,1221.8 L458.1,1221.8 L458.5,1221.8 L458.8,1221.8 L459.2,1221.8 L459.6,1221.8 L459.9,1221.8 L460.3,1221.8 L460.7,1221.8 L461,1221.8 L461.4,1221.8 L461.8,1221.8 L462.1,1221.8 L462.5,1221.8 L462.9,1221.8 L463.2,1221.8 L463.6,1221.8 L464,1221.8 L464.3,1221.8 L464.7,1221.8 L465.1,1221.8 L465.4,1221.8 L465.8,1221.8 L466.2,1221.8 L466.5,1221.8 L466.9,1221.8 L467.3,1221.8 L467.6,1221.8 L468,1221.8 L468.4,1221.8 L468.7,1221.8 L469.1,1221.8 L469.5,1221.8 L469.8,1221.8 L470.2,1221.8 L470.6,1221.8 L470.9,1221.8 L471.3,1221.8 L471.7,1221.8 L472,1221.8 L472.4,1221.8 L472.8,1221.8 L473.1,1221.8 L473.5,1221.8 L473.9,1221.8 L474.2,1221.8 L474.6,1221.8 L475,1221.8 L475.3,1221.8 L475.7,1221.8 L476.1,1221.8 L476.4,1221.8 L476.8,1221.8 L477.2,1221.8 L477.5,1221.8 L477.9,1221.8 L478.3,1221.8 L478.6,1221.8 L479,1221.8 L479.4,1221.8 L479.7,1221.8 L480.1,1221.8 L480.5,1221.8 L480.8,1221.8 L481.2,1221.8 L481.6,1221.8 L481.9,1221.8 L482.3,1221.8 L482.7,1221.8 L483,1221.8 L483.4,1221.8 L483.7,1221.8 L484.1,1221.8 L484.5,1221.8 L484.8,1221.8 L485.2,1221.8 L485.6,1221.8 L485.9,1221.8 L486.3,1221.8 L486.7,1221.8 L487,1221.8 L487.4,1221.8 L487.8,1221.8 L488.1,1221.8 L488.5,1221.8 L488.9,1221.8 L489.2,1221.8 L489.6,1221.8 L490,1221.8 L490.3,1221.8 L490.7,1221.8 L491.1,1221.8 L491.4,1221.8 L491.8,1221.8 L492.2,1221.8 L492.5,1221.8 L492.9,1221.8 L493.3,1221.8 L493.6,1221.8 L494,1221.8 L494.4,1221.8 L494.7,1221.8 L495.1,1221.8 L495.5,1221.8 L495.8,1221.8 L496.2,1221.8 L496.6,1221.8 L496.9,1221.8 L497.3,1221.8 L497.7,1221.8 L498,1221.8 L498.4,1221.8 L498.8,1221.8 L499.1,1221.8 L499.5,1221.8 L499.9,1221.8 L500.2,1221.8 L500.6,1221.8 L501,1221.8 L501.3,1221.8 L501.7,1221.8 L502.1,1221.8 L502.4,1221.8 L502.8,1221.8 L503.2,1221.8 L503.5,1221.8 L503.9,1221.8 L504.3,1221.8 L504.6,1221.8 L505,1221.8 L505.4,1221.8 L505.7,1221.8 L506.1,1221.8 L506.5,1221.8 L506.8,1221.8 L507.2,1221.8 L507.6,1221.8 L507.9,1221.8 L508.3,1221.8 L508.7,1221.8 L509,1221.8 L509.4,1221.8 L509.8,1221.8 L510.1,1221.8 L510.5,1221.8 L510.9,1221.8 L511.2,1221.8 L511.6,1221.8 L512,1221.8 L512.3,1221.8 L512.7,1221.8 L513.1,1221.8 L513.4,1221.8 L513.8,1221.8 L514.2,1221.8 L514.5,1221.8 L514.9,1221.8 L515.3,1221.8 L515.6,1221.8 L516,1221.8 L516.4,1221.8 L516.7,1221.8 L517.1,1221.8 L517.5,1221.8 L517.8,1221.8 L518.2,1221.8 L518.5,1221.8 L518.9,1221.8 L519.3,1221.8 L519.6,1221.8 L520,1221.8 L520.4,1221.8 L520.7,1221.8 L521.1,1221.8 L521.5,1221.8 L521.8,1221.8 L522.2,1221.8 L522.6,1221.8 L522.9,1221.8 L523.3,1221.8 L523.7,1221.8 L524,1221.8 L524.4,1221.8 L524.8,1221.8 L525.1,1221.8 L525.5,1221.8 L525.9,1221.8 L526.2,1221.8 L526.6,1221.8 L527,1221.8 L527.3,1221.8 L527.7,1221.8 L528.1,1221.8 L528.4,1221.8 L528.8,1221.8 L529.2,1221.8 L529.5,1221.8 L529.9,1221.8 L530.3,1221.8 L530.6,1221.8 L531,1221.8 L531.4,1221.8 L531.7,1221.8 L532.1,1221.8 L532.5,1221.8 L532.8,1221.8 L533.2,1221.8 L533.6,1221.8 L533.9,1221.8 L534.3,1221.8 L534.7,1221.8 L535,1221.8 L535.4,1221.8 L535.8,1221.8 L536.1,1221.8 L536.5,1221.8 L536.9,1221.8 L537.2,1221.8 L537.6,1221.8 L538,1221.8 L538.3,1221.8 L538.7,1221.8 L539.1,1221.8 L539.4,1221.8 L539.8,1221.8 L540.2,1221.8 L540.5,1221.8 L540.9,1221.8 L541.3,1221.8 L541.6,1221.8 L542,1221.8 L542.4,1221.8 L542.7,1221.8 L543.1,1221.8 L543.5,1221.8 L543.8,1221.8 L544.2,1221.8 L544.6,1221.8 L544.9,1221.8 L545.3,1221.8 L545.7,1221.8 L546,1221.8 L546.4,1221.8 L546.8,1221.8 L547.1,1221.8 L547.5,1221.8 L547.9,1221.8 L548.2,1221.8 L548.6,1221.8 L549,1221.8 L549.3,1221.8 L549.7,1221.8 L550.1,1221.8 L550.4,1221.8 L550.8,1221.8 L551.2,1221.8 L551.5,1221.8 L551.9,1221.8 L552.2,1221.8 L552.6,1221.8 L553,1221.8 L553.3,1221.8 L553.7,1221.8 L554.1,1221.8 L554.4,1221.8 L554.8,1221.8 L555.2,1221.8 L555.5,1221.8 L555.9,1221.8 L556.3,1221.8 L556.6,1221.8 L557,1221.8 L557.4,1221.8 L557.7,1221.8 L558.1,1221.8 L558.5,1221.8 L558.8,1221.8 L559.2,1221.8 L559.6,1221.8 L559.9,1221.8 L560.3,1221.8 L560.7,1221.8 L561,1221.8 L561.4,1221.8 L561.8,1221.8 L562.1,1221.8 L562.5,1221.8 L562.9,1221.8 L563.2,1221.8 L563.6,1221.8 L564,1221.8 L564.3,1221.8 L564.7,1221.8 L565.1,1221.8 L565.4,1221.8 L565.8,1221.8 L566.2,1221.8 L566.5,1221.8 L566.9,1221.8 L567.3,1221.8 L567.6,1221.8 L568,1221.8 L568.4,1221.8 L568.7,1221.8 L569.1,1221.8 L569.5,1221.8 L569.8,1221.8 L570.2,1221.8 L570.6,1221.8 L570.9,1221.8 L571.3,1221.8 L571.7,1221.8 L572,1221.8 L572.4,1221.8 L572.8,1221.8 L573.1,1221.8 L573.5,1221.8 L573.9,1221.8 L574.2,1221.8 L574.6,1221.8 L575,1221.8 L575.3,1221.8 L575.7,1221.8 L576.1,1221.8 L576.4,1221.8 L576.8,1221.8 L577.2,1221.8 L577.5,1221.8 L577.9,1221.8 L578.3,1221.8 L578.6,1221.8 L579,1221.8 L579.4,1221.8 L579.7,1221.8 L580.1,1221.8 L580.5,1221.8 L580.8,1221.8 L581.2,1221.8 L581.6,1221.8 L581.9,1221.8 L582.3,1221.8 L582.7,1221.8 L583,1221.8 L583.4,1221.8 L583.8,1221.8 L584.1,1221.8 L584.5,1221.8 L584.9,1221.8 L585.2,1221.8 L585.6,1221.8 L586,1221.8 L586.3,1221.8 L586.7,1221.8 L587,1221.8 L587.4,1221.8 L587.8,1221.8 L588.1,1221.8 L588.5,1221.8 L588.9,1221.8 L589.2,1221.8 L589.6,1221.8 L590,1221.8 L590.3,1221.8 L590.7,1221.8 L591.1,1221.8 L591.4,1221.8 L591.8,1221.8 L592.2,1221.8 L592.5,1221.8 L592.9,1221.8 L593.3,1221.8 L593.6,1221.8 L594,1221.8 L594.4,1221.8 L594.7,1221.8 L595.1,1221.8 L595.5,1221.8 L595.8,1221.8 L596.2,1221.8 L596.6,1221.8 L596.9,1221.8 L597.3,1221.8 L597.7,1221.8 L598,1221.8 L598.4,1221.8 L598.8,1221.8 L599.1,1221.8 L599.5,1221.8 L599.9,1221.8 L600.2,1221.8 L600.6,1221.8 L601,1221.8 L601.3,1221.8 L601.7,1221.8 L602.1,1221.8 L602.4,1221.8 L602.8,1221.8 L603.2,1221.8 L603.5,1221.8 L603.9,1221.8 L604.3,1221.8 L604.6,1221.8 L605,1221.8 L605.4,1221.8 L605.7,1221.8 L606.1,1221.8 L606.5,1221.8 L606.8,1221.8 L607.2,1221.8 L607.6,1221.8 L607.9,1221.8 L608.3,1221.8 L608.7,1221.8 L609,1221.8 L609.4,1221.8 L609.8,1221.8 L610.1,1221.8 L610.5,1221.8 L610.9,1221.8 L611.2,1221.8 L611.6,1221.8 L612,1221.8 L612.3,1221.8 L612.7,1221.8 L613.1,1221.8 L613.4,1221.8 L613.8,1221.8 L614.2,1221.8 L614.5,1221.8 L614.9,1221.8 L615.3,1221.8 L615.6,1221.8 L616,1221.8 L616.4,1221.8 L616.7,1221.8 L617.1,1221.8 L617.5,1221.8 L617.8,1221.8 L618.2,1221.8 L618.6,1221.8 L618.9,1221.8 L619.3,1221.8 L619.7,1221.8 L620,1221.8 L620.4,1221.8 L620.8,1221.8 L621.1,1221.8 L621.5,1221.8 L621.8,1221.8 L622.2,1221.8 L622.6,1221.8 L622.9,1221.8 L623.3,1221.8 L623.7,1221.8 L624,1221.8 L624.4,1221.8 L624.8,1221.8 L625.1,1221.8 L625.5,1221.8 L625.9,1221.8 L626.2,1221.8 L626.6,1221.8 L627,1221.8 L627.3,1221.8 L627.7,1221.8 L628.1,1221.8 L628.4,1221.8 L628.8,1221.8 L629.2,1221.8 L629.5,1221.8 L629.9,1221.8 L630.3,1221.8 L630.6,1221.8 L631,1221.8 L631.4,1221.8 L631.7,1221.8 L632.1,1221.8 L632.5,1221.8 L632.8,1221.8 L633.2,1221.8 L633.6,1221.8 L633.9,1221.8 L634.3,1221.8 L634.7,1221.8 L635,1221.8 L635.4,1221.8 L635.8,1221.8 L636.1,1221.8 L636.5,1221.8 L636.9,1221.8 L637.2,1221.8 L637.6,1221.8 L638,1221.8 L638.3,1221.8 L638.7,1221.8 L639.1,1221.8 L639.4,1221.8 L639.8,1221.8 L640.2,1221.8 L640.5,1221.8 L640.9,1221.8 L641.3,1221.8 L641.6,1221.8 L642,1221.8 L642.4,1221.8 L642.7,1221.8 L643.1,1221.8 L643.5,1221.8 L643.8,1221.8 L644.2,1221.8 L644.6,1221.8 L644.9,1221.8 L645.3,1221.8 L645.7,1221.8 L646,1221.8 L646.4,1221.8 L646.8,1221.8 L647.1,1221.8 L647.5,1221.8 L647.9,1221.8 L648.2,1221.8 L648.6,1221.8 L649,1221.8 L649.3,1221.8 L649.7,1221.8 L650.1,1221.8 L650.4,1221.8 L650.8,1221.8 L651.2,1221.8 L651.5,1221.8 L651.9,1221.8 L652.3,1221.8 L652.6,1221.8 L653,1221.8 L653.4,1221.8 L653.7,1221.8 L654.1,1221.8 L654.5,1221.8 L654.8,1221.8 L655.2,1221.8 L655.5,1221.8 L655.9,1221.8 L656.3,1221.8 L656.6,1221.8 L657,1221.8 L657.4,1221.8 L657.7,1221.8 L658.1,1221.8 L658.5,1221.8 L658.8,1221.8 L659.2,1221.8 L659.6,1221.8 L659.9,1221.8 L660.3,1221.8 L660.7,1221.8 L661,1221.8 L661.4,1221.8 L661.8,1221.8 L662.1,1221.8 L662.5,1221.8 L662.9,1221.8 L663.2,1221.8 L663.6,1221.8 L664,1221.8 L664.3,1221.8 L664.7,1221.8 L665.1,1221.8 L665.4,1221.8 L665.8,1221.8 L666.2,1221.8 L666.5,1221.8 L666.9,1221.8 L667.3,1221.8 L667.6,1221.8 L668,1221.8 L668.4,1221.8 L668.7,1221.8 L669.1,1221.8 L669.5,1221.8 L669.8,1221.8 L670.2,1221.8 L670.6,1221.8 L670.9,1221.8 L671.3,1221.8 L671.7,1221.8 L672,1221.8 L672.4,1221.8 L672.8,1221.8 L673.1,1221.8 L673.5,1221.8 L673.9,1221.8 L674.2,1221.8 L674.6,1221.8 L675,1221.8 L675.3,1221.8 L675.7,1221.8 L676.1,1221.8 L676.4,1221.8 L676.8,1221.8 L677.2,1221.8 L677.5,1221.8 L677.9,1221.8 L678.3,1221.8 L678.6,1221.8 L679,1221.8 L679.4,1221.8 L679.7,1221.8 L680.1,1221.8 L680.5,1221.8 L680.8,1221.8 L681.2,1221.8 L681.6,1221.8 L681.9,1221.8 L682.3,1221.8 L682.7,1221.8 L683,1221.8 L683.4,1221.8 L683.8,1221.8 L684.1,1221.8 L684.5,1221.8 L684.9,1221.8 L685.2,1221.8 L685.6,1221.8 L686,1221.8 L686.3,1221.8 L686.7,1221.8 L687.1,1221.8 L687.4,1221.8 L687.8,1221.8 L688.2,1221.8 L688.5,1221.8 L688.9,1221.8 L689.3,1221.8 L689.6,1221.8 L690,1221.8 L690.3,1221.8 L690.7,1221.8 L691.1,1221.8 L691.4,1221.8 L691.8,1221.8 L692.2,1221.8 L692.5,1221.8 L692.9,1221.8 L693.3,1221.8 L693.6,1221.8 L694,1221.8 L694.4,1221.8 L694.7,1221.8 L695.1,1221.8 L695.5,1221.8 L695.8,1221.8 L696.2,1221.8 L696.6,1221.8 L696.9,1221.8 L697.3,1221.8 L697.7,1221.8 L698,1221.8 L698.4,1221.8 L698.8,1221.8 L699.1,1221.8 L699.5,1221.8 L699.9,1221.8 L700.2,1221.8 L700.6,1221.8 L701,1221.8 L701.3,1221.8 L701.7,1221.8 L702.1,1221.8 L702.4,1221.8 L702.8,1221.8 L703.2,1221.8 L703.5,1221.8 L703.9,1221.8 L704.3,1221.8 L704.6,1221.8 L705,1221.8 L705.4,1221.8 L705.7,1221.8 L706.1,1221.8 L706.5,1221.8 L706.8,1221.8 L707.2,1221.8" fill="none" stroke="#d9534f" stroke-width="4.0" stroke-linejoin="round" stroke-linecap="butt" /></g>
<rect x="120.8" y="1108.7" width="586.1" height="123.1" fill="none" stroke="#000" stroke-width="2.1"/>
<path d="M120.8,1221.8 l-9.4,0" stroke="#000" stroke-width="2.1" fill="none"/>
<text x="102.9" y="1232.9" font-size="26.4" text-anchor="end" fill="#000" >0.00</text>
<path d="M120.8,1157.6 l-9.4,0" stroke="#000" stroke-width="2.1" fill="none"/>
<text x="102.9" y="1168.7" font-size="26.4" text-anchor="end" fill="#000" >0.25</text>
<path d="M267.3,1231.8 l0,8.9" stroke="#000" stroke-width="2.1" fill="none"/>
<text x="267.3" y="1269.5" font-size="26.4" text-anchor="middle" fill="#000" >5</text>
<path d="M413.9,1231.8 l0,8.9" stroke="#000" stroke-width="2.1" fill="none"/>
<text x="413.9" y="1269.5" font-size="26.4" text-anchor="middle" fill="#000" >10</text>
<path d="M560.4,1231.8 l0,8.9" stroke="#000" stroke-width="2.1" fill="none"/>
<text x="560.4" y="1269.5" font-size="26.4" text-anchor="middle" fill="#000" >15</text>
<path d="M706.9,1231.8 l0,8.9" stroke="#000" stroke-width="2.1" fill="none"/>
<text x="706.9" y="1269.5" font-size="26.4" text-anchor="middle" fill="#000" >20</text>
<text transform="translate(23.8,1171.8) rotate(-90)" font-size="26.4" text-anchor="middle"><tspan font-style="italic">B</tspan><tspan dx="4.49">[</tspan><tspan font-style="italic">Kg</tspan>/<tspan font-style="italic">m</tspan><tspan font-size="18.48" dy="-9.5">2</tspan><tspan dy="9.5">]</tspan></text>
<text x="149.5" y="1131.6" font-size="26.2" text-anchor="start" fill="#000" >Collapse</text>
<clipPath id="c8"><rect x="736.2" y="516.7" width="586.1" height="123.1"/></clipPath>
<g clip-path="url(#c8)"><path d="M731.8,621.6 L732.1,621.5 L732.4,621.5 L732.6,621.4 L732.9,621.2 L733.2,621.1 L733.5,620.9 L733.8,620.6 L734,620.4 L734.3,620 L734.6,619.4 L734.9,618.6 L735.1,617.7 L735.4,616.9 L735.7,616 L736,615.1 L736.3,614.1 L736.5,612.9 L736.8,611.4 L737.1,609.1 L737.4,605.9 L737.7,602 L737.9,597.7 L738.2,593.2 L738.5,588.9 L738.8,584.4 L739,579.5 L739.3,574.5 L739.6,569.8 L739.9,565.6 L740.2,561.5 L740.4,557.8 L740.7,555.1 L741,553.1 L741.3,551.4 L741.5,550.2 L741.8,549.5 L742.1,549.3 L742.4,549.1 L742.7,549 L742.9,548.9 L743.4,549.1 L743.8,549.5 L744.3,550.1 L744.8,550.9 L745.2,551.8 L745.7,553 L746.1,554.7 L746.6,556.8 L747,559 L747.5,561.4 L747.9,564.3 L748.4,567.3 L748.8,570.7 L749.3,574.6 L749.8,578.8 L750.2,583 L750.7,587 L751.1,590.6 L751.6,594 L752,597.2 L752.5,600.3 L752.9,603.1 L753.4,605.8 L753.8,608.3 L754.3,610.5 L754.8,612.2 L755.2,613.7 L755.7,614.9 L756.1,616.1 L756.6,617.1 L757,618 L757.5,618.9 L757.9,619.7 L758.4,620.2 L758.8,620.6 L759.3,620.9 L759.7,621.2 L760.2,621.4 L760.7,621.5 L761.1,621.6 L761.4,621.5 L761.7,621.5 L761.9,621.4 L762.2,621.2 L762.5,621.1 L762.8,620.9 L763.1,620.6 L763.3,620.4 L763.6,620 L763.9,619.4 L764.2,618.6 L764.5,617.7 L764.7,616.9 L765,616 L765.3,615.1 L765.6,614.1 L765.8,612.9 L766.1,611.4 L766.4,609.1 L766.7,605.9 L767,602 L767.2,597.7 L767.5,593.2 L767.8,588.9 L768.1,584.4 L768.3,579.5 L768.6,574.5 L768.9,569.8 L769.2,565.6 L769.5,561.5 L769.7,557.8 L770,555.1 L770.3,553.1 L770.6,551.4 L770.9,550.2 L771.1,549.5 L771.4,549.3 L771.7,549.1 L772,549 L772.2,548.9 L772.7,549.1 L773.2,549.5 L773.6,550.1 L774.1,550.9 L774.5,551.8 L775,553 L775.4,554.7 L775.9,556.8 L776.3,559 L776.8,561.4 L777.2,564.3 L777.7,567.3 L778.2,570.7 L778.6,574.6 L779.1,578.8 L779.5,583 L780,587 L780.4,590.6 L780.9,594 L781.3,597.2 L781.8,600.3 L782.2,603.1 L782.7,605.8 L783.1,608.3 L783.6,610.5 L784.1,612.2 L784.5,613.7 L785,614.9 L785.4,616.1 L785.9,617.1 L786.3,618 L786.8,618.9 L787.2,619.7 L787.7,620.2 L788.1,620.6 L788.6,620.9 L789.1,621.2 L789.5,621.4 L790,621.5 L790.4,621.6 L790.7,621.5 L791,621.5 L791.2,621.4 L791.5,621.2 L791.8,621.1 L792.1,620.9 L792.4,620.6 L792.6,620.4 L792.9,620 L793.2,619.4 L793.5,618.6 L793.8,617.7 L794,616.9 L794.3,616 L794.6,615.1 L794.9,614.1 L795.1,612.9 L795.4,611.4 L795.7,609.1 L796,605.9 L796.3,602 L796.5,597.7 L796.8,593.2 L797.1,588.9 L797.4,584.4 L797.7,579.5 L797.9,574.5 L798.2,569.8 L798.5,565.6 L798.8,561.5 L799,557.8 L799.3,555.1 L799.6,553.1 L799.9,551.4 L800.2,550.2 L800.4,549.5 L800.7,549.3 L801,549.1 L801.3,549 L801.6,548.9 L802,549.1 L802.5,549.5 L802.9,550.1 L803.4,550.9 L803.8,551.8 L804.3,553 L804.7,554.7 L805.2,556.8 L805.6,559 L806.1,561.4 L806.5,564.3 L807,567.3 L807.5,570.7 L807.9,574.6 L808.4,578.8 L808.8,583 L809.3,587 L809.7,590.6 L810.2,594 L810.6,597.2 L811.1,600.3 L811.5,603.1 L812,605.8 L812.5,608.3 L812.9,610.5 L813.4,612.2 L813.8,613.7 L814.3,614.9 L814.7,616.1 L815.2,617.1 L815.6,618 L816.1,618.9 L816.5,619.7 L817,620.2 L817.4,620.6 L817.9,620.9 L818.4,621.2 L818.8,621.4 L819.3,621.5 L819.7,621.6 L820,621.5 L820.3,621.5 L820.6,621.4 L820.8,621.2 L821.1,621.1 L821.4,620.9 L821.7,620.6 L821.9,620.4 L822.2,620 L822.5,619.4 L822.8,618.6 L823.1,617.7 L823.3,616.9 L823.6,616 L823.9,615.1 L824.2,614.1 L824.5,612.9 L824.7,611.4 L825,609.1 L825.3,605.9 L825.6,602 L825.8,597.7 L826.1,593.2 L826.4,588.9 L826.7,584.4 L827,579.5 L827.2,574.5 L827.5,569.8 L827.8,565.6 L828.1,561.5 L828.3,557.8 L828.6,555.1 L828.9,553.1 L829.2,551.4 L829.5,550.2 L829.7,549.5 L830,549.3 L830.3,549.1 L830.6,549 L830.9,548.9 L831.3,549.1 L831.8,549.5 L832.2,550.1 L832.7,550.9 L833.1,551.8 L833.6,553 L834,554.7 L834.5,556.8 L834.9,559 L835.4,561.4 L835.9,564.3 L836.3,567.3 L836.8,570.7 L837.2,574.6 L837.7,578.8 L838.1,583 L838.6,587 L839,590.6 L839.5,594 L839.9,597.2 L840.4,600.3 L840.8,603.1 L841.3,605.8 L841.8,608.3 L842.2,610.5 L842.7,612.2 L843.1,613.7 L843.6,614.9 L844,616.1 L844.5,617.1 L844.9,618 L845.4,618.9 L845.8,619.7 L846.3,620.2 L846.8,620.6 L847.2,620.9 L847.7,621.2 L848.1,621.4 L848.6,621.5 L849,621.6 L849.3,621.5 L849.6,621.5 L849.9,621.4 L850.1,621.2 L850.4,621.1 L850.7,620.9 L851,620.6 L851.3,620.4 L851.5,620 L851.8,619.4 L852.1,618.6 L852.4,617.7 L852.6,616.9 L852.9,616 L853.2,615.1 L853.5,614.1 L853.8,612.9 L854,611.4 L854.3,609.1 L854.6,605.9 L854.9,602 L855.1,597.7 L855.4,593.2 L855.7,588.9 L856,584.4 L856.3,579.5 L856.5,574.5 L856.8,569.8 L857.1,565.6 L857.4,561.5 L857.7,557.8 L857.9,555.1 L858.2,553.1 L858.5,551.4 L858.8,550.2 L859,549.5 L859.3,549.3 L859.6,549.1 L859.9,549 L860.2,548.9 L860.6,549.1 L861.1,549.5 L861.5,550.1 L862,550.9 L862.4,551.8 L862.9,553 L863.3,554.7 L863.8,556.8 L864.2,559 L864.7,561.4 L865.2,564.3 L865.6,567.3 L866.1,570.7 L866.5,574.6 L867,578.8 L867.4,583 L867.9,587 L868.3,590.6 L868.8,594 L869.2,597.2 L869.7,600.3 L870.2,603.1 L870.6,605.8 L871.1,608.3 L871.5,610.5 L872,612.2 L872.4,613.7 L872.9,614.9 L873.3,616.1 L873.8,617.1 L874.2,618 L874.7,618.9 L875.1,619.7 L875.6,620.2 L876.1,620.6 L876.5,620.9 L877,621.2 L877.4,621.4 L877.9,621.5 L878.3,621.6 L878.6,621.5 L878.9,621.5 L879.2,621.4 L879.4,621.2 L879.7,621.1 L880,620.9 L880.3,620.6 L880.6,620.4 L880.8,620 L881.1,619.4 L881.4,618.6 L881.7,617.7 L881.9,616.9 L882.2,616 L882.5,615.1 L882.8,614.1 L883.1,612.9 L883.3,611.4 L883.6,609.1 L883.9,605.9 L884.2,602 L884.5,597.7 L884.7,593.2 L885,588.9 L885.3,584.4 L885.6,579.5 L885.8,574.5 L886.1,569.8 L886.4,565.6 L886.7,561.5 L887,557.8 L887.2,555.1 L887.5,553.1 L887.8,551.4 L888.1,550.2 L888.4,549.5 L888.6,549.3 L888.9,549.1 L889.2,549 L889.5,548.9 L889.9,549.1 L890.4,549.5 L890.8,550.1 L891.3,550.9 L891.7,551.8 L892.2,553 L892.6,554.7 L893.1,556.8 L893.6,559 L894,561.4 L894.5,564.3 L894.9,567.3 L895.4,570.7 L895.8,574.6 L896.3,578.8 L896.7,583 L897.2,587 L897.6,590.6 L898.1,594 L898.5,597.2 L899,600.3 L899.5,603.1 L899.9,605.8 L900.4,608.3 L900.8,610.5 L901.3,612.2 L901.7,613.7 L902.2,614.9 L902.6,616.1 L903.1,617.1 L903.5,618 L904,618.9 L904.5,619.7 L904.9,620.2 L905.4,620.6 L905.8,620.9 L906.3,621.2 L906.7,621.4 L907.2,621.5 L907.6,621.6 L907.9,621.5 L908.2,621.5 L908.5,621.4 L908.7,621.2 L909,621.1 L909.3,620.9 L909.6,620.6 L909.9,620.4 L910.1,620 L910.4,619.4 L910.7,618.6 L911,617.7 L911.3,616.9 L911.5,616 L911.8,615.1 L912.1,614.1 L912.4,612.9 L912.6,611.4 L912.9,609.1 L913.2,605.9 L913.5,602 L913.8,597.7 L914,593.2 L914.3,588.9 L914.6,584.4 L914.9,579.5 L915.2,574.5 L915.4,569.8 L915.7,565.6 L916,561.5 L916.3,557.8 L916.5,555.1 L916.8,553.1 L917.1,551.4 L917.4,550.2 L917.7,549.5 L917.9,549.3 L918.2,549.1 L918.5,549 L918.8,548.9 L919.2,549.1 L919.7,549.5 L920.1,550.1 L920.6,550.9 L921,551.8 L921.5,553 L921.9,554.7 L922.4,556.8 L922.9,559 L923.3,561.4 L923.8,564.3 L924.2,567.3 L924.7,570.7 L925.1,574.6 L925.6,578.8 L926,583 L926.5,587 L926.9,590.6 L927.4,594 L927.9,597.2 L928.3,600.3 L928.8,603.1 L929.2,605.8 L929.7,608.3 L930.1,610.5 L930.6,612.2 L931,613.7 L931.5,614.9 L931.9,616.1 L932.4,617.1 L932.9,618 L933.3,618.9 L933.8,619.7 L934.2,620.2 L934.7,620.6 L935.1,620.9 L935.6,621.2 L936,621.4 L936.5,621.5 L936.9,621.6 L937.2,621.5 L937.5,621.5 L937.8,621.4 L938.1,621.2 L938.3,621.1 L938.6,620.9 L938.9,620.6 L939.2,620.4 L939.4,620 L939.7,619.4 L940,618.6 L940.3,617.7 L940.6,616.9 L940.8,616 L941.1,615.1 L941.4,614.1 L941.7,612.9 L942,611.4 L942.2,609.1 L942.5,605.9 L942.8,602 L943.1,597.7 L943.3,593.2 L943.6,588.9 L943.9,584.4 L944.2,579.5 L944.5,574.5 L944.7,569.8 L945,565.6 L945.3,561.5 L945.6,557.8 L945.8,555.1 L946.1,553.1 L946.4,551.4 L946.7,550.2 L947,549.5 L947.2,549.3 L947.5,549.1 L947.8,549 L948.1,548.9 L948.5,549.1 L949,549.5 L949.4,550.1 L949.9,550.9 L950.3,551.8 L950.8,553 L951.3,554.7 L951.7,556.8 L952.2,559 L952.6,561.4 L953.1,564.3 L953.5,567.3 L954,570.7 L954.4,574.6 L954.9,578.8 L955.3,583 L955.8,587 L956.3,590.6 L956.7,594 L957.2,597.2 L957.6,600.3 L958.1,603.1 L958.5,605.8 L959,608.3 L959.4,610.5 L959.9,612.2 L960.3,613.7 L960.8,614.9 L961.2,616.1 L961.7,617.1 L962.2,618 L962.6,618.9 L963.1,619.7 L963.5,620.2 L964,620.6 L964.4,620.9 L964.9,621.2 L965.3,621.4 L965.8,621.5 L966.2,621.6 L966.5,621.5 L966.8,621.5 L967.1,621.4 L967.4,621.2 L967.6,621.1 L967.9,620.9 L968.2,620.6 L968.5,620.4 L968.7,620 L969,619.4 L969.3,618.6 L969.6,617.7 L969.9,616.9 L970.1,616 L970.4,615.1 L970.7,614.1 L971,612.9 L971.3,611.4 L971.5,609.1 L971.8,605.9 L972.1,602 L972.4,597.7 L972.6,593.2 L972.9,588.9 L973.2,584.4 L973.5,579.5 L973.8,574.5 L974,569.8 L974.3,565.6 L974.6,561.5 L974.9,557.8 L975.2,555.1 L975.4,553.1 L975.7,551.4 L976,550.2 L976.3,549.5 L976.5,549.3 L976.8,549.1 L977.1,549 L977.4,548.9 L977.8,549.1 L978.3,549.5 L978.7,550.1 L979.2,550.9 L979.7,551.8 L980.1,553 L980.6,554.7 L981,556.8 L981.5,559 L981.9,561.4 L982.4,564.3 L982.8,567.3 L983.3,570.7 L983.7,574.6 L984.2,578.8 L984.6,583 L985.1,587 L985.6,590.6 L986,594 L986.5,597.2 L986.9,600.3 L987.4,603.1 L987.8,605.8 L988.3,608.3 L988.7,610.5 L989.2,612.2 L989.6,613.7 L990.1,614.9 L990.6,616.1 L991,617.1 L991.5,618 L991.9,618.9 L992.4,619.7 L992.8,620.2 L993.3,620.6 L993.7,620.9 L994.2,621.2 L994.6,621.4 L995.1,621.5 L995.5,621.6 L995.8,621.5 L996.1,621.5 L996.4,621.4 L996.7,621.2 L996.9,621.1 L997.2,620.9 L997.5,620.6 L997.8,620.4 L998.1,620 L998.3,619.4 L998.6,618.6 L998.9,617.7 L999.2,616.9 L999.4,616 L999.7,615.1 L1000,614.1 L1000.3,612.9 L1000.6,611.4 L1000.8,609.1 L1001.1,605.9 L1001.4,602 L1001.7,597.7 L1002,593.2 L1002.2,588.9 L1002.5,584.4 L1002.8,579.5 L1003.1,574.5 L1003.3,569.8 L1003.6,565.6 L1003.9,561.5 L1004.2,557.8 L1004.5,555.1 L1004.7,553.1 L1005,551.4 L1005.3,550.2 L1005.6,549.5 L1005.8,549.3 L1006.1,549.1 L1006.4,549 L1006.7,548.9 L1007.1,549.1 L1007.6,549.5 L1008,550.1 L1008.5,550.9 L1009,551.8 L1009.4,553 L1009.9,554.7 L1010.3,556.8 L1010.8,559 L1011.2,561.4 L1011.7,564.3 L1012.1,567.3 L1012.6,570.7 L1013,574.6 L1013.5,578.8 L1014,583 L1014.4,587 L1014.9,590.6 L1015.3,594 L1015.8,597.2 L1016.2,600.3 L1016.7,603.1 L1017.1,605.8 L1017.6,608.3 L1018,610.5 L1018.5,612.2 L1018.9,613.7 L1019.4,614.9 L1019.9,616.1 L1020.3,617.1 L1020.8,618 L1021.2,618.9 L1021.7,619.7 L1022.1,620.2 L1022.6,620.6 L1023,620.9 L1023.5,621.2 L1023.9,621.4 L1024.4,621.5 L1024.9,621.6 L1025.1,621.5 L1025.4,621.5 L1025.7,621.4 L1026,621.2 L1026.2,621.1 L1026.5,620.9 L1026.8,620.6 L1027.1,620.4 L1027.4,620 L1027.6,619.4 L1027.9,618.6 L1028.2,617.7 L1028.5,616.9 L1028.8,616 L1029,615.1 L1029.3,614.1 L1029.6,612.9 L1029.9,611.4 L1030.1,609.1 L1030.4,605.9 L1030.7,602 L1031,597.7 L1031.3,593.2 L1031.5,588.9 L1031.8,584.4 L1032.1,579.5 L1032.4,574.5 L1032.6,569.8 L1032.9,565.6 L1033.2,561.5 L1033.5,557.8 L1033.8,555.1 L1034,553.1 L1034.3,551.4 L1034.6,550.2 L1034.9,549.5 L1035.2,549.3 L1035.4,549.1 L1035.7,549 L1036,548.9 L1036.4,549.1 L1036.9,549.5 L1037.4,550.1 L1037.8,550.9 L1038.3,551.8 L1038.7,553 L1039.2,554.7 L1039.6,556.8 L1040.1,559 L1040.5,561.4 L1041,564.3 L1041.4,567.3 L1041.9,570.7 L1042.3,574.6 L1042.8,578.8 L1043.3,583 L1043.7,587 L1044.2,590.6 L1044.6,594 L1045.1,597.2 L1045.5,600.3 L1046,603.1 L1046.4,605.8 L1046.9,608.3 L1047.3,610.5 L1047.8,612.2 L1048.3,613.7 L1048.7,614.9 L1049.2,616.1 L1049.6,617.1 L1050.1,618 L1050.5,618.9 L1051,619.7 L1051.4,620.2 L1051.9,620.6 L1052.3,620.9 L1052.8,621.2 L1053.3,621.4 L1053.7,621.5 L1054.2,621.6 L1054.4,621.5 L1054.7,621.5 L1055,621.4 L1055.3,621.2 L1055.6,621.1 L1055.8,620.9 L1056.1,620.6 L1056.4,620.4 L1056.7,620 L1056.9,619.4 L1057.2,618.6 L1057.5,617.7 L1057.8,616.9 L1058.1,616 L1058.3,615.1 L1058.6,614.1 L1058.9,612.9 L1059.2,611.4 L1059.4,609.1 L1059.7,605.9 L1060,602 L1060.3,597.7 L1060.6,593.2 L1060.8,588.9 L1061.1,584.4 L1061.4,579.5 L1061.7,574.5 L1062,569.8 L1062.2,565.6 L1062.5,561.5 L1062.8,557.8 L1063.1,555.1 L1063.3,553.1 L1063.6,551.4 L1063.9,550.2 L1064.2,549.5 L1064.5,549.3 L1064.7,549.1 L1065,549 L1065.3,548.9 L1065.7,549.1 L1066.2,549.5 L1066.7,550.1 L1067.1,550.9 L1067.6,551.8 L1068,553 L1068.5,554.7 L1068.9,556.8 L1069.4,559 L1069.8,561.4 L1070.3,564.3 L1070.7,567.3 L1071.2,570.7 L1071.7,574.6 L1072.1,578.8 L1072.6,583 L1073,587 L1073.5,590.6 L1073.9,594 L1074.4,597.2 L1074.8,600.3 L1075.3,603.1 L1075.7,605.8 L1076.2,608.3 L1076.7,610.5 L1077.1,612.2 L1077.6,613.7 L1078,614.9 L1078.5,616.1 L1078.9,617.1 L1079.4,618 L1079.8,618.9 L1080.3,619.7 L1080.7,620.2 L1081.2,620.6 L1081.6,620.9 L1082.1,621.2 L1082.6,621.4 L1083,621.5 L1083.5,621.6 L1083.7,621.5 L1084,621.5 L1084.3,621.4 L1084.6,621.2 L1084.9,621.1 L1085.1,620.9 L1085.4,620.6 L1085.7,620.4 L1086,620 L1086.2,619.4 L1086.5,618.6 L1086.8,617.7 L1087.1,616.9 L1087.4,616 L1087.6,615.1 L1087.9,614.1 L1088.2,612.9 L1088.5,611.4 L1088.8,609.1 L1089,605.9 L1089.3,602 L1089.6,597.7 L1089.9,593.2 L1090.1,588.9 L1090.4,584.4 L1090.7,579.5 L1091,574.5 L1091.3,569.8 L1091.5,565.6 L1091.8,561.5 L1092.1,557.8 L1092.4,555.1 L1092.7,553.1 L1092.9,551.4 L1093.2,550.2 L1093.5,549.5 L1093.8,549.3 L1094,549.1 L1094.3,549 L1094.6,548.9 L1095.1,549.1 L1095.5,549.5 L1096,550.1 L1096.4,550.9 L1096.9,551.8 L1097.3,553 L1097.8,554.7 L1098.2,556.8 L1098.7,559 L1099.1,561.4 L1099.6,564.3 L1100.1,567.3 L1100.5,570.7 L1101,574.6 L1101.4,578.8 L1101.9,583 L1102.3,587 L1102.8,590.6 L1103.2,594 L1103.7,597.2 L1104.1,600.3 L1104.6,603.1 L1105,605.8 L1105.5,608.3 L1106,610.5 L1106.4,612.2 L1106.9,613.7 L1107.3,614.9 L1107.8,616.1 L1108.2,617.1 L1108.7,618 L1109.1,618.9 L1109.6,619.7 L1110,620.2 L1110.5,620.6 L1111,620.9 L1111.4,621.2 L1111.9,621.4 L1112.3,621.5 L1112.8,621.6 L1113,621.5 L1113.3,621.5 L1113.6,621.4 L1113.9,621.2 L1114.2,621.1 L1114.4,620.9 L1114.7,620.6 L1115,620.4 L1115.3,620 L1115.6,619.4 L1115.8,618.6 L1116.1,617.7 L1116.4,616.9 L1116.7,616 L1116.9,615.1 L1117.2,614.1 L1117.5,612.9 L1117.8,611.4 L1118.1,609.1 L1118.3,605.9 L1118.6,602 L1118.9,597.7 L1119.2,593.2 L1119.5,588.9 L1119.7,584.4 L1120,579.5 L1120.3,574.5 L1120.6,569.8 L1120.8,565.6 L1121.1,561.5 L1121.4,557.8 L1121.7,555.1 L1122,553.1 L1122.2,551.4 L1122.5,550.2 L1122.8,549.5 L1123.1,549.3 L1123.3,549.1 L1123.6,549 L1123.9,548.9 L1124.4,549.1 L1124.8,549.5 L1125.3,550.1 L1125.7,550.9 L1126.2,551.8 L1126.6,553 L1127.1,554.7 L1127.5,556.8 L1128,559 L1128.4,561.4 L1128.9,564.3 L1129.4,567.3 L1129.8,570.7 L1130.3,574.6 L1130.7,578.8 L1131.2,583 L1131.6,587 L1132.1,590.6 L1132.5,594 L1133,597.2 L1133.4,600.3 L1133.9,603.1 L1134.4,605.8 L1134.8,608.3 L1135.3,610.5 L1135.7,612.2 L1136.2,613.7 L1136.6,614.9 L1137.1,616.1 L1137.5,617.1 L1138,618 L1138.4,618.9 L1138.9,619.7 L1139.3,620.2 L1139.8,620.6 L1140.3,620.9 L1140.7,621.2 L1141.2,621.4 L1141.6,621.5 L1142.1,621.6 L1142.4,621.5 L1142.6,621.5 L1142.9,621.4 L1143.2,621.2 L1143.5,621.1 L1143.7,620.9 L1144,620.6 L1144.3,620.4 L1144.6,620 L1144.9,619.4 L1145.1,618.6 L1145.4,617.7 L1145.7,616.9 L1146,616 L1146.3,615.1 L1146.5,614.1 L1146.8,612.9 L1147.1,611.4 L1147.4,609.1 L1147.6,605.9 L1147.9,602 L1148.2,597.7 L1148.5,593.2 L1148.8,588.9 L1149,584.4 L1149.3,579.5 L1149.6,574.5 L1149.9,569.8 L1150.1,565.6 L1150.4,561.5 L1150.7,557.8 L1151,555.1 L1151.3,553.1 L1151.5,551.4 L1151.8,550.2 L1152.1,549.5 L1152.4,549.3 L1152.7,549.1 L1152.9,549 L1153.2,548.9 L1153.7,549.1 L1154.1,549.5 L1154.6,550.1 L1155,550.9 L1155.5,551.8 L1155.9,553 L1156.4,554.7 L1156.8,556.8 L1157.3,559 L1157.8,561.4 L1158.2,564.3 L1158.7,567.3 L1159.1,570.7 L1159.6,574.6 L1160,578.8 L1160.5,583 L1160.9,587 L1161.4,590.6 L1161.8,594 L1162.3,597.2 L1162.7,600.3 L1163.2,603.1 L1163.7,605.8 L1164.1,608.3 L1164.6,610.5 L1165,612.2 L1165.5,613.7 L1165.9,614.9 L1166.4,616.1 L1166.8,617.1 L1167.3,618 L1167.7,618.9 L1168.2,619.7 L1168.7,620.2 L1169.1,620.6 L1169.6,620.9 L1170,621.2 L1170.5,621.4 L1170.9,621.5 L1171.4,621.6 L1171.7,621.5 L1171.9,621.5 L1172.2,621.4 L1172.5,621.2 L1172.8,621.1 L1173,620.9 L1173.3,620.6 L1173.6,620.4 L1173.9,620 L1174.2,619.4 L1174.4,618.6 L1174.7,617.7 L1175,616.9 L1175.3,616 L1175.6,615.1 L1175.8,614.1 L1176.1,612.9 L1176.4,611.4 L1176.7,609.1 L1176.9,605.9 L1177.2,602 L1177.5,597.7 L1177.8,593.2 L1178.1,588.9 L1178.3,584.4 L1178.6,579.5 L1178.9,574.5 L1179.2,569.8 L1179.5,565.6 L1179.7,561.5 L1180,557.8 L1180.3,555.1 L1180.6,553.1 L1180.8,551.4 L1181.1,550.2 L1181.4,549.5 L1181.7,549.3 L1182,549.1 L1182.2,549 L1182.5,548.9 L1183,549.1 L1183.4,549.5 L1183.9,550.1 L1184.3,550.9 L1184.8,551.8 L1185.2,553 L1185.7,554.7 L1186.1,556.8 L1186.6,559 L1187.1,561.4 L1187.5,564.3 L1188,567.3 L1188.4,570.7 L1188.9,574.6 L1189.3,578.8 L1189.8,583 L1190.2,587 L1190.7,590.6 L1191.1,594 L1191.6,597.2 L1192.1,600.3 L1192.5,603.1 L1193,605.8 L1193.4,608.3 L1193.9,610.5 L1194.3,612.2 L1194.8,613.7 L1195.2,614.9 L1195.7,616.1 L1196.1,617.1 L1196.6,618 L1197.1,618.9 L1197.5,619.7 L1198,620.2 L1198.4,620.6 L1198.9,620.9 L1199.3,621.2 L1199.8,621.4 L1200.2,621.5 L1200.7,621.6 L1201,621.5 L1201.2,621.5 L1201.5,621.4 L1201.8,621.2 L1202.1,621.1 L1202.4,620.9 L1202.6,620.6 L1202.9,620.4 L1203.2,620 L1203.5,619.4 L1203.7,618.6 L1204,617.7 L1204.3,616.9 L1204.6,616 L1204.9,615.1 L1205.1,614.1 L1205.4,612.9 L1205.7,611.4 L1206,609.1 L1206.3,605.9 L1206.5,602 L1206.8,597.7 L1207.1,593.2 L1207.4,588.9 L1207.6,584.4 L1207.9,579.5 L1208.2,574.5 L1208.5,569.8 L1208.8,565.6 L1209,561.5 L1209.3,557.8 L1209.6,555.1 L1209.9,553.1 L1210.1,551.4 L1210.4,550.2 L1210.7,549.5 L1211,549.3 L1211.3,549.1 L1211.5,549 L1211.8,548.9 L1212.3,549.1 L1212.7,549.5 L1213.2,550.1 L1213.6,550.9 L1214.1,551.8 L1214.5,553 L1215,554.7 L1215.5,556.8 L1215.9,559 L1216.4,561.4 L1216.8,564.3 L1217.3,567.3 L1217.7,570.7 L1218.2,574.6 L1218.6,578.8 L1219.1,583 L1219.5,587 L1220,590.6 L1220.5,594 L1220.9,597.2 L1221.4,600.3 L1221.8,603.1 L1222.3,605.8 L1222.7,608.3 L1223.2,610.5 L1223.6,612.2 L1224.1,613.7 L1224.5,614.9 L1225,616.1 L1225.4,617.1 L1225.9,618 L1226.4,618.9 L1226.8,619.7 L1227.3,620.2 L1227.7,620.6 L1228.2,620.9 L1228.6,621.2 L1229.1,621.4 L1229.5,621.5 L1230,621.6 L1230.3,621.5 L1230.5,621.5 L1230.8,621.4 L1231.1,621.2 L1231.4,621.1 L1231.7,620.9 L1231.9,620.6 L1232.2,620.4 L1232.5,620 L1232.8,619.4 L1233.1,618.6 L1233.3,617.7 L1233.6,616.9 L1233.9,616 L1234.2,615.1 L1234.4,614.1 L1234.7,612.9 L1235,611.4 L1235.3,609.1 L1235.6,605.9 L1235.8,602 L1236.1,597.7 L1236.4,593.2 L1236.7,588.9 L1236.9,584.4 L1237.2,579.5 L1237.5,574.5 L1237.8,569.8 L1238.1,565.6 L1238.3,561.5 L1238.6,557.8 L1238.9,555.1 L1239.2,553.1 L1239.5,551.4 L1239.7,550.2 L1240,549.5 L1240.3,549.3 L1240.6,549.1 L1240.8,549 L1241.1,548.9 L1241.6,549.1 L1242,549.5 L1242.5,550.1 L1242.9,550.9 L1243.4,551.8 L1243.9,553 L1244.3,554.7 L1244.8,556.8 L1245.2,559 L1245.7,561.4 L1246.1,564.3 L1246.6,567.3 L1247,570.7 L1247.5,574.6 L1247.9,578.8 L1248.4,583 L1248.8,587 L1249.3,590.6 L1249.8,594 L1250.2,597.2 L1250.7,600.3 L1251.1,603.1 L1251.6,605.8 L1252,608.3 L1252.5,610.5 L1252.9,612.2 L1253.4,613.7 L1253.8,614.9 L1254.3,616.1 L1254.8,617.1 L1255.2,618 L1255.7,618.9 L1256.1,619.7 L1256.6,620.2 L1257,620.6 L1257.5,620.9 L1257.9,621.2 L1258.4,621.4 L1258.8,621.5 L1259.3,621.6 L1259.6,621.5 L1259.9,621.5 L1260.1,621.4 L1260.4,621.2 L1260.7,621.1 L1261,620.9 L1261.2,620.6 L1261.5,620.4 L1261.8,620 L1262.1,619.4 L1262.4,618.6 L1262.6,617.7 L1262.9,616.9 L1263.2,616 L1263.5,615.1 L1263.7,614.1 L1264,612.9 L1264.3,611.4 L1264.6,609.1 L1264.9,605.9 L1265.1,602 L1265.4,597.7 L1265.7,593.2 L1266,588.9 L1266.3,584.4 L1266.5,579.5 L1266.8,574.5 L1267.1,569.8 L1267.4,565.6 L1267.6,561.5 L1267.9,557.8 L1268.2,555.1 L1268.5,553.1 L1268.8,551.4 L1269,550.2 L1269.3,549.5 L1269.6,549.3 L1269.9,549.1 L1270.2,549 L1270.4,548.9 L1270.9,549.1 L1271.3,549.5 L1271.8,550.1 L1272.2,550.9 L1272.7,551.8 L1273.2,553 L1273.6,554.7 L1274.1,556.8 L1274.5,559 L1275,561.4 L1275.4,564.3 L1275.9,567.3 L1276.3,570.7 L1276.8,574.6 L1277.2,578.8 L1277.7,583 L1278.2,587 L1278.6,590.6 L1279.1,594 L1279.5,597.2 L1280,600.3 L1280.4,603.1 L1280.9,605.8 L1281.3,608.3 L1281.8,610.5 L1282.2,612.2 L1282.7,613.7 L1283.1,614.9 L1283.6,616.1 L1284.1,617.1 L1284.5,618 L1285,618.9 L1285.4,619.7 L1285.9,620.2 L1286.3,620.6 L1286.8,620.9 L1287.2,621.2 L1287.7,621.4 L1288.1,621.5 L1288.6,621.6 L1288.9,621.5 L1289.2,621.5 L1289.4,621.4 L1289.7,621.2 L1290,621.1 L1290.3,620.9 L1290.5,620.6 L1290.8,620.4 L1291.1,620 L1291.4,619.4 L1291.7,618.6 L1291.9,617.7 L1292.2,616.9 L1292.5,616 L1292.8,615.1 L1293.1,614.1 L1293.3,612.9 L1293.6,611.4 L1293.9,609.1 L1294.2,605.9 L1294.4,602 L1294.7,597.7 L1295,593.2 L1295.3,588.9 L1295.6,584.4 L1295.8,579.5 L1296.1,574.5 L1296.4,569.8 L1296.7,565.6 L1297,561.5 L1297.2,557.8 L1297.5,555.1 L1297.8,553.1 L1298.1,551.4 L1298.3,550.2 L1298.6,549.5 L1298.9,549.3 L1299.2,549.1 L1299.5,549 L1299.7,548.9 L1300.2,549.1 L1300.6,549.5 L1301.1,550.1 L1301.6,550.9 L1302,551.8 L1302.5,553 L1302.9,554.7 L1303.4,556.8 L1303.8,559 L1304.3,561.4 L1304.7,564.3 L1305.2,567.3 L1305.6,570.7 L1306.1,574.6 L1306.5,578.8 L1307,583 L1307.5,587 L1307.9,590.6 L1308.4,594 L1308.8,597.2 L1309.3,600.3 L1309.7,603.1 L1310.2,605.8 L1310.6,608.3 L1311.1,610.5 L1311.5,612.2 L1312,613.7 L1312.5,614.9 L1312.9,616.1 L1313.4,617.1 L1313.8,618 L1314.3,618.9 L1314.7,619.7 L1315.2,620.2 L1315.6,620.6 L1316.1,620.9 L1316.5,621.2 L1317,621.4 L1317.5,621.5 L1317.9,621.6 L1318.2,621.5 L1318.5,621.5 L1318.7,621.4 L1319,621.2 L1319.3,621.1 L1319.6,620.9 L1319.9,620.6 L1320.1,620.4 L1320.4,620 L1320.7,619.4 L1321,618.6 L1321.2,617.7 L1321.5,616.9 L1321.8,616 L1322.1,615.1 L1322.4,614.1 L1322.6,612.9 L1322.9,611.4 L1323.2,609.1 L1323.5,605.9 L1323.8,602 L1324,597.7 L1324.3,593.2 L1324.6,588.9 L1324.9,584.4 L1325.1,579.5 L1325.4,574.5 L1325.7,569.8 L1326,565.6 L1326.3,561.5 L1326.5,557.8 L1326.8,555.1 L1327.1,553.1 L1327.4,551.4 L1327.6,550.2 L1327.9,549.5 L1328.2,549.3 L1328.5,549.1 L1328.8,549 L1329,548.9 L1329.5,549.1 L1329.9,549.5 L1330.4,550.1 L1330.9,550.9 L1331.3,551.8 L1331.8,553 L1332.2,554.7 L1332.7,556.8 L1333.1,559 L1333.6,561.4 L1334,564.3 L1334.5,567.3 L1334.9,570.7 L1335.4,574.6 L1335.9,578.8 L1336.3,583 L1336.8,587 L1337.2,590.6 L1337.7,594 L1338.1,597.2 L1338.6,600.3 L1339,603.1 L1339.5,605.8 L1339.9,608.3 L1340.4,610.5 L1340.9,612.2 L1341.3,613.7 L1341.8,614.9 L1342.2,616.1 L1342.7,617.1 L1343.1,618 L1343.6,618.9 L1344,619.7 L1344.5,620.2 L1344.9,620.6 L1345.4,620.9 L1345.8,621.2 L1346.3,621.4 L1346.8,621.5 L1347.2,621.6" fill="none" stroke="#3b5998" stroke-width="4.0" stroke-linejoin="round" stroke-linecap="butt" /></g>
<rect x="736.2" y="516.7" width="586.1" height="123.1" fill="none" stroke="#000" stroke-width="2.1"/>
<path d="M736.2,634.7 l-9.4,0" stroke="#000" stroke-width="2.1" fill="none"/>
<path d="M736.2,560 l-9.4,0" stroke="#000" stroke-width="2.1" fill="none"/>
<path d="M882.7,639.8 l0,8.9" stroke="#000" stroke-width="2.1" fill="none"/>
<path d="M1029.2,639.8 l0,8.9" stroke="#000" stroke-width="2.1" fill="none"/>
<path d="M1175.8,639.8 l0,8.9" stroke="#000" stroke-width="2.1" fill="none"/>
<path d="M1322.3,639.8 l0,8.9" stroke="#000" stroke-width="2.1" fill="none"/>
<text x="765" y="538.1" font-size="26.2" text-anchor="start" fill="#000" >1<tspan dx="5.32">:</tspan><tspan dx="4.98">1</tspan> Periodic</text>
<clipPath id="c9"><rect x="736.2" y="664.7" width="586.1" height="123.1"/></clipPath>
<g clip-path="url(#c9)"><path d="M729.2,751.9 L729.4,751.9 L729.6,751.7 L729.8,751.4 L730.1,751.1 L730.3,750.7 L730.5,750.2 L730.8,749.7 L731,748.9 L731.2,748 L731.4,746.9 L731.7,745.8 L731.9,744.5 L732.1,743.3 L732.3,741.9 L732.6,740.4 L732.8,738.8 L733,737 L733.3,735.1 L733.5,733.1 L733.7,730.9 L733.9,728.4 L734.2,725.4 L734.4,722.2 L734.6,719 L734.8,715.8 L735.1,713 L735.3,710 L735.5,707 L735.8,704.2 L736,701.9 L736.2,700.4 L736.4,699.3 L736.7,698.4 L736.9,697.6 L737.1,697 L737.3,696.6 L737.6,696.4 L737.8,696.2 L738,696.1 L738.3,696 L739,696.3 L739.7,696.7 L740.4,697.1 L741.2,697.6 L741.9,698.2 L742.6,698.7 L743.4,699.3 L744.1,699.9 L744.6,700.2 L745.1,701 L745.5,702.1 L746,703.6 L746.5,705.3 L746.9,707.5 L747.4,711.2 L747.9,715.4 L748.4,719.1 L748.8,722.4 L749.3,725.5 L749.8,728.5 L750.3,731.5 L750.7,734.6 L751.2,737.8 L751.7,741.1 L752.1,744.4 L752.6,747.6 L753.1,750.7 L753.6,753.5 L754,756.3 L754.5,759 L755,761.5 L755.5,763.6 L755.9,765.2 L756.4,766.4 L756.9,767.6 L757.3,768.6 L757.8,769.5 L758.3,770.3 L758.8,771 L759.2,771.6 L759.7,772.1 L760.2,772.5 L760.7,772.9 L761.1,773.2 L761.6,773.4 L762.1,773.6 L762.5,773.7 L763,773.7 L763.4,773.7 L763.8,773.5 L764.2,773.3 L764.6,773.1 L765,772.8 L765.4,772.3 L765.8,771.8 L766.1,771.2 L766.5,770.4 L766.9,769.7 L767.3,768.8 L767.7,767.7 L768.1,766.4 L768.5,765 L768.9,763.5 L769.3,761.9 L769.7,760.3 L770.1,758.6 L770.5,756.9 L770.9,754.9 L771.2,752.8 L771.6,750.5 L772,748.2 L772.4,745.8 L772.8,743.5 L773.2,741.3 L773.6,739.2 L774,737.2 L774.4,735.3 L774.8,733.3 L775.2,731.4 L775.6,729.6 L775.9,727.9 L776.3,726.3 L776.7,724.9 L777.1,723.5 L777.5,722.3 L777.9,721.1 L778.3,720 L778.7,719.1 L778.9,719.7 L779.1,720.4 L779.4,721.2 L779.6,722 L779.8,722.8 L780,723.6 L780.3,724.5 L780.5,725.3 L780.7,726.2 L780.9,727.2 L781.2,728.1 L781.4,729.1 L781.6,730.2 L781.8,731.4 L782.1,732.6 L782.3,733.8 L782.5,735 L782.7,736.2 L783,737.4 L783.2,738.6 L783.4,739.7 L783.6,740.8 L783.9,741.8 L784.1,742.9 L784.3,743.9 L784.5,744.9 L784.8,745.9 L785,746.8 L785.2,747.7 L785.4,748.4 L785.7,749.1 L785.9,749.7 L786.1,750.3 L786.3,750.8 L786.6,751.2 L786.8,751.4 L787,751.6 L787.2,751.8 L787.5,751.9 L787.7,751.9 L787.9,751.9 L788.1,751.7 L788.4,751.4 L788.6,751.1 L788.8,750.7 L789.1,750.2 L789.3,749.7 L789.5,748.9 L789.8,748 L790,746.9 L790.2,745.8 L790.4,744.5 L790.7,743.3 L790.9,741.9 L791.1,740.4 L791.4,738.8 L791.6,737 L791.8,735.1 L792,733.1 L792.3,730.9 L792.5,728.4 L792.7,725.4 L793,722.2 L793.2,719 L793.4,715.8 L793.7,713 L793.9,710 L794.1,707 L794.3,704.2 L794.6,701.9 L794.8,700.4 L795,699.3 L795.3,698.4 L795.5,697.6 L795.7,697 L795.9,696.6 L796.2,696.4 L796.4,696.2 L796.6,696.1 L796.9,696 L797.6,696.3 L798.3,696.7 L799.1,697.1 L799.8,697.6 L800.5,698.2 L801.3,698.7 L802,699.3 L802.7,699.9 L803.2,700.2 L803.7,701 L804.1,702.1 L804.6,703.6 L805.1,705.3 L805.6,707.5 L806,711.2 L806.5,715.4 L807,719.1 L807.4,722.4 L807.9,725.5 L808.4,728.5 L808.9,731.5 L809.3,734.6 L809.8,737.8 L810.3,741.1 L810.8,744.4 L811.2,747.6 L811.7,750.7 L812.2,753.5 L812.6,756.3 L813.1,759 L813.6,761.5 L814.1,763.6 L814.5,765.2 L815,766.4 L815.5,767.6 L816,768.6 L816.4,769.5 L816.9,770.3 L817.4,771 L817.8,771.6 L818.3,772.1 L818.8,772.5 L819.3,772.9 L819.7,773.2 L820.2,773.4 L820.7,773.6 L821.2,773.7 L821.6,773.7 L822,773.7 L822.4,773.5 L822.8,773.3 L823.2,773.1 L823.6,772.8 L824,772.3 L824.4,771.8 L824.8,771.2 L825.2,770.4 L825.5,769.7 L825.9,768.8 L826.3,767.7 L826.7,766.4 L827.1,765 L827.5,763.5 L827.9,761.9 L828.3,760.3 L828.7,758.6 L829.1,756.9 L829.5,754.9 L829.9,752.8 L830.2,750.5 L830.6,748.2 L831,745.8 L831.4,743.5 L831.8,741.3 L832.2,739.2 L832.6,737.2 L833,735.3 L833.4,733.3 L833.8,731.4 L834.2,729.6 L834.6,727.9 L835,726.3 L835.3,724.9 L835.7,723.5 L836.1,722.3 L836.5,721.1 L836.9,720 L837.3,719.1 L837.5,719.7 L837.8,720.4 L838,721.2 L838.2,722 L838.4,722.8 L838.7,723.6 L838.9,724.5 L839.1,725.3 L839.3,726.2 L839.6,727.2 L839.8,728.1 L840,729.1 L840.2,730.2 L840.5,731.4 L840.7,732.6 L840.9,733.8 L841.1,735 L841.4,736.2 L841.6,737.4 L841.8,738.6 L842,739.7 L842.3,740.8 L842.5,741.8 L842.7,742.9 L842.9,743.9 L843.2,744.9 L843.4,745.9 L843.6,746.8 L843.8,747.7 L844,748.4 L844.3,749.1 L844.5,749.7 L844.7,750.3 L844.9,750.8 L845.2,751.2 L845.4,751.4 L845.6,751.6 L845.8,751.8 L846.1,751.9 L846.3,751.9 L846.5,751.9 L846.8,751.7 L847,751.4 L847.2,751.1 L847.4,750.7 L847.7,750.2 L847.9,749.7 L848.1,748.9 L848.4,748 L848.6,746.9 L848.8,745.8 L849.1,744.5 L849.3,743.3 L849.5,741.9 L849.7,740.4 L850,738.8 L850.2,737 L850.4,735.1 L850.7,733.1 L850.9,730.9 L851.1,728.4 L851.3,725.4 L851.6,722.2 L851.8,719 L852,715.8 L852.3,713 L852.5,710 L852.7,707 L852.9,704.2 L853.2,701.9 L853.4,700.4 L853.6,699.3 L853.9,698.4 L854.1,697.6 L854.3,697 L854.6,696.6 L854.8,696.4 L855,696.2 L855.2,696.1 L855.5,696 L856.2,696.3 L856.9,696.7 L857.7,697.1 L858.4,697.6 L859.1,698.2 L859.9,698.7 L860.6,699.3 L861.3,699.9 L861.8,700.2 L862.3,701 L862.7,702.1 L863.2,703.6 L863.7,705.3 L864.2,707.5 L864.6,711.2 L865.1,715.4 L865.6,719.1 L866.1,722.4 L866.5,725.5 L867,728.5 L867.5,731.5 L867.9,734.6 L868.4,737.8 L868.9,741.1 L869.4,744.4 L869.8,747.6 L870.3,750.7 L870.8,753.5 L871.3,756.3 L871.7,759 L872.2,761.5 L872.7,763.6 L873.1,765.2 L873.6,766.4 L874.1,767.6 L874.6,768.6 L875,769.5 L875.5,770.3 L876,771 L876.5,771.6 L876.9,772.1 L877.4,772.5 L877.9,772.9 L878.3,773.2 L878.8,773.4 L879.3,773.6 L879.8,773.7 L880.2,773.7 L880.6,773.7 L881,773.5 L881.4,773.3 L881.8,773.1 L882.2,772.8 L882.6,772.3 L883,771.8 L883.4,771.2 L883.8,770.4 L884.2,769.7 L884.5,768.8 L884.9,767.7 L885.3,766.4 L885.7,765 L886.1,763.5 L886.5,761.9 L886.9,760.3 L887.3,758.6 L887.7,756.9 L888.1,754.9 L888.5,752.8 L888.9,750.5 L889.2,748.2 L889.6,745.8 L890,743.5 L890.4,741.3 L890.8,739.2 L891.2,737.2 L891.6,735.3 L892,733.3 L892.4,731.4 L892.8,729.6 L893.2,727.9 L893.6,726.3 L894,724.9 L894.3,723.5 L894.7,722.3 L895.1,721.1 L895.5,720 L895.9,719.1 L896.1,719.7 L896.4,720.4 L896.6,721.2 L896.8,722 L897,722.8 L897.3,723.6 L897.5,724.5 L897.7,725.3 L897.9,726.2 L898.2,727.2 L898.4,728.1 L898.6,729.1 L898.8,730.2 L899.1,731.4 L899.3,732.6 L899.5,733.8 L899.7,735 L900,736.2 L900.2,737.4 L900.4,738.6 L900.6,739.7 L900.9,740.8 L901.1,741.8 L901.3,742.9 L901.5,743.9 L901.8,744.9 L902,745.9 L902.2,746.8 L902.4,747.7 L902.7,748.4 L902.9,749.1 L903.1,749.7 L903.3,750.3 L903.6,750.8 L903.8,751.2 L904,751.4 L904.2,751.6 L904.5,751.8 L904.7,751.9 L904.9,751.9 L905.1,751.9 L905.4,751.7 L905.6,751.4 L905.8,751.1 L906.1,750.7 L906.3,750.2 L906.5,749.7 L906.7,748.9 L907,748 L907.2,746.9 L907.4,745.8 L907.7,744.5 L907.9,743.3 L908.1,741.9 L908.3,740.4 L908.6,738.8 L908.8,737 L909,735.1 L909.3,733.1 L909.5,730.9 L909.7,728.4 L910,725.4 L910.2,722.2 L910.4,719 L910.6,715.8 L910.9,713 L911.1,710 L911.3,707 L911.6,704.2 L911.8,701.9 L912,700.4 L912.2,699.3 L912.5,698.4 L912.7,697.6 L912.9,697 L913.2,696.6 L913.4,696.4 L913.6,696.2 L913.9,696.1 L914.1,696 L914.8,696.3 L915.5,696.7 L916.3,697.1 L917,697.6 L917.7,698.2 L918.5,698.7 L919.2,699.3 L919.9,699.9 L920.4,700.2 L920.9,701 L921.4,702.1 L921.8,703.6 L922.3,705.3 L922.8,707.5 L923.3,711.2 L923.7,715.4 L924.2,719.1 L924.7,722.4 L925.1,725.5 L925.6,728.5 L926.1,731.5 L926.6,734.6 L927,737.8 L927.5,741.1 L928,744.4 L928.4,747.6 L928.9,750.7 L929.4,753.5 L929.9,756.3 L930.3,759 L930.8,761.5 L931.3,763.6 L931.8,765.2 L932.2,766.4 L932.7,767.6 L933.2,768.6 L933.6,769.5 L934.1,770.3 L934.6,771 L935.1,771.6 L935.5,772.1 L936,772.5 L936.5,772.9 L937,773.2 L937.4,773.4 L937.9,773.6 L938.4,773.7 L938.8,773.7 L939.2,773.7 L939.6,773.5 L940,773.3 L940.4,773.1 L940.8,772.8 L941.2,772.3 L941.6,771.8 L942,771.2 L942.4,770.4 L942.8,769.7 L943.2,768.8 L943.5,767.7 L943.9,766.4 L944.3,765 L944.7,763.5 L945.1,761.9 L945.5,760.3 L945.9,758.6 L946.3,756.9 L946.7,754.9 L947.1,752.8 L947.5,750.5 L947.9,748.2 L948.3,745.8 L948.6,743.5 L949,741.3 L949.4,739.2 L949.8,737.2 L950.2,735.3 L950.6,733.3 L951,731.4 L951.4,729.6 L951.8,727.9 L952.2,726.3 L952.6,724.9 L953,723.5 L953.3,722.3 L953.7,721.1 L954.1,720 L954.5,719.1 L954.7,719.7 L955,720.4 L955.2,721.2 L955.4,722 L955.6,722.8 L955.9,723.6 L956.1,724.5 L956.3,725.3 L956.5,726.2 L956.8,727.2 L957,728.1 L957.2,729.1 L957.4,730.2 L957.7,731.4 L957.9,732.6 L958.1,733.8 L958.3,735 L958.6,736.2 L958.8,737.4 L959,738.6 L959.2,739.7 L959.5,740.8 L959.7,741.8 L959.9,742.9 L960.1,743.9 L960.4,744.9 L960.6,745.9 L960.8,746.8 L961,747.7 L961.3,748.4 L961.5,749.1 L961.7,749.7 L961.9,750.3 L962.2,750.8 L962.4,751.2 L962.6,751.4 L962.8,751.6 L963.1,751.8 L963.3,751.9 L963.5,751.9 L963.7,751.9 L964,751.7 L964.2,751.4 L964.4,751.1 L964.7,750.7 L964.9,750.2 L965.1,749.7 L965.4,748.9 L965.6,748 L965.8,746.9 L966,745.8 L966.3,744.5 L966.5,743.3 L966.7,741.9 L967,740.4 L967.2,738.8 L967.4,737 L967.6,735.1 L967.9,733.1 L968.1,730.9 L968.3,728.4 L968.6,725.4 L968.8,722.2 L969,719 L969.3,715.8 L969.5,713 L969.7,710 L969.9,707 L970.2,704.2 L970.4,701.9 L970.6,700.4 L970.9,699.3 L971.1,698.4 L971.3,697.6 L971.5,697 L971.8,696.6 L972,696.4 L972.2,696.2 L972.5,696.1 L972.7,696 L973.4,696.3 L974.2,696.7 L974.9,697.1 L975.6,697.6 L976.4,698.2 L977.1,698.7 L977.8,699.3 L978.6,699.9 L979,700.2 L979.5,701 L980,702.1 L980.4,703.6 L980.9,705.3 L981.4,707.5 L981.9,711.2 L982.3,715.4 L982.8,719.1 L983.3,722.4 L983.8,725.5 L984.2,728.5 L984.7,731.5 L985.2,734.6 L985.6,737.8 L986.1,741.1 L986.6,744.4 L987.1,747.6 L987.5,750.7 L988,753.5 L988.5,756.3 L988.9,759 L989.4,761.5 L989.9,763.6 L990.4,765.2 L990.8,766.4 L991.3,767.6 L991.8,768.6 L992.3,769.5 L992.7,770.3 L993.2,771 L993.7,771.6 L994.1,772.1 L994.6,772.5 L995.1,772.9 L995.6,773.2 L996,773.4 L996.5,773.6 L997,773.7 L997.5,773.7 L997.8,773.7 L998.2,773.5 L998.6,773.3 L999,773.1 L999.4,772.8 L999.8,772.3 L1000.2,771.8 L1000.6,771.2 L1001,770.4 L1001.4,769.7 L1001.8,768.8 L1002.2,767.7 L1002.5,766.4 L1002.9,765 L1003.3,763.5 L1003.7,761.9 L1004.1,760.3 L1004.5,758.6 L1004.9,756.9 L1005.3,754.9 L1005.7,752.8 L1006.1,750.5 L1006.5,748.2 L1006.9,745.8 L1007.3,743.5 L1007.6,741.3 L1008,739.2 L1008.4,737.2 L1008.8,735.3 L1009.2,733.3 L1009.6,731.4 L1010,729.6 L1010.4,727.9 L1010.8,726.3 L1011.2,724.9 L1011.6,723.5 L1012,722.3 L1012.3,721.1 L1012.7,720 L1013.1,719.1 L1013.4,719.7 L1013.6,720.4 L1013.8,721.2 L1014,722 L1014.3,722.8 L1014.5,723.6 L1014.7,724.5 L1014.9,725.3 L1015.2,726.2 L1015.4,727.2 L1015.6,728.1 L1015.8,729.1 L1016.1,730.2 L1016.3,731.4 L1016.5,732.6 L1016.7,733.8 L1017,735 L1017.2,736.2 L1017.4,737.4 L1017.6,738.6 L1017.9,739.7 L1018.1,740.8 L1018.3,741.8 L1018.5,742.9 L1018.8,743.9 L1019,744.9 L1019.2,745.9 L1019.4,746.8 L1019.7,747.7 L1019.9,748.4 L1020.1,749.1 L1020.3,749.7 L1020.6,750.3 L1020.8,750.8 L1021,751.2 L1021.2,751.4 L1021.5,751.6 L1021.7,751.8 L1021.9,751.9 L1022.1,751.9 L1022.4,751.9 L1022.6,751.7 L1022.8,751.4 L1023,751.1 L1023.3,750.7 L1023.5,750.2 L1023.7,749.7 L1024,748.9 L1024.2,748 L1024.4,746.9 L1024.7,745.8 L1024.9,744.5 L1025.1,743.3 L1025.3,741.9 L1025.6,740.4 L1025.8,738.8 L1026,737 L1026.3,735.1 L1026.5,733.1 L1026.7,730.9 L1026.9,728.4 L1027.2,725.4 L1027.4,722.2 L1027.6,719 L1027.9,715.8 L1028.1,713 L1028.3,710 L1028.5,707 L1028.8,704.2 L1029,701.9 L1029.2,700.4 L1029.5,699.3 L1029.7,698.4 L1029.9,697.6 L1030.2,697 L1030.4,696.6 L1030.6,696.4 L1030.8,696.2 L1031.1,696.1 L1031.3,696 L1032,696.3 L1032.8,696.7 L1033.5,697.1 L1034.2,697.6 L1035,698.2 L1035.7,698.7 L1036.4,699.3 L1037.2,699.9 L1037.6,700.2 L1038.1,701 L1038.6,702.1 L1039.1,703.6 L1039.5,705.3 L1040,707.5 L1040.5,711.2 L1040.9,715.4 L1041.4,719.1 L1041.9,722.4 L1042.4,725.5 L1042.8,728.5 L1043.3,731.5 L1043.8,734.6 L1044.3,737.8 L1044.7,741.1 L1045.2,744.4 L1045.7,747.6 L1046.1,750.7 L1046.6,753.5 L1047.1,756.3 L1047.6,759 L1048,761.5 L1048.5,763.6 L1049,765.2 L1049.4,766.4 L1049.9,767.6 L1050.4,768.6 L1050.9,769.5 L1051.3,770.3 L1051.8,771 L1052.3,771.6 L1052.8,772.1 L1053.2,772.5 L1053.7,772.9 L1054.2,773.2 L1054.6,773.4 L1055.1,773.6 L1055.6,773.7 L1056.1,773.7 L1056.5,773.7 L1056.8,773.5 L1057.2,773.3 L1057.6,773.1 L1058,772.8 L1058.4,772.3 L1058.8,771.8 L1059.2,771.2 L1059.6,770.4 L1060,769.7 L1060.4,768.8 L1060.8,767.7 L1061.2,766.4 L1061.6,765 L1061.9,763.5 L1062.3,761.9 L1062.7,760.3 L1063.1,758.6 L1063.5,756.9 L1063.9,754.9 L1064.3,752.8 L1064.7,750.5 L1065.1,748.2 L1065.5,745.8 L1065.9,743.5 L1066.3,741.3 L1066.6,739.2 L1067,737.2 L1067.4,735.3 L1067.8,733.3 L1068.2,731.4 L1068.6,729.6 L1069,727.9 L1069.4,726.3 L1069.8,724.9 L1070.2,723.5 L1070.6,722.3 L1071,721.1 L1071.4,720 L1071.7,719.1 L1072,719.7 L1072.2,720.4 L1072.4,721.2 L1072.6,722 L1072.9,722.8 L1073.1,723.6 L1073.3,724.5 L1073.5,725.3 L1073.8,726.2 L1074,727.2 L1074.2,728.1 L1074.4,729.1 L1074.7,730.2 L1074.9,731.4 L1075.1,732.6 L1075.3,733.8 L1075.6,735 L1075.8,736.2 L1076,737.4 L1076.2,738.6 L1076.5,739.7 L1076.7,740.8 L1076.9,741.8 L1077.1,742.9 L1077.4,743.9 L1077.6,744.9 L1077.8,745.9 L1078,746.8 L1078.3,747.7 L1078.5,748.4 L1078.7,749.1 L1078.9,749.7 L1079.2,750.3 L1079.4,750.8 L1079.6,751.2 L1079.8,751.4 L1080.1,751.6 L1080.3,751.8 L1080.5,751.9 L1080.7,751.9 L1081,751.9 L1081.2,751.7 L1081.4,751.4 L1081.7,751.1 L1081.9,750.7 L1082.1,750.2 L1082.3,749.7 L1082.6,748.9 L1082.8,748 L1083,746.9 L1083.3,745.8 L1083.5,744.5 L1083.7,743.3 L1083.9,741.9 L1084.2,740.4 L1084.4,738.8 L1084.6,737 L1084.9,735.1 L1085.1,733.1 L1085.3,730.9 L1085.6,728.4 L1085.8,725.4 L1086,722.2 L1086.2,719 L1086.5,715.8 L1086.7,713 L1086.9,710 L1087.2,707 L1087.4,704.2 L1087.6,701.9 L1087.8,700.4 L1088.1,699.3 L1088.3,698.4 L1088.5,697.6 L1088.8,697 L1089,696.6 L1089.2,696.4 L1089.5,696.2 L1089.7,696.1 L1089.9,696 L1090.6,696.3 L1091.4,696.7 L1092.1,697.1 L1092.8,697.6 L1093.6,698.2 L1094.3,698.7 L1095,699.3 L1095.8,699.9 L1096.2,700.2 L1096.7,701 L1097.2,702.1 L1097.7,703.6 L1098.1,705.3 L1098.6,707.5 L1099.1,711.2 L1099.6,715.4 L1100,719.1 L1100.5,722.4 L1101,725.5 L1101.4,728.5 L1101.9,731.5 L1102.4,734.6 L1102.9,737.8 L1103.3,741.1 L1103.8,744.4 L1104.3,747.6 L1104.8,750.7 L1105.2,753.5 L1105.7,756.3 L1106.2,759 L1106.6,761.5 L1107.1,763.6 L1107.6,765.2 L1108.1,766.4 L1108.5,767.6 L1109,768.6 L1109.5,769.5 L1109.9,770.3 L1110.4,771 L1110.9,771.6 L1111.4,772.1 L1111.8,772.5 L1112.3,772.9 L1112.8,773.2 L1113.3,773.4 L1113.7,773.6 L1114.2,773.7 L1114.7,773.7 L1115.1,773.7 L1115.5,773.5 L1115.8,773.3 L1116.2,773.1 L1116.6,772.8 L1117,772.3 L1117.4,771.8 L1117.8,771.2 L1118.2,770.4 L1118.6,769.7 L1119,768.8 L1119.4,767.7 L1119.8,766.4 L1120.2,765 L1120.6,763.5 L1120.9,761.9 L1121.3,760.3 L1121.7,758.6 L1122.1,756.9 L1122.5,754.9 L1122.9,752.8 L1123.3,750.5 L1123.7,748.2 L1124.1,745.8 L1124.5,743.5 L1124.9,741.3 L1125.3,739.2 L1125.6,737.2 L1126,735.3 L1126.4,733.3 L1126.8,731.4 L1127.2,729.6 L1127.6,727.9 L1128,726.3 L1128.4,724.9 L1128.8,723.5 L1129.2,722.3 L1129.6,721.1 L1130,720 L1130.4,719.1 L1130.6,719.7 L1130.8,720.4 L1131,721.2 L1131.3,722 L1131.5,722.8 L1131.7,723.6 L1131.9,724.5 L1132.2,725.3 L1132.4,726.2 L1132.6,727.2 L1132.8,728.1 L1133.1,729.1 L1133.3,730.2 L1133.5,731.4 L1133.7,732.6 L1134,733.8 L1134.2,735 L1134.4,736.2 L1134.6,737.4 L1134.9,738.6 L1135.1,739.7 L1135.3,740.8 L1135.5,741.8 L1135.8,742.9 L1136,743.9 L1136.2,744.9 L1136.4,745.9 L1136.6,746.8 L1136.9,747.7 L1137.1,748.4 L1137.3,749.1 L1137.5,749.7 L1137.8,750.3 L1138,750.8 L1138.2,751.2 L1138.4,751.4 L1138.7,751.6 L1138.9,751.8 L1139.1,751.9 L1139.3,751.9 L1139.6,751.9 L1139.8,751.7 L1140,751.4 L1140.3,751.1 L1140.5,750.7 L1140.7,750.2 L1141,749.7 L1141.2,748.9 L1141.4,748 L1141.6,746.9 L1141.9,745.8 L1142.1,744.5 L1142.3,743.3 L1142.6,741.9 L1142.8,740.4 L1143,738.8 L1143.2,737 L1143.5,735.1 L1143.7,733.1 L1143.9,730.9 L1144.2,728.4 L1144.4,725.4 L1144.6,722.2 L1144.9,719 L1145.1,715.8 L1145.3,713 L1145.5,710 L1145.8,707 L1146,704.2 L1146.2,701.9 L1146.5,700.4 L1146.7,699.3 L1146.9,698.4 L1147.1,697.6 L1147.4,697 L1147.6,696.6 L1147.8,696.4 L1148.1,696.2 L1148.3,696.1 L1148.5,696 L1149.3,696.3 L1150,696.7 L1150.7,697.1 L1151.5,697.6 L1152.2,698.2 L1152.9,698.7 L1153.6,699.3 L1154.4,699.9 L1154.9,700.2 L1155.3,701 L1155.8,702.1 L1156.3,703.6 L1156.7,705.3 L1157.2,707.5 L1157.7,711.2 L1158.2,715.4 L1158.6,719.1 L1159.1,722.4 L1159.6,725.5 L1160.1,728.5 L1160.5,731.5 L1161,734.6 L1161.5,737.8 L1161.9,741.1 L1162.4,744.4 L1162.9,747.6 L1163.4,750.7 L1163.8,753.5 L1164.3,756.3 L1164.8,759 L1165.3,761.5 L1165.7,763.6 L1166.2,765.2 L1166.7,766.4 L1167.1,767.6 L1167.6,768.6 L1168.1,769.5 L1168.6,770.3 L1169,771 L1169.5,771.6 L1170,772.1 L1170.4,772.5 L1170.9,772.9 L1171.4,773.2 L1171.9,773.4 L1172.3,773.6 L1172.8,773.7 L1173.3,773.7 L1173.7,773.7 L1174.1,773.5 L1174.5,773.3 L1174.9,773.1 L1175.2,772.8 L1175.6,772.3 L1176,771.8 L1176.4,771.2 L1176.8,770.4 L1177.2,769.7 L1177.6,768.8 L1178,767.7 L1178.4,766.4 L1178.8,765 L1179.2,763.5 L1179.6,761.9 L1179.9,760.3 L1180.3,758.6 L1180.7,756.9 L1181.1,754.9 L1181.5,752.8 L1181.9,750.5 L1182.3,748.2 L1182.7,745.8 L1183.1,743.5 L1183.5,741.3 L1183.9,739.2 L1184.3,737.2 L1184.7,735.3 L1185,733.3 L1185.4,731.4 L1185.8,729.6 L1186.2,727.9 L1186.6,726.3 L1187,724.9 L1187.4,723.5 L1187.8,722.3 L1188.2,721.1 L1188.6,720 L1189,719.1 L1189.2,719.7 L1189.4,720.4 L1189.6,721.2 L1189.9,722 L1190.1,722.8 L1190.3,723.6 L1190.5,724.5 L1190.8,725.3 L1191,726.2 L1191.2,727.2 L1191.4,728.1 L1191.7,729.1 L1191.9,730.2 L1192.1,731.4 L1192.3,732.6 L1192.6,733.8 L1192.8,735 L1193,736.2 L1193.2,737.4 L1193.5,738.6 L1193.7,739.7 L1193.9,740.8 L1194.1,741.8 L1194.4,742.9 L1194.6,743.9 L1194.8,744.9 L1195,745.9 L1195.3,746.8 L1195.5,747.7 L1195.7,748.4 L1195.9,749.1 L1196.2,749.7 L1196.4,750.3 L1196.6,750.8 L1196.8,751.2 L1197.1,751.4 L1197.3,751.6 L1197.5,751.8 L1197.7,751.9 L1198,751.9 L1198.2,751.9 L1198.4,751.7 L1198.6,751.4 L1198.9,751.1 L1199.1,750.7 L1199.3,750.2 L1199.6,749.7 L1199.8,748.9 L1200,748 L1200.3,746.9 L1200.5,745.8 L1200.7,744.5 L1200.9,743.3 L1201.2,741.9 L1201.4,740.4 L1201.6,738.8 L1201.9,737 L1202.1,735.1 L1202.3,733.1 L1202.5,730.9 L1202.8,728.4 L1203,725.4 L1203.2,722.2 L1203.5,719 L1203.7,715.8 L1203.9,713 L1204.2,710 L1204.4,707 L1204.6,704.2 L1204.8,701.9 L1205.1,700.4 L1205.3,699.3 L1205.5,698.4 L1205.8,697.6 L1206,697 L1206.2,696.6 L1206.4,696.4 L1206.7,696.2 L1206.9,696.1 L1207.1,696 L1207.9,696.3 L1208.6,696.7 L1209.3,697.1 L1210.1,697.6 L1210.8,698.2 L1211.5,698.7 L1212.3,699.3 L1213,699.9 L1213.5,700.2 L1213.9,701 L1214.4,702.1 L1214.9,703.6 L1215.4,705.3 L1215.8,707.5 L1216.3,711.2 L1216.8,715.4 L1217.2,719.1 L1217.7,722.4 L1218.2,725.5 L1218.7,728.5 L1219.1,731.5 L1219.6,734.6 L1220.1,737.8 L1220.6,741.1 L1221,744.4 L1221.5,747.6 L1222,750.7 L1222.4,753.5 L1222.9,756.3 L1223.4,759 L1223.9,761.5 L1224.3,763.6 L1224.8,765.2 L1225.3,766.4 L1225.8,767.6 L1226.2,768.6 L1226.7,769.5 L1227.2,770.3 L1227.6,771 L1228.1,771.6 L1228.6,772.1 L1229.1,772.5 L1229.5,772.9 L1230,773.2 L1230.5,773.4 L1230.9,773.6 L1231.4,773.7 L1231.9,773.7 L1232.3,773.7 L1232.7,773.5 L1233.1,773.3 L1233.5,773.1 L1233.9,772.8 L1234.2,772.3 L1234.6,771.8 L1235,771.2 L1235.4,770.4 L1235.8,769.7 L1236.2,768.8 L1236.6,767.7 L1237,766.4 L1237.4,765 L1237.8,763.5 L1238.2,761.9 L1238.6,760.3 L1238.9,758.6 L1239.3,756.9 L1239.7,754.9 L1240.1,752.8 L1240.5,750.5 L1240.9,748.2 L1241.3,745.8 L1241.7,743.5 L1242.1,741.3 L1242.5,739.2 L1242.9,737.2 L1243.3,735.3 L1243.7,733.3 L1244,731.4 L1244.4,729.6 L1244.8,727.9 L1245.2,726.3 L1245.6,724.9 L1246,723.5 L1246.4,722.3 L1246.8,721.1 L1247.2,720 L1247.6,719.1 L1247.8,719.7 L1248,720.4 L1248.2,721.2 L1248.5,722 L1248.7,722.8 L1248.9,723.6 L1249.1,724.5 L1249.4,725.3 L1249.6,726.2 L1249.8,727.2 L1250,728.1 L1250.3,729.1 L1250.5,730.2 L1250.7,731.4 L1250.9,732.6 L1251.2,733.8 L1251.4,735 L1251.6,736.2 L1251.8,737.4 L1252.1,738.6 L1252.3,739.7 L1252.5,740.8 L1252.7,741.8 L1253,742.9 L1253.2,743.9 L1253.4,744.9 L1253.6,745.9 L1253.9,746.8 L1254.1,747.7 L1254.3,748.4 L1254.5,749.1 L1254.8,749.7 L1255,750.3 L1255.2,750.8 L1255.4,751.2 L1255.7,751.4 L1255.9,751.6 L1256.1,751.8 L1256.3,751.9 L1256.6,751.9 L1256.8,751.9 L1257,751.7 L1257.3,751.4 L1257.5,751.1 L1257.7,750.7 L1257.9,750.2 L1258.2,749.7 L1258.4,748.9 L1258.6,748 L1258.9,746.9 L1259.1,745.8 L1259.3,744.5 L1259.5,743.3 L1259.8,741.9 L1260,740.4 L1260.2,738.8 L1260.5,737 L1260.7,735.1 L1260.9,733.1 L1261.2,730.9 L1261.4,728.4 L1261.6,725.4 L1261.8,722.2 L1262.1,719 L1262.3,715.8 L1262.5,713 L1262.8,710 L1263,707 L1263.2,704.2 L1263.4,701.9 L1263.7,700.4 L1263.9,699.3 L1264.1,698.4 L1264.4,697.6 L1264.6,697 L1264.8,696.6 L1265.1,696.4 L1265.3,696.2 L1265.5,696.1 L1265.7,696 L1266.5,696.3 L1267.2,696.7 L1267.9,697.1 L1268.7,697.6 L1269.4,698.2 L1270.1,698.7 L1270.9,699.3 L1271.6,699.9 L1272.1,700.2 L1272.5,701 L1273,702.1 L1273.5,703.6 L1274,705.3 L1274.4,707.5 L1274.9,711.2 L1275.4,715.4 L1275.9,719.1 L1276.3,722.4 L1276.8,725.5 L1277.3,728.5 L1277.7,731.5 L1278.2,734.6 L1278.7,737.8 L1279.2,741.1 L1279.6,744.4 L1280.1,747.6 L1280.6,750.7 L1281.1,753.5 L1281.5,756.3 L1282,759 L1282.5,761.5 L1282.9,763.6 L1283.4,765.2 L1283.9,766.4 L1284.4,767.6 L1284.8,768.6 L1285.3,769.5 L1285.8,770.3 L1286.3,771 L1286.7,771.6 L1287.2,772.1 L1287.7,772.5 L1288.1,772.9 L1288.6,773.2 L1289.1,773.4 L1289.6,773.6 L1290,773.7 L1290.5,773.7 L1290.9,773.7 L1291.3,773.5 L1291.7,773.3 L1292.1,773.1 L1292.5,772.8 L1292.9,772.3 L1293.2,771.8 L1293.6,771.2 L1294,770.4 L1294.4,769.7 L1294.8,768.8 L1295.2,767.7 L1295.6,766.4 L1296,765 L1296.4,763.5 L1296.8,761.9 L1297.2,760.3 L1297.6,758.6 L1298,756.9 L1298.3,754.9 L1298.7,752.8 L1299.1,750.5 L1299.5,748.2 L1299.9,745.8 L1300.3,743.5 L1300.7,741.3 L1301.1,739.2 L1301.5,737.2 L1301.9,735.3 L1302.3,733.3 L1302.7,731.4 L1303,729.6 L1303.4,727.9 L1303.8,726.3 L1304.2,724.9 L1304.6,723.5 L1305,722.3 L1305.4,721.1 L1305.8,720 L1306.2,719.1 L1306.4,719.7 L1306.6,720.4 L1306.9,721.2 L1307.1,722 L1307.3,722.8 L1307.5,723.6 L1307.8,724.5 L1308,725.3 L1308.2,726.2 L1308.4,727.2 L1308.7,728.1 L1308.9,729.1 L1309.1,730.2 L1309.3,731.4 L1309.6,732.6 L1309.8,733.8 L1310,735 L1310.2,736.2 L1310.5,737.4 L1310.7,738.6 L1310.9,739.7 L1311.1,740.8 L1311.4,741.8 L1311.6,742.9 L1311.8,743.9 L1312,744.9 L1312.3,745.9 L1312.5,746.8 L1312.7,747.7 L1312.9,748.4 L1313.2,749.1 L1313.4,749.7 L1313.6,750.3 L1313.8,750.8 L1314.1,751.2 L1314.3,751.4 L1314.5,751.6 L1314.7,751.8 L1315,751.9 L1315.2,751.9 L1315.4,751.9 L1315.6,751.7 L1315.9,751.4 L1316.1,751.1 L1316.3,750.7 L1316.6,750.2 L1316.8,749.7 L1317,748.9 L1317.2,748 L1317.5,746.9 L1317.7,745.8 L1317.9,744.5 L1318.2,743.3 L1318.4,741.9 L1318.6,740.4 L1318.8,738.8 L1319.1,737 L1319.3,735.1 L1319.5,733.1 L1319.8,730.9 L1320,728.4 L1320.2,725.4 L1320.5,722.2 L1320.7,719 L1320.9,715.8 L1321.1,713 L1321.4,710 L1321.6,707 L1321.8,704.2 L1322.1,701.9 L1322.3,700.4 L1322.5,699.3 L1322.7,698.4 L1323,697.6 L1323.2,697 L1323.4,696.6 L1323.7,696.4 L1323.9,696.2 L1324.1,696.1 L1324.4,696 L1325.1,696.3 L1325.8,696.7 L1326.5,697.1 L1327.3,697.6 L1328,698.2 L1328.7,698.7 L1329.5,699.3 L1330.2,699.9 L1330.7,700.2 L1331.2,701 L1331.6,702.1 L1332.1,703.6 L1332.6,705.3 L1333,707.5 L1333.5,711.2 L1334,715.4 L1334.5,719.1 L1334.9,722.4 L1335.4,725.5 L1335.9,728.5 L1336.4,731.5 L1336.8,734.6 L1337.3,737.8 L1337.8,741.1 L1338.2,744.4 L1338.7,747.6 L1339.2,750.7 L1339.7,753.5 L1340.1,756.3 L1340.6,759 L1341.1,761.5 L1341.6,763.6 L1342,765.2 L1342.5,766.4 L1343,767.6 L1343.4,768.6 L1343.9,769.5 L1344.4,770.3 L1344.9,771 L1345.3,771.6 L1345.8,772.1 L1346.3,772.5 L1346.8,772.9 L1347.2,773.2 L1347.7,773.4 L1348.2,773.6 L1348.6,773.7 L1349.1,773.7 L1349.5,773.7 L1349.9,773.5 L1350.3,773.3 L1350.7,773.1 L1351.1,772.8 L1351.5,772.3 L1351.9,771.8 L1352.2,771.2 L1352.6,770.4 L1353,769.7 L1353.4,768.8 L1353.8,767.7 L1354.2,766.4 L1354.6,765 L1355,763.5 L1355.4,761.9 L1355.8,760.3 L1356.2,758.6 L1356.6,756.9 L1357,754.9 L1357.3,752.8 L1357.7,750.5 L1358.1,748.2 L1358.5,745.8 L1358.9,743.5 L1359.3,741.3 L1359.7,739.2 L1360.1,737.2 L1360.5,735.3 L1360.9,733.3 L1361.3,731.4 L1361.7,729.6 L1362,727.9 L1362.4,726.3 L1362.8,724.9 L1363.2,723.5 L1363.6,722.3 L1364,721.1 L1364.4,720 L1364.8,719.1 L1365,719.7 L1365.2,720.4 L1365.5,721.2 L1365.7,722 L1365.9,722.8 L1366.1,723.6 L1366.4,724.5 L1366.6,725.3 L1366.8,726.2 L1367,727.2 L1367.3,728.1 L1367.5,729.1 L1367.7,730.2 L1367.9,731.4 L1368.2,732.6 L1368.4,733.8 L1368.6,735 L1368.8,736.2 L1369.1,737.4 L1369.3,738.6 L1369.5,739.7 L1369.7,740.8 L1370,741.8 L1370.2,742.9 L1370.4,743.9 L1370.6,744.9 L1370.9,745.9 L1371.1,746.8 L1371.3,747.7 L1371.5,748.4 L1371.8,749.1 L1372,749.7 L1372.2,750.3 L1372.4,750.8 L1372.7,751.2 L1372.9,751.4 L1373.1,751.6 L1373.3,751.8 L1373.6,751.9 L1373.8,751.9" fill="none" stroke="#3b5998" stroke-width="4.0" stroke-linejoin="round" stroke-linecap="butt" /></g>
<rect x="736.2" y="664.7" width="586.1" height="123.1" fill="none" stroke="#000" stroke-width="2.1"/>
<path d="M736.2,782.7 l-9.4,0" stroke="#000" stroke-width="2.1" fill="none"/>
<path d="M736.2,708 l-9.4,0" stroke="#000" stroke-width="2.1" fill="none"/>
<path d="M882.7,787.8 l0,8.9" stroke="#000" stroke-width="2.1" fill="none"/>
<path d="M1029.2,787.8 l0,8.9" stroke="#000" stroke-width="2.1" fill="none"/>
<path d="M1175.8,787.8 l0,8.9" stroke="#000" stroke-width="2.1" fill="none"/>
<path d="M1322.3,787.8 l0,8.9" stroke="#000" stroke-width="2.1" fill="none"/>
<text x="765" y="686.1" font-size="26.2" text-anchor="start" fill="#000" >2<tspan dx="5.32">:</tspan><tspan dx="4.98">1</tspan> Periodic</text>
<clipPath id="c10"><rect x="736.2" y="812.7" width="586.1" height="123.1"/></clipPath>
<g clip-path="url(#c10)"><path d="M728.9,899.9 L729.1,899.9 L729.4,899.7 L729.6,899.4 L729.9,899.1 L730.1,898.7 L730.4,898.3 L730.6,897.7 L730.9,897 L731.1,896 L731.4,895 L731.6,893.8 L731.9,892.6 L732.1,891.3 L732.4,890 L732.6,888.5 L732.9,886.9 L733.1,885.1 L733.4,883.2 L733.6,881.2 L733.9,879 L734.1,876.5 L734.4,873.6 L734.6,870.4 L734.9,867.1 L735.1,864 L735.4,861.2 L735.6,858.2 L735.8,855.2 L736.1,852.4 L736.3,850.2 L736.6,848.7 L736.8,847.6 L737.1,846.6 L737.3,845.8 L737.6,845.3 L737.8,844.9 L738.1,844.7 L738.3,844.5 L738.6,844.4 L738.8,844.3 L739.6,844.6 L740.3,845 L741,845.4 L741.8,845.9 L742.5,846.5 L743.2,847 L744,847.6 L744.7,848.2 L745.2,848.5 L745.7,849.3 L746.2,850.4 L746.7,851.9 L747.2,853.6 L747.6,855.8 L748.1,859.5 L748.6,863.7 L749.1,867.3 L749.6,870.6 L750.1,873.7 L750.6,876.7 L751.1,879.7 L751.6,882.8 L752.1,885.9 L752.6,889.2 L753,892.5 L753.5,895.7 L754,898.8 L754.5,901.6 L755,904.3 L755.5,907.1 L756,909.5 L756.5,911.6 L757,913.2 L757.5,914.5 L758,915.6 L758.4,916.7 L758.9,917.6 L759.4,918.4 L759.9,919 L760.4,919.6 L760.9,920.1 L761.4,920.5 L761.9,920.9 L762.4,921.2 L762.9,921.4 L763.4,921.6 L763.8,921.7 L764.3,921.7 L764.7,921.7 L765.1,921.5 L765.5,921.4 L765.9,921.1 L766.2,920.9 L766.6,920.4 L767,919.9 L767.4,919.4 L767.8,918.8 L768.1,918.2 L768.5,917.6 L768.9,916.9 L769.3,916.2 L769.7,915.4 L770,914.6 L770.4,913.8 L770.8,913 L771.2,912.2 L771.6,911.4 L772,910.6 L772.3,909.9 L772.7,909.1 L773.1,908.3 L773.5,907.5 L773.9,906.7 L774.2,905.9 L774.6,905.2 L775,904.5 L775.4,904 L775.8,903.5 L776.1,903.2 L776.5,902.9 L776.9,902.7 L777.3,902.5 L777.7,902.3 L778,902.2 L778.4,902.1 L778.8,902.1 L779.2,902 L779.6,902 L779.8,902.1 L780.1,902.2 L780.3,902.3 L780.6,902.5 L780.8,902.7 L781.1,903 L781.3,903.3 L781.6,903.6 L781.8,904.1 L782.1,904.6 L782.3,905.1 L782.6,905.7 L782.8,906.2 L783.1,906.6 L783.3,907 L783.6,907.5 L783.8,907.9 L784.1,908.3 L784.3,908.7 L784.6,909.1 L784.8,909.5 L785.1,909.8 L785.3,910.1 L785.5,910.4 L785.8,910.6 L786,910.8 L786.3,910.9 L786.5,911 L786.8,911.1 L787,911.2 L787.3,911.3 L787.5,911.4 L787.8,911.4 L788,911.5 L788.3,911.5 L788.5,911.5 L788.8,911.5 L789,911.6 L789.3,911.6 L789.5,911.6 L789.8,911.5 L790,911.3 L790.3,911 L790.6,910.6 L790.8,910.1 L791.1,909.6 L791.3,908.9 L791.6,908 L791.8,906.9 L792.1,905.6 L792.4,904.2 L792.6,902.8 L792.9,901.3 L793.1,899.7 L793.4,897.9 L793.6,895.9 L793.9,893.8 L794.2,891.5 L794.4,889.1 L794.7,886.5 L794.9,883.5 L795.2,880 L795.4,876.2 L795.7,872.3 L795.9,868.5 L796.2,865.1 L796.5,861.5 L796.7,857.9 L797,854.7 L797.2,852 L797.5,850.2 L797.7,848.9 L798,847.7 L798.3,846.7 L798.5,846 L798.8,845.6 L799,845.4 L799.3,845.1 L799.5,845 L799.8,844.9 L800.2,845.1 L800.6,845.4 L801,845.7 L801.4,846 L801.8,846.4 L802.1,846.8 L802.5,847.2 L802.9,847.6 L803.4,847.9 L803.9,848.7 L804.4,849.9 L804.9,851.3 L805.4,853 L805.9,855.2 L806.4,858.9 L806.9,863.2 L807.4,866.9 L807.9,870.2 L808.4,873.3 L808.8,876.3 L809.3,879.4 L809.8,882.4 L810.3,885.6 L810.8,889 L811.3,892.3 L811.8,895.5 L812.3,898.6 L812.8,901.4 L813.3,904.2 L813.8,906.9 L814.3,909.4 L814.8,911.5 L815.3,913.1 L815.7,914.4 L816.2,915.6 L816.7,916.6 L817.2,917.5 L817.7,918.3 L818.2,919 L818.7,919.6 L819.2,920.1 L819.7,920.5 L820.2,920.9 L820.7,921.2 L821.2,921.4 L821.7,921.6 L822.2,921.7 L822.6,921.7 L823.1,921.7 L823.5,921.6 L823.9,921.5 L824.3,921.3 L824.7,921.1 L825.1,920.8 L825.5,920.5 L825.9,920.1 L826.3,919.7 L826.8,919.2 L827.2,918.6 L827.6,917.9 L828,917.1 L828.4,916.2 L828.8,915.3 L829.2,914.3 L829.6,913.2 L830,912.1 L830.4,911 L830.9,909.8 L831.3,908.5 L831.7,907 L832.1,905.5 L832.5,904 L832.9,902.6 L833.3,901.2 L833.7,899.8 L834.1,898.6 L834.5,897.3 L835,896.1 L835.4,894.9 L835.8,893.8 L836.2,892.7 L836.6,891.7 L837,890.8 L837.4,889.9 L837.8,889.1 L838.2,888.4 L838.7,887.7 L839.1,887.1 L839.3,887.4 L839.4,887.7 L839.6,888 L839.8,888.3 L840,888.7 L840.2,889 L840.4,889.4 L840.6,889.8 L840.8,890.1 L841,890.5 L841.2,890.9 L841.3,891.4 L841.5,891.8 L841.7,892.3 L841.9,892.8 L842.1,893.4 L842.3,893.9 L842.5,894.4 L842.7,894.9 L842.9,895.4 L843.1,895.9 L843.3,896.3 L843.4,896.8 L843.6,897.2 L843.8,897.7 L844,898.1 L844.2,898.5 L844.4,898.9 L844.6,899.3 L844.8,899.6 L845,899.9 L845.2,900.2 L845.3,900.4 L845.5,900.6 L845.7,900.8 L845.9,900.9 L846.1,901 L846.3,901.1 L846.5,901.1 L846.7,901.1 L846.9,901.1 L847.1,900.9 L847.4,900.6 L847.6,900.2 L847.9,899.8 L848.1,899.4 L848.3,898.9 L848.6,898.1 L848.8,897.1 L849,896.1 L849.3,894.9 L849.5,893.6 L849.7,892.3 L850,891 L850.2,889.4 L850.4,887.8 L850.7,886 L850.9,884.1 L851.1,882 L851.4,879.8 L851.6,877.2 L851.8,874.2 L852.1,870.9 L852.3,867.6 L852.5,864.4 L852.8,861.5 L853,858.5 L853.2,855.4 L853.5,852.6 L853.7,850.3 L853.9,848.8 L854.2,847.7 L854.4,846.7 L854.7,845.9 L854.9,845.3 L855.1,844.9 L855.4,844.7 L855.6,844.5 L855.8,844.4 L856.1,844.3 L856.8,844.6 L857.5,845 L858.3,845.4 L859,845.9 L859.7,846.5 L860.5,847 L861.2,847.6 L861.9,848.2 L862.4,848.5 L862.9,849.3 L863.4,850.4 L863.9,851.9 L864.4,853.6 L864.9,855.8 L865.4,859.5 L865.8,863.7 L866.3,867.3 L866.8,870.6 L867.3,873.7 L867.8,876.7 L868.3,879.7 L868.8,882.8 L869.3,885.9 L869.8,889.2 L870.3,892.5 L870.8,895.7 L871.2,898.8 L871.7,901.6 L872.2,904.3 L872.7,907.1 L873.2,909.5 L873.7,911.6 L874.2,913.2 L874.7,914.5 L875.2,915.6 L875.7,916.7 L876.2,917.6 L876.6,918.4 L877.1,919 L877.6,919.6 L878.1,920.1 L878.6,920.5 L879.1,920.9 L879.6,921.2 L880.1,921.4 L880.6,921.6 L881.1,921.7 L881.6,921.7 L881.9,921.7 L882.3,921.5 L882.7,921.4 L883.1,921.1 L883.5,920.9 L883.8,920.4 L884.2,919.9 L884.6,919.4 L885,918.8 L885.4,918.2 L885.7,917.6 L886.1,916.9 L886.5,916.2 L886.9,915.4 L887.3,914.6 L887.6,913.8 L888,913 L888.4,912.2 L888.8,911.4 L889.2,910.6 L889.6,909.9 L889.9,909.1 L890.3,908.3 L890.7,907.5 L891.1,906.7 L891.5,905.9 L891.8,905.2 L892.2,904.5 L892.6,904 L893,903.5 L893.4,903.2 L893.7,902.9 L894.1,902.7 L894.5,902.5 L894.9,902.3 L895.3,902.2 L895.6,902.1 L896,902.1 L896.4,902 L896.8,902 L897,902.1 L897.3,902.2 L897.5,902.3 L897.8,902.5 L898,902.7 L898.3,903 L898.5,903.3 L898.8,903.6 L899,904.1 L899.3,904.6 L899.5,905.1 L899.8,905.7 L900,906.2 L900.3,906.6 L900.5,907 L900.8,907.5 L901,907.9 L901.3,908.3 L901.5,908.7 L901.8,909.1 L902,909.5 L902.3,909.8 L902.5,910.1 L902.8,910.4 L903,910.6 L903.3,910.8 L903.5,910.9 L903.8,911 L904,911.1 L904.3,911.2 L904.5,911.3 L904.8,911.4 L905,911.4 L905.3,911.5 L905.5,911.5 L905.8,911.5 L906,911.5 L906.3,911.6 L906.5,911.6 L906.8,911.6 L907,911.5 L907.3,911.3 L907.5,911 L907.8,910.6 L908,910.1 L908.3,909.6 L908.6,908.9 L908.8,908 L909.1,906.9 L909.3,905.6 L909.6,904.2 L909.8,902.8 L910.1,901.3 L910.3,899.7 L910.6,897.9 L910.9,895.9 L911.1,893.8 L911.4,891.5 L911.6,889.1 L911.9,886.5 L912.1,883.5 L912.4,880 L912.7,876.2 L912.9,872.3 L913.2,868.5 L913.4,865.1 L913.7,861.5 L913.9,857.9 L914.2,854.7 L914.4,852 L914.7,850.2 L915,848.9 L915.2,847.7 L915.5,846.7 L915.7,846 L916,845.6 L916.2,845.4 L916.5,845.1 L916.8,845 L917,844.9 L917.4,845.1 L917.8,845.4 L918.2,845.7 L918.6,846 L919,846.4 L919.4,846.8 L919.8,847.2 L920.1,847.6 L920.6,847.9 L921.1,848.7 L921.6,849.9 L922.1,851.3 L922.6,853 L923.1,855.2 L923.6,858.9 L924.1,863.2 L924.6,866.9 L925.1,870.2 L925.6,873.3 L926.1,876.3 L926.6,879.4 L927.1,882.4 L927.5,885.6 L928,889 L928.5,892.3 L929,895.5 L929.5,898.6 L930,901.4 L930.5,904.2 L931,906.9 L931.5,909.4 L932,911.5 L932.5,913.1 L933,914.4 L933.5,915.6 L934,916.6 L934.4,917.5 L934.9,918.3 L935.4,919 L935.9,919.6 L936.4,920.1 L936.9,920.5 L937.4,920.9 L937.9,921.2 L938.4,921.4 L938.9,921.6 L939.4,921.7 L939.9,921.7 L940.3,921.7 L940.7,921.6 L941.1,921.5 L941.5,921.3 L941.9,921.1 L942.3,920.8 L942.7,920.5 L943.2,920.1 L943.6,919.7 L944,919.2 L944.4,918.6 L944.8,917.9 L945.2,917.1 L945.6,916.2 L946,915.3 L946.4,914.3 L946.8,913.2 L947.3,912.1 L947.7,911 L948.1,909.8 L948.5,908.5 L948.9,907 L949.3,905.5 L949.7,904 L950.1,902.6 L950.5,901.2 L950.9,899.8 L951.4,898.6 L951.8,897.3 L952.2,896.1 L952.6,894.9 L953,893.8 L953.4,892.7 L953.8,891.7 L954.2,890.8 L954.6,889.9 L955,889.1 L955.5,888.4 L955.9,887.7 L956.3,887.1 L956.5,887.4 L956.7,887.7 L956.9,888 L957,888.3 L957.2,888.7 L957.4,889 L957.6,889.4 L957.8,889.8 L958,890.1 L958.2,890.5 L958.4,890.9 L958.6,891.4 L958.8,891.8 L958.9,892.3 L959.1,892.8 L959.3,893.4 L959.5,893.9 L959.7,894.4 L959.9,894.9 L960.1,895.4 L960.3,895.9 L960.5,896.3 L960.7,896.8 L960.9,897.2 L961,897.7 L961.2,898.1 L961.4,898.5 L961.6,898.9 L961.8,899.3 L962,899.6 L962.2,899.9 L962.4,900.2 L962.6,900.4 L962.8,900.6 L962.9,900.8 L963.1,900.9 L963.3,901 L963.5,901.1 L963.7,901.1 L963.9,901.1 L964.1,901.1 L964.4,900.9 L964.6,900.6 L964.8,900.2 L965.1,899.8 L965.3,899.4 L965.5,898.9 L965.8,898.1 L966,897.1 L966.2,896.1 L966.5,894.9 L966.7,893.6 L966.9,892.3 L967.2,891 L967.4,889.4 L967.7,887.8 L967.9,886 L968.1,884.1 L968.4,882 L968.6,879.8 L968.8,877.2 L969.1,874.2 L969.3,870.9 L969.5,867.6 L969.8,864.4 L970,861.5 L970.2,858.5 L970.5,855.4 L970.7,852.6 L970.9,850.3 L971.2,848.8 L971.4,847.7 L971.6,846.7 L971.9,845.9 L972.1,845.3 L972.3,844.9 L972.6,844.7 L972.8,844.5 L973,844.4 L973.3,844.3 L974,844.6 L974.7,845 L975.5,845.4 L976.2,845.9 L976.9,846.5 L977.7,847 L978.4,847.6 L979.1,848.2 L979.6,848.5 L980.1,849.3 L980.6,850.4 L981.1,851.9 L981.6,853.6 L982.1,855.8 L982.6,859.5 L983.1,863.7 L983.6,867.3 L984,870.6 L984.5,873.7 L985,876.7 L985.5,879.7 L986,882.8 L986.5,885.9 L987,889.2 L987.5,892.5 L988,895.7 L988.5,898.8 L989,901.6 L989.4,904.3 L989.9,907.1 L990.4,909.5 L990.9,911.6 L991.4,913.2 L991.9,914.5 L992.4,915.6 L992.9,916.7 L993.4,917.6 L993.9,918.4 L994.4,919 L994.8,919.6 L995.3,920.1 L995.8,920.5 L996.3,920.9 L996.8,921.2 L997.3,921.4 L997.8,921.6 L998.3,921.7 L998.8,921.7 L999.2,921.7 L999.5,921.5 L999.9,921.4 L1000.3,921.1 L1000.7,920.9 L1001.1,920.4 L1001.4,919.9 L1001.8,919.4 L1002.2,918.8 L1002.6,918.2 L1003,917.6 L1003.3,916.9 L1003.7,916.2 L1004.1,915.4 L1004.5,914.6 L1004.9,913.8 L1005.2,913 L1005.6,912.2 L1006,911.4 L1006.4,910.6 L1006.8,909.9 L1007.2,909.1 L1007.5,908.3 L1007.9,907.5 L1008.3,906.7 L1008.7,905.9 L1009.1,905.2 L1009.4,904.5 L1009.8,904 L1010.2,903.5 L1010.6,903.2 L1011,902.9 L1011.3,902.7 L1011.7,902.5 L1012.1,902.3 L1012.5,902.2 L1012.9,902.1 L1013.2,902.1 L1013.6,902 L1014,902 L1014.3,902.1 L1014.5,902.2 L1014.8,902.3 L1015,902.5 L1015.3,902.7 L1015.5,903 L1015.8,903.3 L1016,903.6 L1016.3,904.1 L1016.5,904.6 L1016.8,905.1 L1017,905.7 L1017.2,906.2 L1017.5,906.6 L1017.7,907 L1018,907.5 L1018.2,907.9 L1018.5,908.3 L1018.7,908.7 L1019,909.1 L1019.2,909.5 L1019.5,909.8 L1019.7,910.1 L1020,910.4 L1020.2,910.6 L1020.5,910.8 L1020.7,910.9 L1021,911 L1021.2,911.1 L1021.5,911.2 L1021.7,911.3 L1022,911.4 L1022.2,911.4 L1022.5,911.5 L1022.7,911.5 L1023,911.5 L1023.2,911.5 L1023.5,911.6 L1023.7,911.6 L1024,911.6 L1024.2,911.5 L1024.5,911.3 L1024.7,911 L1025,910.6 L1025.3,910.1 L1025.5,909.6 L1025.8,908.9 L1026,908 L1026.3,906.9 L1026.5,905.6 L1026.8,904.2 L1027.1,902.8 L1027.3,901.3 L1027.6,899.7 L1027.8,897.9 L1028.1,895.9 L1028.3,893.8 L1028.6,891.5 L1028.8,889.1 L1029.1,886.5 L1029.4,883.5 L1029.6,880 L1029.9,876.2 L1030.1,872.3 L1030.4,868.5 L1030.6,865.1 L1030.9,861.5 L1031.2,857.9 L1031.4,854.7 L1031.7,852 L1031.9,850.2 L1032.2,848.9 L1032.4,847.7 L1032.7,846.7 L1032.9,846 L1033.2,845.6 L1033.5,845.4 L1033.7,845.1 L1034,845 L1034.2,844.9 L1034.6,845.1 L1035,845.4 L1035.4,845.7 L1035.8,846 L1036.2,846.4 L1036.6,846.8 L1037,847.2 L1037.4,847.6 L1037.9,847.9 L1038.4,848.7 L1038.8,849.9 L1039.3,851.3 L1039.8,853 L1040.3,855.2 L1040.8,858.9 L1041.3,863.2 L1041.8,866.9 L1042.3,870.2 L1042.8,873.3 L1043.3,876.3 L1043.8,879.4 L1044.3,882.4 L1044.8,885.6 L1045.3,889 L1045.7,892.3 L1046.2,895.5 L1046.7,898.6 L1047.2,901.4 L1047.7,904.2 L1048.2,906.9 L1048.7,909.4 L1049.2,911.5 L1049.7,913.1 L1050.2,914.4 L1050.7,915.6 L1051.2,916.6 L1051.7,917.5 L1052.2,918.3 L1052.7,919 L1053.1,919.6 L1053.6,920.1 L1054.1,920.5 L1054.6,920.9 L1055.1,921.2 L1055.6,921.4 L1056.1,921.6 L1056.6,921.7 L1057.1,921.7 L1057.5,921.7 L1057.9,921.6 L1058.3,921.5 L1058.7,921.3 L1059.1,921.1 L1059.6,920.8 L1060,920.5 L1060.4,920.1 L1060.8,919.7 L1061.2,919.2 L1061.6,918.6 L1062,917.9 L1062.4,917.1 L1062.8,916.2 L1063.2,915.3 L1063.7,914.3 L1064.1,913.2 L1064.5,912.1 L1064.9,911 L1065.3,909.8 L1065.7,908.5 L1066.1,907 L1066.5,905.5 L1066.9,904 L1067.3,902.6 L1067.8,901.2 L1068.2,899.8 L1068.6,898.6 L1069,897.3 L1069.4,896.1 L1069.8,894.9 L1070.2,893.8 L1070.6,892.7 L1071,891.7 L1071.4,890.8 L1071.9,889.9 L1072.3,889.1 L1072.7,888.4 L1073.1,887.7 L1073.5,887.1 L1073.7,887.4 L1073.9,887.7 L1074.1,888 L1074.3,888.3 L1074.5,888.7 L1074.6,889 L1074.8,889.4 L1075,889.8 L1075.2,890.1 L1075.4,890.5 L1075.6,890.9 L1075.8,891.4 L1076,891.8 L1076.2,892.3 L1076.4,892.8 L1076.5,893.4 L1076.7,893.9 L1076.9,894.4 L1077.1,894.9 L1077.3,895.4 L1077.5,895.9 L1077.7,896.3 L1077.9,896.8 L1078.1,897.2 L1078.3,897.7 L1078.5,898.1 L1078.6,898.5 L1078.8,898.9 L1079,899.3 L1079.2,899.6 L1079.4,899.9 L1079.6,900.2 L1079.8,900.4 L1080,900.6 L1080.2,900.8 L1080.4,900.9 L1080.5,901 L1080.7,901.1 L1080.9,901.1 L1081.1,901.1 L1081.4,901.1 L1081.6,900.9 L1081.8,900.6 L1082.1,900.2 L1082.3,899.8 L1082.5,899.4 L1082.8,898.9 L1083,898.1 L1083.2,897.1 L1083.5,896.1 L1083.7,894.9 L1083.9,893.6 L1084.2,892.3 L1084.4,891 L1084.6,889.4 L1084.9,887.8 L1085.1,886 L1085.3,884.1 L1085.6,882 L1085.8,879.8 L1086,877.2 L1086.3,874.2 L1086.5,870.9 L1086.7,867.6 L1087,864.4 L1087.2,861.5 L1087.4,858.5 L1087.7,855.4 L1087.9,852.6 L1088.2,850.3 L1088.4,848.8 L1088.6,847.7 L1088.9,846.7 L1089.1,845.9 L1089.3,845.3 L1089.6,844.9 L1089.8,844.7 L1090,844.5 L1090.3,844.4 L1090.5,844.3 L1091.2,844.6 L1092,845 L1092.7,845.4 L1093.4,845.9 L1094.2,846.5 L1094.9,847 L1095.6,847.6 L1096.4,848.2 L1096.8,848.5 L1097.3,849.3 L1097.8,850.4 L1098.3,851.9 L1098.8,853.6 L1099.3,855.8 L1099.8,859.5 L1100.3,863.7 L1100.8,867.3 L1101.3,870.6 L1101.8,873.7 L1102.2,876.7 L1102.7,879.7 L1103.2,882.8 L1103.7,885.9 L1104.2,889.2 L1104.7,892.5 L1105.2,895.7 L1105.7,898.8 L1106.2,901.6 L1106.7,904.3 L1107.2,907.1 L1107.6,909.5 L1108.1,911.6 L1108.6,913.2 L1109.1,914.5 L1109.6,915.6 L1110.1,916.7 L1110.6,917.6 L1111.1,918.4 L1111.6,919 L1112.1,919.6 L1112.6,920.1 L1113,920.5 L1113.5,920.9 L1114,921.2 L1114.5,921.4 L1115,921.6 L1115.5,921.7 L1116,921.7 L1116.4,921.7 L1116.8,921.5 L1117.1,921.4 L1117.5,921.1 L1117.9,920.9 L1118.3,920.4 L1118.7,919.9 L1119,919.4 L1119.4,918.8 L1119.8,918.2 L1120.2,917.6 L1120.6,916.9 L1120.9,916.2 L1121.3,915.4 L1121.7,914.6 L1122.1,913.8 L1122.5,913 L1122.9,912.2 L1123.2,911.4 L1123.6,910.6 L1124,909.9 L1124.4,909.1 L1124.8,908.3 L1125.1,907.5 L1125.5,906.7 L1125.9,905.9 L1126.3,905.2 L1126.7,904.5 L1127,904 L1127.4,903.5 L1127.8,903.2 L1128.2,902.9 L1128.6,902.7 L1128.9,902.5 L1129.3,902.3 L1129.7,902.2 L1130.1,902.1 L1130.5,902.1 L1130.9,902 L1131.2,902 L1131.5,902.1 L1131.7,902.2 L1132,902.3 L1132.2,902.5 L1132.5,902.7 L1132.7,903 L1133,903.3 L1133.2,903.6 L1133.5,904.1 L1133.7,904.6 L1134,905.1 L1134.2,905.7 L1134.5,906.2 L1134.7,906.6 L1135,907 L1135.2,907.5 L1135.5,907.9 L1135.7,908.3 L1136,908.7 L1136.2,909.1 L1136.5,909.5 L1136.7,909.8 L1137,910.1 L1137.2,910.4 L1137.5,910.6 L1137.7,910.8 L1138,910.9 L1138.2,911 L1138.5,911.1 L1138.7,911.2 L1139,911.3 L1139.2,911.4 L1139.5,911.4 L1139.7,911.5 L1139.9,911.5 L1140.2,911.5 L1140.4,911.5 L1140.7,911.6 L1140.9,911.6 L1141.2,911.6 L1141.5,911.5 L1141.7,911.3 L1142,911 L1142.2,910.6 L1142.5,910.1 L1142.7,909.6 L1143,908.9 L1143.2,908 L1143.5,906.9 L1143.8,905.6 L1144,904.2 L1144.3,902.8 L1144.5,901.3 L1144.8,899.7 L1145,897.9 L1145.3,895.9 L1145.6,893.8 L1145.8,891.5 L1146.1,889.1 L1146.3,886.5 L1146.6,883.5 L1146.8,880 L1147.1,876.2 L1147.3,872.3 L1147.6,868.5 L1147.9,865.1 L1148.1,861.5 L1148.4,857.9 L1148.6,854.7 L1148.9,852 L1149.1,850.2 L1149.4,848.9 L1149.7,847.7 L1149.9,846.7 L1150.2,846 L1150.4,845.6 L1150.7,845.4 L1150.9,845.1 L1151.2,845 L1151.5,844.9 L1151.8,845.1 L1152.2,845.4 L1152.6,845.7 L1153,846 L1153.4,846.4 L1153.8,846.8 L1154.2,847.2 L1154.6,847.6 L1155.1,847.9 L1155.6,848.7 L1156.1,849.9 L1156.6,851.3 L1157.1,853 L1157.5,855.2 L1158,858.9 L1158.5,863.2 L1159,866.9 L1159.5,870.2 L1160,873.3 L1160.5,876.3 L1161,879.4 L1161.5,882.4 L1162,885.6 L1162.5,889 L1163,892.3 L1163.5,895.5 L1164,898.6 L1164.4,901.4 L1164.9,904.2 L1165.4,906.9 L1165.9,909.4 L1166.4,911.5 L1166.9,913.1 L1167.4,914.4 L1167.9,915.6 L1168.4,916.6 L1168.9,917.5 L1169.4,918.3 L1169.9,919 L1170.4,919.6 L1170.9,920.1 L1171.4,920.5 L1171.8,920.9 L1172.3,921.2 L1172.8,921.4 L1173.3,921.6 L1173.8,921.7 L1174.3,921.7 L1174.7,921.7 L1175.1,921.6 L1175.5,921.5 L1176,921.3 L1176.4,921.1 L1176.8,920.8 L1177.2,920.5 L1177.6,920.1 L1178,919.7 L1178.4,919.2 L1178.8,918.6 L1179.2,917.9 L1179.6,917.1 L1180.1,916.2 L1180.5,915.3 L1180.9,914.3 L1181.3,913.2 L1181.7,912.1 L1182.1,911 L1182.5,909.8 L1182.9,908.5 L1183.3,907 L1183.7,905.5 L1184.2,904 L1184.6,902.6 L1185,901.2 L1185.4,899.8 L1185.8,898.6 L1186.2,897.3 L1186.6,896.1 L1187,894.9 L1187.4,893.8 L1187.8,892.7 L1188.3,891.7 L1188.7,890.8 L1189.1,889.9 L1189.5,889.1 L1189.9,888.4 L1190.3,887.7 L1190.7,887.1 L1190.9,887.4 L1191.1,887.7 L1191.3,888 L1191.5,888.3 L1191.7,888.7 L1191.9,889 L1192.1,889.4 L1192.2,889.8 L1192.4,890.1 L1192.6,890.5 L1192.8,890.9 L1193,891.4 L1193.2,891.8 L1193.4,892.3 L1193.6,892.8 L1193.8,893.4 L1194,893.9 L1194.1,894.4 L1194.3,894.9 L1194.5,895.4 L1194.7,895.9 L1194.9,896.3 L1195.1,896.8 L1195.3,897.2 L1195.5,897.7 L1195.7,898.1 L1195.9,898.5 L1196.1,898.9 L1196.2,899.3 L1196.4,899.6 L1196.6,899.9 L1196.8,900.2 L1197,900.4 L1197.2,900.6 L1197.4,900.8 L1197.6,900.9 L1197.8,901 L1198,901.1 L1198.1,901.1 L1198.3,901.1 L1198.6,901.1 L1198.8,900.9 L1199,900.6 L1199.3,900.2 L1199.5,899.8 L1199.7,899.4 L1200,898.9 L1200.2,898.1 L1200.4,897.1 L1200.7,896.1 L1200.9,894.9 L1201.2,893.6 L1201.4,892.3 L1201.6,891 L1201.9,889.4 L1202.1,887.8 L1202.3,886 L1202.6,884.1 L1202.8,882 L1203,879.8 L1203.3,877.2 L1203.5,874.2 L1203.7,870.9 L1204,867.6 L1204.2,864.4 L1204.4,861.5 L1204.7,858.5 L1204.9,855.4 L1205.1,852.6 L1205.4,850.3 L1205.6,848.8 L1205.8,847.7 L1206.1,846.7 L1206.3,845.9 L1206.5,845.3 L1206.8,844.9 L1207,844.7 L1207.2,844.5 L1207.5,844.4 L1207.7,844.3 L1208.5,844.6 L1209.2,845 L1209.9,845.4 L1210.6,845.9 L1211.4,846.5 L1212.1,847 L1212.8,847.6 L1213.6,848.2 L1214.1,848.5 L1214.6,849.3 L1215.1,850.4 L1215.5,851.9 L1216,853.6 L1216.5,855.8 L1217,859.5 L1217.5,863.7 L1218,867.3 L1218.5,870.6 L1219,873.7 L1219.5,876.7 L1220,879.7 L1220.5,882.8 L1220.9,885.9 L1221.4,889.2 L1221.9,892.5 L1222.4,895.7 L1222.9,898.8 L1223.4,901.6 L1223.9,904.3 L1224.4,907.1 L1224.9,909.5 L1225.4,911.6 L1225.8,913.2 L1226.3,914.5 L1226.8,915.6 L1227.3,916.7 L1227.8,917.6 L1228.3,918.4 L1228.8,919 L1229.3,919.6 L1229.8,920.1 L1230.3,920.5 L1230.8,920.9 L1231.2,921.2 L1231.7,921.4 L1232.2,921.6 L1232.7,921.7 L1233.2,921.7 L1233.6,921.7 L1234,921.5 L1234.4,921.4 L1234.7,921.1 L1235.1,920.9 L1235.5,920.4 L1235.9,919.9 L1236.3,919.4 L1236.6,918.8 L1237,918.2 L1237.4,917.6 L1237.8,916.9 L1238.2,916.2 L1238.5,915.4 L1238.9,914.6 L1239.3,913.8 L1239.7,913 L1240.1,912.2 L1240.5,911.4 L1240.8,910.6 L1241.2,909.9 L1241.6,909.1 L1242,908.3 L1242.4,907.5 L1242.7,906.7 L1243.1,905.9 L1243.5,905.2 L1243.9,904.5 L1244.3,904 L1244.6,903.5 L1245,903.2 L1245.4,902.9 L1245.8,902.7 L1246.2,902.5 L1246.5,902.3 L1246.9,902.2 L1247.3,902.1 L1247.7,902.1 L1248.1,902 L1248.5,902 L1248.7,902.1 L1248.9,902.2 L1249.2,902.3 L1249.4,902.5 L1249.7,902.7 L1249.9,903 L1250.2,903.3 L1250.4,903.6 L1250.7,904.1 L1250.9,904.6 L1251.2,905.1 L1251.4,905.7 L1251.7,906.2 L1251.9,906.6 L1252.2,907 L1252.4,907.5 L1252.7,907.9 L1252.9,908.3 L1253.2,908.7 L1253.4,909.1 L1253.7,909.5 L1253.9,909.8 L1254.2,910.1 L1254.4,910.4 L1254.7,910.6 L1254.9,910.8 L1255.2,910.9 L1255.4,911 L1255.7,911.1 L1255.9,911.2 L1256.2,911.3 L1256.4,911.4 L1256.7,911.4 L1256.9,911.5 L1257.2,911.5 L1257.4,911.5 L1257.7,911.5 L1257.9,911.6 L1258.2,911.6 L1258.4,911.6 L1258.7,911.5 L1258.9,911.3 L1259.2,911 L1259.4,910.6 L1259.7,910.1 L1260,909.6 L1260.2,908.9 L1260.5,908 L1260.7,906.9 L1261,905.6 L1261.2,904.2 L1261.5,902.8 L1261.7,901.3 L1262,899.7 L1262.3,897.9 L1262.5,895.9 L1262.8,893.8 L1263,891.5 L1263.3,889.1 L1263.5,886.5 L1263.8,883.5 L1264.1,880 L1264.3,876.2 L1264.6,872.3 L1264.8,868.5 L1265.1,865.1 L1265.3,861.5 L1265.6,857.9 L1265.9,854.7 L1266.1,852 L1266.4,850.2 L1266.6,848.9 L1266.9,847.7 L1267.1,846.7 L1267.4,846 L1267.6,845.6 L1267.9,845.4 L1268.2,845.1 L1268.4,845 L1268.7,844.9 L1269.1,845.1 L1269.5,845.4 L1269.8,845.7 L1270.2,846 L1270.6,846.4 L1271,846.8 L1271.4,847.2 L1271.8,847.6 L1272.3,847.9 L1272.8,848.7 L1273.3,849.9 L1273.8,851.3 L1274.3,853 L1274.8,855.2 L1275.3,858.9 L1275.8,863.2 L1276.2,866.9 L1276.7,870.2 L1277.2,873.3 L1277.7,876.3 L1278.2,879.4 L1278.7,882.4 L1279.2,885.6 L1279.7,889 L1280.2,892.3 L1280.7,895.5 L1281.2,898.6 L1281.7,901.4 L1282.2,904.2 L1282.7,906.9 L1283.1,909.4 L1283.6,911.5 L1284.1,913.1 L1284.6,914.4 L1285.1,915.6 L1285.6,916.6 L1286.1,917.5 L1286.6,918.3 L1287.1,919 L1287.6,919.6 L1288.1,920.1 L1288.6,920.5 L1289.1,920.9 L1289.6,921.2 L1290.1,921.4 L1290.5,921.6 L1291,921.7 L1291.5,921.7 L1291.9,921.7 L1292.4,921.6 L1292.8,921.5 L1293.2,921.3 L1293.6,921.1 L1294,920.8 L1294.4,920.5 L1294.8,920.1 L1295.2,919.7 L1295.6,919.2 L1296,918.6 L1296.5,917.9 L1296.9,917.1 L1297.3,916.2 L1297.7,915.3 L1298.1,914.3 L1298.5,913.2 L1298.9,912.1 L1299.3,911 L1299.7,909.8 L1300.1,908.5 L1300.6,907 L1301,905.5 L1301.4,904 L1301.8,902.6 L1302.2,901.2 L1302.6,899.8 L1303,898.6 L1303.4,897.3 L1303.8,896.1 L1304.2,894.9 L1304.7,893.8 L1305.1,892.7 L1305.5,891.7 L1305.9,890.8 L1306.3,889.9 L1306.7,889.1 L1307.1,888.4 L1307.5,887.7 L1307.9,887.1 L1308.1,887.4 L1308.3,887.7 L1308.5,888 L1308.7,888.3 L1308.9,888.7 L1309.1,889 L1309.3,889.4 L1309.5,889.8 L1309.7,890.1 L1309.8,890.5 L1310,890.9 L1310.2,891.4 L1310.4,891.8 L1310.6,892.3 L1310.8,892.8 L1311,893.4 L1311.2,893.9 L1311.4,894.4 L1311.6,894.9 L1311.8,895.4 L1311.9,895.9 L1312.1,896.3 L1312.3,896.8 L1312.5,897.2 L1312.7,897.7 L1312.9,898.1 L1313.1,898.5 L1313.3,898.9 L1313.5,899.3 L1313.7,899.6 L1313.8,899.9 L1314,900.2 L1314.2,900.4 L1314.4,900.6 L1314.6,900.8 L1314.8,900.9 L1315,901 L1315.2,901.1 L1315.4,901.1 L1315.6,901.1 L1315.8,901.1 L1316,900.9 L1316.3,900.6 L1316.5,900.2 L1316.7,899.8 L1317,899.4 L1317.2,898.9 L1317.4,898.1 L1317.7,897.1 L1317.9,896.1 L1318.1,894.9 L1318.4,893.6 L1318.6,892.3 L1318.8,891 L1319.1,889.4 L1319.3,887.8 L1319.5,886 L1319.8,884.1 L1320,882 L1320.2,879.8 L1320.5,877.2 L1320.7,874.2 L1321,870.9 L1321.2,867.6 L1321.4,864.4 L1321.7,861.5 L1321.9,858.5 L1322.1,855.4 L1322.4,852.6 L1322.6,850.3 L1322.8,848.8 L1323.1,847.7 L1323.3,846.7 L1323.5,845.9 L1323.8,845.3 L1324,844.9 L1324.2,844.7 L1324.5,844.5 L1324.7,844.4 L1324.9,844.3 L1325.7,844.6 L1326.4,845 L1327.1,845.4 L1327.9,845.9 L1328.6,846.5 L1329.3,847 L1330.1,847.6 L1330.8,848.2 L1331.3,848.5 L1331.8,849.3 L1332.3,850.4 L1332.8,851.9 L1333.3,853.6 L1333.7,855.8 L1334.2,859.5 L1334.7,863.7 L1335.2,867.3 L1335.7,870.6 L1336.2,873.7 L1336.7,876.7 L1337.2,879.7 L1337.7,882.8 L1338.2,885.9 L1338.7,889.2 L1339.1,892.5 L1339.6,895.7 L1340.1,898.8 L1340.6,901.6 L1341.1,904.3 L1341.6,907.1 L1342.1,909.5 L1342.6,911.6 L1343.1,913.2 L1343.6,914.5 L1344.1,915.6 L1344.5,916.7 L1345,917.6 L1345.5,918.4 L1346,919 L1346.5,919.6 L1347,920.1 L1347.5,920.5 L1348,920.9 L1348.5,921.2 L1349,921.4 L1349.5,921.6 L1349.9,921.7 L1350.4,921.7 L1350.8,921.7 L1351.2,921.5 L1351.6,921.4 L1352,921.1 L1352.3,920.9 L1352.7,920.4 L1353.1,919.9 L1353.5,919.4 L1353.9,918.8 L1354.2,918.2 L1354.6,917.6 L1355,916.9 L1355.4,916.2 L1355.8,915.4 L1356.1,914.6 L1356.5,913.8 L1356.9,913 L1357.3,912.2 L1357.7,911.4 L1358.1,910.6 L1358.4,909.9 L1358.8,909.1 L1359.2,908.3 L1359.6,907.5 L1360,906.7 L1360.3,905.9 L1360.7,905.2 L1361.1,904.5 L1361.5,904 L1361.9,903.5 L1362.2,903.2 L1362.6,902.9 L1363,902.7 L1363.4,902.5 L1363.8,902.3 L1364.1,902.2 L1364.5,902.1 L1364.9,902.1 L1365.3,902 L1365.7,902 L1365.9,902.1 L1366.2,902.2 L1366.4,902.3 L1366.7,902.5 L1366.9,902.7 L1367.2,903 L1367.4,903.3 L1367.7,903.6 L1367.9,904.1 L1368.2,904.6 L1368.4,905.1 L1368.7,905.7 L1368.9,906.2 L1369.2,906.6 L1369.4,907 L1369.7,907.5 L1369.9,907.9 L1370.2,908.3 L1370.4,908.7 L1370.7,909.1 L1370.9,909.5 L1371.2,909.8 L1371.4,910.1 L1371.6,910.4 L1371.9,910.6 L1372.1,910.8 L1372.4,910.9 L1372.6,911 L1372.9,911.1 L1373.1,911.2 L1373.4,911.3 L1373.6,911.4 L1373.9,911.4 L1374.1,911.5 L1374.4,911.5 L1374.6,911.5 L1374.9,911.5 L1375.1,911.6 L1375.4,911.6 L1375.6,911.6 L1375.9,911.5 L1376.1,911.3 L1376.4,911 L1376.7,910.6 L1376.9,910.1 L1377.2,909.6 L1377.4,908.9 L1377.7,908 L1377.9,906.9 L1378.2,905.6 L1378.5,904.2 L1378.7,902.8 L1379,901.3 L1379.2,899.7 L1379.5,897.9 L1379.7,895.9 L1380,893.8 L1380.3,891.5 L1380.5,889.1 L1380.8,886.5 L1381,883.5 L1381.3,880 L1381.5,876.2 L1381.8,872.3 L1382,868.5 L1382.3,865.1 L1382.6,861.5 L1382.8,857.9 L1383.1,854.7 L1383.3,852 L1383.6,850.2 L1383.8,848.9 L1384.1,847.7 L1384.4,846.7 L1384.6,846 L1384.9,845.6 L1385.1,845.4 L1385.4,845.1 L1385.6,845 L1385.9,844.9 L1386.3,845.1 L1386.7,845.4 L1387.1,845.7 L1387.5,846 L1387.9,846.4 L1388.2,846.8 L1388.6,847.2 L1389,847.6 L1389.5,847.9 L1390,848.7 L1390.5,849.9 L1391,851.3 L1391.5,853 L1392,855.2 L1392.5,858.9 L1393,863.2 L1393.5,866.9 L1394,870.2 L1394.5,873.3 L1394.9,876.3 L1395.4,879.4 L1395.9,882.4 L1396.4,885.6 L1396.9,889 L1397.4,892.3 L1397.9,895.5 L1398.4,898.6 L1398.9,901.4 L1399.4,904.2 L1399.9,906.9 L1400.4,909.4 L1400.9,911.5 L1401.4,913.1 L1401.8,914.4 L1402.3,915.6 L1402.8,916.6 L1403.3,917.5 L1403.8,918.3 L1404.3,919 L1404.8,919.6 L1405.3,920.1 L1405.8,920.5 L1406.3,920.9 L1406.8,921.2 L1407.3,921.4 L1407.8,921.6 L1408.3,921.7 L1408.7,921.7 L1409.2,921.7 L1409.6,921.6 L1410,921.5 L1410.4,921.3 L1410.8,921.1 L1411.2,920.8 L1411.6,920.5 L1412,920.1 L1412.4,919.7 L1412.9,919.2 L1413.3,918.6 L1413.7,917.9 L1414.1,917.1 L1414.5,916.2 L1414.9,915.3 L1415.3,914.3 L1415.7,913.2 L1416.1,912.1 L1416.5,911 L1417,909.8 L1417.4,908.5 L1417.8,907 L1418.2,905.5 L1418.6,904 L1419,902.6 L1419.4,901.2 L1419.8,899.8 L1420.2,898.6 L1420.6,897.3 L1421.1,896.1 L1421.5,894.9 L1421.9,893.8 L1422.3,892.7 L1422.7,891.7 L1423.1,890.8 L1423.5,889.9 L1423.9,889.1 L1424.3,888.4 L1424.8,887.7 L1425.2,887.1 L1425.4,887.4 L1425.5,887.7 L1425.7,888 L1425.9,888.3 L1426.1,888.7 L1426.3,889 L1426.5,889.4 L1426.7,889.8 L1426.9,890.1 L1427.1,890.5 L1427.3,890.9 L1427.4,891.4 L1427.6,891.8 L1427.8,892.3 L1428,892.8 L1428.2,893.4 L1428.4,893.9 L1428.6,894.4 L1428.8,894.9 L1429,895.4 L1429.2,895.9 L1429.4,896.3 L1429.5,896.8 L1429.7,897.2 L1429.9,897.7 L1430.1,898.1 L1430.3,898.5 L1430.5,898.9 L1430.7,899.3 L1430.9,899.6 L1431.1,899.9 L1431.3,900.2 L1431.4,900.4 L1431.6,900.6 L1431.8,900.8 L1432,900.9 L1432.2,901 L1432.4,901.1 L1432.6,901.1 L1432.8,901.1" fill="none" stroke="#3b5998" stroke-width="4.0" stroke-linejoin="round" stroke-linecap="butt" /></g>
<rect x="736.2" y="812.7" width="586.1" height="123.1" fill="none" stroke="#000" stroke-width="2.1"/>
<path d="M736.2,930.7 l-9.4,0" stroke="#000" stroke-width="2.1" fill="none"/>
<path d="M736.2,856 l-9.4,0" stroke="#000" stroke-width="2.1" fill="none"/>
<path d="M882.7,935.8 l0,8.9" stroke="#000" stroke-width="2.1" fill="none"/>
<path d="M1029.2,935.8 l0,8.9" stroke="#000" stroke-width="2.1" fill="none"/>
<path d="M1175.8,935.8 l0,8.9" stroke="#000" stroke-width="2.1" fill="none"/>
<path d="M1322.3,935.8 l0,8.9" stroke="#000" stroke-width="2.1" fill="none"/>
<text x="765" y="834.1" font-size="26.2" text-anchor="start" fill="#000" >4<tspan dx="5.32">:</tspan><tspan dx="4.98">1</tspan> Periodic</text>
<clipPath id="c11"><rect x="736.2" y="960.7" width="586.1" height="123.1"/></clipPath>
<g clip-path="url(#c11)"><path d="M733.3,1071.2 L733.7,1071.2 L734.1,1071.1 L734.5,1070.9 L734.9,1070.7 L735.4,1070.4 L735.8,1070 L736.2,1069.6 L736.6,1069.1 L737,1068.5 L737.4,1068 L737.9,1067.4 L738.3,1066.8 L738.7,1066.1 L739.1,1065.4 L739.5,1064.6 L740,1063.9 L740.4,1063.1 L740.8,1062.4 L741.2,1061.6 L741.6,1060.9 L742,1060.2 L742.5,1059.6 L742.9,1058.8 L743.3,1058.1 L743.7,1057.3 L744.1,1056.6 L744.5,1055.9 L745,1055.3 L745.4,1054.8 L745.8,1054.4 L746.2,1054.1 L746.6,1053.9 L747.1,1053.6 L747.5,1053.4 L747.9,1053.3 L748.3,1053.2 L748.7,1053.1 L749.1,1053.1 L749.6,1053 L750,1053 L750.3,1053.1 L750.6,1053.2 L750.9,1053.3 L751.1,1053.5 L751.4,1053.8 L751.7,1054 L752,1054.3 L752.3,1054.7 L752.6,1055.2 L752.9,1055.7 L753.2,1056.2 L753.5,1056.8 L753.8,1057.3 L754.1,1057.8 L754.4,1058.2 L754.7,1058.6 L755,1059 L755.2,1059.5 L755.5,1059.9 L755.8,1060.3 L756.1,1060.7 L756.4,1061.1 L756.7,1061.4 L757,1061.7 L757.3,1061.9 L757.6,1062 L757.9,1062.2 L758.2,1062.3 L758.5,1062.4 L758.8,1062.5 L759.1,1062.6 L759.4,1062.7 L759.6,1062.7 L759.9,1062.8 L760.2,1062.8 L760.5,1062.8 L760.8,1062.8 L761.1,1062.9 L761.4,1062.9 L761.7,1062.9 L762,1062.8 L762.2,1062.8 L762.5,1062.7 L762.8,1062.6 L763,1062.4 L763.3,1062.2 L763.5,1062 L763.8,1061.8 L764.1,1061.4 L764.3,1060.8 L764.6,1060.1 L764.9,1059.3 L765.1,1058.5 L765.4,1057.7 L765.7,1056.8 L765.9,1055.9 L766.2,1054.7 L766.4,1053.3 L766.7,1051.2 L767,1048.1 L767.2,1044.5 L767.5,1040.4 L767.8,1036.2 L768,1032.1 L768.3,1027.8 L768.6,1023.2 L768.8,1018.5 L769.1,1014.1 L769.3,1010.1 L769.6,1006.3 L769.9,1002.8 L770.1,1000.3 L770.4,998.4 L770.7,996.8 L770.9,995.6 L771.2,995 L771.5,994.8 L771.7,994.6 L772,994.5 L772.2,994.4 L772.7,994.6 L773.2,995 L773.7,995.7 L774.2,996.4 L774.7,997.3 L775.2,998.5 L775.7,1000.3 L776.2,1002.4 L776.7,1004.6 L777.2,1007.1 L777.6,1009.9 L778.1,1013.1 L778.6,1016.5 L779.1,1020.4 L779.6,1024.7 L780.1,1028.9 L780.6,1033 L781.1,1036.6 L781.6,1040.1 L782.1,1043.3 L782.6,1046.4 L783,1049.2 L783.5,1052 L784,1054.5 L784.5,1056.7 L785,1058.5 L785.5,1059.9 L786,1061.2 L786.5,1062.4 L787,1063.4 L787.5,1064.3 L788,1065.2 L788.4,1066 L788.9,1066.6 L789.4,1067 L789.9,1067.3 L790.4,1067.5 L790.9,1067.8 L791.4,1067.9 L791.9,1067.9 L792.3,1067.9 L792.7,1067.8 L793.1,1067.6 L793.5,1067.4 L793.9,1067.1 L794.3,1066.8 L794.8,1066.3 L795.2,1065.8 L795.6,1065.2 L796,1064.6 L796.4,1063.9 L796.8,1063 L797.2,1061.9 L797.6,1060.8 L798,1059.6 L798.4,1058.3 L798.9,1056.9 L799.3,1055.5 L799.7,1054.1 L800.1,1052.5 L800.5,1050.8 L800.9,1048.9 L801.3,1047 L801.7,1045.1 L802.1,1043.2 L802.5,1041.3 L803,1039.6 L803.4,1038 L803.8,1036.4 L804.2,1034.8 L804.6,1033.3 L805,1031.8 L805.4,1030.4 L805.8,1029.1 L806.2,1027.9 L806.6,1026.8 L807.1,1025.8 L807.5,1024.8 L807.9,1023.9 L808.3,1023.1 L808.5,1023.6 L808.7,1024.1 L808.9,1024.7 L809.1,1025.3 L809.3,1025.9 L809.5,1026.5 L809.7,1027.1 L809.9,1027.7 L810.1,1028.4 L810.3,1029.1 L810.5,1029.8 L810.8,1030.5 L811,1031.4 L811.2,1032.2 L811.4,1033.1 L811.6,1034 L811.8,1034.9 L812,1035.8 L812.2,1036.6 L812.4,1037.5 L812.6,1038.3 L812.8,1039.1 L813,1039.9 L813.2,1040.6 L813.4,1041.4 L813.6,1042.2 L813.8,1042.9 L814,1043.6 L814.2,1044.2 L814.4,1044.8 L814.6,1045.2 L814.9,1045.7 L815.1,1046.1 L815.3,1046.5 L815.5,1046.8 L815.7,1047 L815.9,1047.1 L816.1,1047.2 L816.3,1047.3 L816.5,1047.3 L816.7,1047.3 L817,1047.1 L817.2,1046.8 L817.5,1046.5 L817.7,1046.1 L817.9,1045.7 L818.2,1045.2 L818.4,1044.4 L818.7,1043.5 L818.9,1042.5 L819.2,1041.3 L819.4,1040.1 L819.6,1038.9 L819.9,1037.6 L820.1,1036.1 L820.4,1034.6 L820.6,1032.8 L820.8,1031 L821.1,1029 L821.3,1026.9 L821.6,1024.4 L821.8,1021.5 L822.1,1018.4 L822.3,1015.2 L822.5,1012.2 L822.8,1009.4 L823,1006.5 L823.3,1003.6 L823.5,1000.9 L823.7,998.7 L824,997.2 L824.2,996.1 L824.5,995.2 L824.7,994.4 L825,993.8 L825.2,993.5 L825.4,993.3 L825.7,993.1 L825.9,993 L826.2,992.9 L826.9,993.2 L827.6,993.6 L828.4,994 L829.1,994.5 L829.8,995.1 L830.6,995.6 L831.3,996.2 L832,996.8 L832.5,997.1 L833,997.9 L833.5,999 L834,1000.4 L834.4,1002.1 L834.9,1004.3 L835.4,1007.9 L835.9,1012 L836.4,1015.6 L836.9,1018.8 L837.3,1021.9 L837.8,1024.8 L838.3,1027.8 L838.8,1030.8 L839.3,1033.9 L839.8,1037.2 L840.2,1040.4 L840.7,1043.6 L841.2,1046.5 L841.7,1049.3 L842.2,1052 L842.7,1054.7 L843.1,1057.1 L843.6,1059.2 L844.1,1060.7 L844.6,1062 L845.1,1063.1 L845.6,1064.1 L846,1065 L846.5,1065.8 L847,1066.5 L847.5,1067 L848,1067.5 L848.5,1068 L849,1068.3 L849.4,1068.6 L849.9,1068.8 L850.4,1069 L850.9,1069.1 L851.4,1069.1 L851.7,1069.1 L852.1,1069 L852.5,1068.9 L852.9,1068.8 L853.2,1068.6 L853.6,1068.3 L854,1068 L854.4,1067.6 L854.7,1067.2 L855.1,1066.9 L855.5,1066.4 L855.9,1066 L856.2,1065.5 L856.6,1065 L857,1064.5 L857.3,1064 L857.7,1063.4 L858.1,1062.9 L858.5,1062.4 L858.8,1061.9 L859.2,1061.4 L859.6,1060.9 L860,1060.4 L860.3,1059.9 L860.7,1059.4 L861.1,1058.8 L861.5,1058.4 L861.8,1057.9 L862.2,1057.6 L862.6,1057.3 L863,1057.1 L863.3,1056.9 L863.7,1056.7 L864.1,1056.6 L864.4,1056.5 L864.8,1056.4 L865.2,1056.4 L865.6,1056.3 L865.9,1056.3 L866.3,1056.3 L866.6,1056.4 L867,1056.5 L867.3,1056.7 L867.6,1056.9 L868,1057.1 L868.3,1057.3 L868.6,1057.6 L869,1058.1 L869.3,1058.6 L869.6,1059.1 L869.9,1059.7 L870.3,1060.3 L870.6,1060.8 L870.9,1061.3 L871.3,1061.8 L871.6,1062.2 L871.9,1062.7 L872.2,1063.2 L872.6,1063.6 L872.9,1064.1 L873.2,1064.5 L873.6,1064.8 L873.9,1065.2 L874.2,1065.5 L874.6,1065.7 L874.9,1065.9 L875.2,1066 L875.5,1066.1 L875.9,1066.3 L876.2,1066.4 L876.5,1066.5 L876.9,1066.5 L877.2,1066.6 L877.5,1066.6 L877.9,1066.7 L878.2,1066.7 L878.5,1066.7 L878.8,1066.7 L879.2,1066.7 L879.5,1066.7 L879.8,1066.7 L880.2,1066.7 L880.5,1066.6 L880.8,1066.4 L881.1,1066.3 L881.5,1066.1 L881.8,1065.9 L882.1,1065.7 L882.5,1065.3 L882.8,1064.7 L883.1,1064 L883.5,1063.2 L883.8,1062.5 L884.1,1061.7 L884.4,1060.9 L884.8,1059.9 L885.1,1058.8 L885.4,1057.4 L885.8,1055.4 L886.1,1052.4 L886.4,1048.8 L886.8,1044.9 L887.1,1040.7 L887.4,1036.8 L887.7,1032.6 L888.1,1028.2 L888.4,1023.6 L888.7,1019.2 L889.1,1015.4 L889.4,1011.7 L889.7,1008.3 L890.1,1005.8 L890.4,1004 L890.7,1002.4 L891,1001.2 L891.4,1000.6 L891.7,1000.4 L892,1000.3 L892.4,1000.2 L892.7,1000.1 L893.1,1000.2 L893.5,1000.6 L893.8,1001.1 L894.2,1001.8 L894.6,1002.5 L895,1003.6 L895.4,1005.1 L895.7,1006.8 L896.1,1008.7 L896.5,1010.8 L896.9,1013.2 L897.3,1015.9 L897.6,1018.7 L898,1022.1 L898.4,1025.7 L898.8,1029.3 L899.2,1032.7 L899.5,1035.8 L899.9,1038.7 L900.3,1041.5 L900.7,1044 L901.1,1046.4 L901.5,1048.8 L901.8,1050.9 L902.2,1052.8 L902.6,1054.3 L903,1055.5 L903.4,1056.6 L903.7,1057.6 L904.1,1058.4 L904.5,1059.2 L904.9,1060 L905.3,1060.6 L905.6,1061.1 L906,1061.4 L906.4,1061.7 L906.8,1061.9 L907.2,1062.1 L907.5,1062.2 L907.9,1062.3 L908.2,1062.2 L908.5,1062.2 L908.8,1062.1 L909,1062 L909.3,1061.8 L909.6,1061.6 L909.9,1061.4 L910.2,1061.2 L910.4,1060.8 L910.7,1060.2 L911,1059.5 L911.3,1058.7 L911.5,1057.9 L911.8,1057.2 L912.1,1056.3 L912.4,1055.4 L912.7,1054.2 L912.9,1052.9 L913.2,1050.8 L913.5,1047.8 L913.8,1044.2 L914.1,1040.2 L914.3,1036 L914.6,1032 L914.9,1027.9 L915.2,1023.3 L915.4,1018.7 L915.7,1014.3 L916,1010.4 L916.3,1006.7 L916.6,1003.3 L916.8,1000.8 L917.1,998.9 L917.4,997.3 L917.7,996.2 L917.9,995.6 L918.2,995.4 L918.5,995.2 L918.8,995.1 L919.1,995 L919.6,995.2 L920,995.6 L920.5,996.2 L921,997 L921.5,997.9 L922,999.1 L922.5,1000.8 L923,1002.9 L923.5,1005.1 L924,1007.6 L924.5,1010.4 L925,1013.5 L925.4,1016.9 L925.9,1020.8 L926.4,1025 L926.9,1029.3 L927.4,1033.3 L927.9,1036.9 L928.4,1040.3 L928.9,1043.5 L929.4,1046.6 L929.9,1049.4 L930.4,1052.1 L930.8,1054.6 L931.3,1056.8 L931.8,1058.5 L932.3,1060 L932.8,1061.3 L933.3,1062.4 L933.8,1063.4 L934.3,1064.4 L934.8,1065.3 L935.3,1066 L935.8,1066.6 L936.2,1067 L936.7,1067.3 L937.2,1067.5 L937.7,1067.8 L938.2,1067.9 L938.7,1067.9 L939.1,1067.9 L939.5,1067.8 L939.9,1067.6 L940.3,1067.3 L940.7,1067.1 L941.1,1066.7 L941.5,1066.2 L941.9,1065.6 L942.3,1064.9 L942.7,1064.2 L943,1063.4 L943.4,1062.4 L943.8,1061.2 L944.2,1060 L944.6,1058.6 L945,1057.2 L945.4,1055.7 L945.8,1054.1 L946.2,1052.6 L946.6,1050.8 L947,1048.8 L947.4,1046.8 L947.8,1044.6 L948.2,1042.5 L948.6,1040.4 L949,1038.3 L949.4,1036.4 L949.8,1034.6 L950.2,1032.8 L950.6,1031.1 L951,1029.3 L951.4,1027.7 L951.8,1026.1 L952.1,1024.7 L952.5,1023.4 L952.9,1022.1 L953.3,1021 L953.7,1019.9 L954.1,1018.9 L954.5,1018 L954.7,1018.7 L955,1019.3 L955.2,1020 L955.4,1020.7 L955.7,1021.5 L955.9,1022.3 L956.1,1023 L956.3,1023.9 L956.6,1024.7 L956.8,1025.6 L957,1026.5 L957.2,1027.4 L957.5,1028.4 L957.7,1029.5 L957.9,1030.6 L958.2,1031.7 L958.4,1032.8 L958.6,1034 L958.8,1035.1 L959.1,1036.2 L959.3,1037.2 L959.5,1038.2 L959.7,1039.1 L960,1040.1 L960.2,1041.1 L960.4,1042 L960.7,1042.9 L960.9,1043.8 L961.1,1044.6 L961.3,1045.3 L961.6,1045.9 L961.8,1046.5 L962,1047 L962.2,1047.4 L962.5,1047.8 L962.7,1048.1 L962.9,1048.2 L963.2,1048.4 L963.4,1048.5 L963.6,1048.5 L963.8,1048.5 L964.1,1048.3 L964.3,1048 L964.5,1047.7 L964.8,1047.3 L965,1046.9 L965.2,1046.3 L965.5,1045.6 L965.7,1044.6 L966,1043.6 L966.2,1042.4 L966.4,1041.2 L966.7,1039.9 L966.9,1038.6 L967.1,1037.1 L967.4,1035.5 L967.6,1033.7 L967.8,1031.8 L968.1,1029.8 L968.3,1027.6 L968.5,1025.1 L968.8,1022.2 L969,1019 L969.2,1015.7 L969.5,1012.6 L969.7,1009.8 L969.9,1006.8 L970.2,1003.8 L970.4,1001 L970.6,998.8 L970.9,997.3 L971.1,996.2 L971.3,995.2 L971.6,994.4 L971.8,993.9 L972,993.5 L972.3,993.3 L972.5,993.1 L972.7,993 L973,992.9 L973.7,993.2 L974.4,993.6 L975.2,994 L975.9,994.5 L976.6,995.1 L977.4,995.6 L978.1,996.2 L978.8,996.8 L979.3,997.1 L979.8,997.9 L980.3,999 L980.7,1000.4 L981.2,1002.1 L981.7,1004.3 L982.1,1007.9 L982.6,1012 L983.1,1015.6 L983.5,1018.8 L984,1021.9 L984.5,1024.8 L984.9,1027.8 L985.4,1030.8 L985.9,1033.9 L986.3,1037.2 L986.8,1040.4 L987.3,1043.6 L987.8,1046.5 L988.2,1049.3 L988.7,1052 L989.2,1054.7 L989.6,1057.1 L990.1,1059.2 L990.6,1060.7 L991,1062 L991.5,1063.1 L992,1064.1 L992.4,1065 L992.9,1065.8 L993.4,1066.5 L993.8,1067 L994.3,1067.5 L994.8,1068 L995.3,1068.3 L995.7,1068.6 L996.2,1068.8 L996.7,1069 L997.1,1069.1 L997.6,1069.1 L998,1069.1 L998.4,1069 L998.7,1068.9 L999.1,1068.8 L999.5,1068.6 L999.9,1068.3 L1000.3,1068 L1000.6,1067.6 L1001,1067.2 L1001.4,1066.9 L1001.8,1066.4 L1002.2,1066 L1002.6,1065.5 L1002.9,1065 L1003.3,1064.5 L1003.7,1064 L1004.1,1063.4 L1004.5,1062.9 L1004.8,1062.4 L1005.2,1061.9 L1005.6,1061.4 L1006,1060.9 L1006.4,1060.4 L1006.7,1059.9 L1007.1,1059.4 L1007.5,1058.8 L1007.9,1058.4 L1008.3,1057.9 L1008.6,1057.6 L1009,1057.3 L1009.4,1057.1 L1009.8,1056.9 L1010.2,1056.7 L1010.6,1056.6 L1010.9,1056.5 L1011.3,1056.4 L1011.7,1056.4 L1012.1,1056.3 L1012.5,1056.3 L1012.8,1056.3 L1013.2,1056.4 L1013.5,1056.5 L1013.9,1056.6 L1014.2,1056.8 L1014.5,1057.1 L1014.9,1057.3 L1015.2,1057.6 L1015.5,1058 L1015.9,1058.5 L1016.2,1059 L1016.5,1059.6 L1016.9,1060.2 L1017.2,1060.7 L1017.6,1061.2 L1017.9,1061.6 L1018.2,1062.1 L1018.6,1062.5 L1018.9,1063 L1019.2,1063.4 L1019.6,1063.8 L1019.9,1064.2 L1020.3,1064.6 L1020.6,1064.9 L1020.9,1065.2 L1021.3,1065.4 L1021.6,1065.6 L1021.9,1065.7 L1022.3,1065.9 L1022.6,1066 L1022.9,1066.1 L1023.3,1066.2 L1023.6,1066.3 L1024,1066.3 L1024.3,1066.3 L1024.6,1066.4 L1025,1066.4 L1025.3,1066.4 L1025.6,1066.4 L1026,1066.4 L1026.3,1066.4 L1026.6,1066.4 L1026.9,1066.4 L1027.3,1066.3 L1027.6,1066.1 L1027.9,1066 L1028.2,1065.8 L1028.5,1065.6 L1028.8,1065.4 L1029.2,1065 L1029.5,1064.4 L1029.8,1063.7 L1030.1,1062.9 L1030.4,1062.1 L1030.7,1061.3 L1031,1060.5 L1031.4,1059.5 L1031.7,1058.4 L1032,1057 L1032.3,1054.9 L1032.6,1051.9 L1032.9,1048.3 L1033.3,1044.3 L1033.6,1040.1 L1033.9,1036.1 L1034.2,1031.9 L1034.5,1027.3 L1034.8,1022.7 L1035.1,1018.3 L1035.5,1014.4 L1035.8,1010.6 L1036.1,1007.2 L1036.4,1004.7 L1036.7,1002.8 L1037,1001.2 L1037.3,1000.1 L1037.7,999.5 L1038,999.2 L1038.3,999.1 L1038.6,999 L1038.9,998.9 L1039.3,999.1 L1039.7,999.4 L1040.1,1000 L1040.5,1000.7 L1040.9,1001.4 L1041.3,1002.5 L1041.7,1004.1 L1042.1,1005.9 L1042.5,1007.9 L1042.9,1010.1 L1043.3,1012.6 L1043.7,1015.3 L1044.1,1018.3 L1044.5,1021.8 L1044.9,1025.6 L1045.3,1029.4 L1045.6,1032.9 L1046,1036.1 L1046.4,1039.2 L1046.8,1042 L1047.2,1044.7 L1047.6,1047.2 L1048,1049.7 L1048.4,1051.9 L1048.8,1053.9 L1049.2,1055.4 L1049.6,1056.7 L1050,1057.8 L1050.4,1058.8 L1050.8,1059.7 L1051.2,1060.6 L1051.6,1061.4 L1052,1062.1 L1052.4,1062.6 L1052.8,1062.9 L1053.2,1063.2 L1053.6,1063.4 L1054,1063.6 L1054.3,1063.7 L1054.7,1063.8 L1055,1063.7 L1055.3,1063.7 L1055.6,1063.6 L1055.9,1063.5 L1056.2,1063.3 L1056.5,1063.1 L1056.8,1062.9 L1057.1,1062.7 L1057.4,1062.3 L1057.7,1061.7 L1058,1061 L1058.3,1060.2 L1058.7,1059.4 L1059,1058.6 L1059.3,1057.8 L1059.6,1056.8 L1059.9,1055.7 L1060.2,1054.3 L1060.5,1052.2 L1060.8,1049.2 L1061.1,1045.6 L1061.4,1041.6 L1061.7,1037.4 L1062,1033.4 L1062.3,1029.2 L1062.6,1024.6 L1062.9,1020 L1063.2,1015.6 L1063.5,1011.7 L1063.8,1007.9 L1064.1,1004.5 L1064.4,1002 L1064.7,1000.1 L1065,998.5 L1065.3,997.4 L1065.6,996.8 L1065.9,996.5 L1066.2,996.4 L1066.5,996.3 L1066.8,996.2 L1067.2,996.4 L1067.7,996.8 L1068.1,997.4 L1068.6,998.2 L1069,999 L1069.5,1000.2 L1069.9,1001.9 L1070.4,1003.9 L1070.8,1006.1 L1071.3,1008.5 L1071.8,1011.2 L1072.2,1014.2 L1072.7,1017.5 L1073.1,1021.3 L1073.6,1025.5 L1074,1029.6 L1074.5,1033.5 L1074.9,1037.1 L1075.4,1040.4 L1075.8,1043.5 L1076.3,1046.5 L1076.8,1049.2 L1077.2,1051.9 L1077.7,1054.4 L1078.1,1056.5 L1078.6,1058.2 L1079,1059.6 L1079.5,1060.9 L1079.9,1062 L1080.4,1062.9 L1080.8,1063.9 L1081.3,1064.7 L1081.7,1065.5 L1082.2,1066.1 L1082.7,1066.4 L1083.1,1066.7 L1083.6,1067 L1084,1067.2 L1084.5,1067.3 L1084.9,1067.3 L1085.3,1067.3 L1085.7,1067.1 L1086,1066.9 L1086.4,1066.6 L1086.8,1066.2 L1087.1,1065.8 L1087.5,1065.1 L1087.9,1064.4 L1088.2,1063.6 L1088.6,1062.8 L1089,1061.7 L1089.3,1060.5 L1089.7,1059 L1090.1,1057.5 L1090.4,1055.8 L1090.8,1054 L1091.2,1052.1 L1091.5,1050.2 L1091.9,1048.3 L1092.3,1046.1 L1092.6,1043.6 L1093,1041.1 L1093.4,1038.4 L1093.7,1035.8 L1094.1,1033.1 L1094.5,1030.6 L1094.8,1028.3 L1095.2,1026 L1095.6,1023.8 L1095.9,1021.6 L1096.3,1019.5 L1096.7,1017.4 L1097,1015.5 L1097.4,1013.7 L1097.8,1012.1 L1098.1,1010.6 L1098.5,1009.1 L1098.8,1007.8 L1099.2,1006.6 L1099.6,1005.5 L1099.9,1006.6 L1100.2,1007.7 L1100.5,1008.9 L1100.8,1010.1 L1101.1,1011.4 L1101.4,1012.7 L1101.7,1014 L1102,1015.4 L1102.4,1016.9 L1102.7,1018.3 L1103,1019.8 L1103.3,1021.4 L1103.6,1023.2 L1103.9,1025 L1104.2,1026.9 L1104.5,1028.8 L1104.8,1030.7 L1105.1,1032.7 L1105.4,1034.6 L1105.7,1036.4 L1106,1038.2 L1106.4,1039.8 L1106.7,1041.5 L1107,1043.1 L1107.3,1044.8 L1107.6,1046.4 L1107.9,1048 L1108.2,1049.4 L1108.5,1050.8 L1108.8,1052 L1109.1,1053 L1109.4,1054 L1109.7,1054.9 L1110,1055.6 L1110.4,1056.3 L1110.7,1056.7 L1111,1057 L1111.3,1057.2 L1111.6,1057.4 L1111.9,1057.5 L1112.1,1057.4 L1112.4,1057.2 L1112.6,1056.9 L1112.9,1056.5 L1113.1,1056 L1113.3,1055.5 L1113.6,1054.9 L1113.8,1054 L1114.1,1053 L1114.3,1051.7 L1114.5,1050.4 L1114.8,1049 L1115,1047.5 L1115.3,1045.9 L1115.5,1044.2 L1115.8,1042.3 L1116,1040.3 L1116.2,1038.1 L1116.5,1035.7 L1116.7,1033.2 L1117,1030.3 L1117.2,1026.9 L1117.5,1023.2 L1117.7,1019.4 L1117.9,1015.8 L1118.2,1012.5 L1118.4,1009 L1118.7,1005.5 L1118.9,1002.3 L1119.1,999.8 L1119.4,998 L1119.6,996.7 L1119.9,995.6 L1120.1,994.7 L1120.4,994 L1120.6,993.6 L1120.8,993.3 L1121.1,993.1 L1121.3,993 L1121.6,992.9 L1122.3,993.2 L1123,993.6 L1123.8,994 L1124.5,994.5 L1125.2,995.1 L1126,995.6 L1126.7,996.2 L1127.4,996.8 L1127.8,997.1 L1128.3,997.9 L1128.7,999 L1129.1,1000.4 L1129.5,1002.1 L1130,1004.3 L1130.4,1007.9 L1130.8,1012 L1131.2,1015.6 L1131.7,1018.8 L1132.1,1021.9 L1132.5,1024.8 L1132.9,1027.8 L1133.4,1030.8 L1133.8,1033.9 L1134.2,1037.2 L1134.6,1040.4 L1135.1,1043.6 L1135.5,1046.5 L1135.9,1049.3 L1136.3,1052 L1136.8,1054.7 L1137.2,1057.1 L1137.6,1059.2 L1138,1060.7 L1138.5,1062 L1138.9,1063.1 L1139.3,1064.1 L1139.7,1065 L1140.2,1065.8 L1140.6,1066.5 L1141,1067 L1141.4,1067.5 L1141.9,1068 L1142.3,1068.3 L1142.7,1068.6 L1143.1,1068.8 L1143.6,1069 L1144,1069.1 L1144.4,1069.1 L1144.8,1069.1 L1145.2,1068.9 L1145.6,1068.7 L1146,1068.5 L1146.4,1068.2 L1146.8,1067.7 L1147.2,1067.2 L1147.6,1066.6 L1148,1066 L1148.4,1065.4 L1148.8,1064.7 L1149.2,1063.9 L1149.6,1063.1 L1150,1062.3 L1150.4,1061.5 L1150.7,1060.6 L1151.1,1059.7 L1151.5,1058.8 L1151.9,1058 L1152.3,1057.2 L1152.7,1056.4 L1153.1,1055.6 L1153.5,1054.7 L1153.9,1053.8 L1154.3,1053 L1154.7,1052.1 L1155.1,1051.3 L1155.5,1050.6 L1155.9,1050 L1156.3,1049.6 L1156.7,1049.2 L1157.1,1048.9 L1157.5,1048.6 L1157.9,1048.4 L1158.3,1048.3 L1158.7,1048.1 L1159.1,1048.1 L1159.5,1048 L1159.8,1047.9 L1160.2,1047.9 L1160.5,1048 L1160.7,1048.1 L1160.9,1048.2 L1161.2,1048.4 L1161.4,1048.6 L1161.6,1048.8 L1161.9,1049.1 L1162.1,1049.4 L1162.4,1049.9 L1162.6,1050.3 L1162.8,1050.8 L1163.1,1051.3 L1163.3,1051.8 L1163.5,1052.3 L1163.8,1052.6 L1164,1053 L1164.2,1053.4 L1164.5,1053.8 L1164.7,1054.2 L1164.9,1054.6 L1165.2,1054.9 L1165.4,1055.3 L1165.6,1055.5 L1165.9,1055.8 L1166.1,1056 L1166.3,1056.1 L1166.6,1056.3 L1166.8,1056.4 L1167,1056.5 L1167.3,1056.6 L1167.5,1056.6 L1167.7,1056.7 L1168,1056.8 L1168.2,1056.8 L1168.4,1056.8 L1168.7,1056.8 L1168.9,1056.9 L1169.2,1056.9 L1169.4,1056.9 L1169.6,1056.9 L1169.9,1056.8 L1170.1,1056.6 L1170.4,1056.3 L1170.6,1055.9 L1170.9,1055.5 L1171.2,1055 L1171.4,1054.3 L1171.7,1053.5 L1171.9,1052.4 L1172.2,1051.2 L1172.4,1049.9 L1172.7,1048.4 L1173,1047 L1173.2,1045.5 L1173.5,1043.7 L1173.7,1041.9 L1174,1039.8 L1174.2,1037.7 L1174.5,1035.3 L1174.7,1032.8 L1175,1030 L1175.3,1026.6 L1175.5,1022.9 L1175.8,1019.2 L1176,1015.6 L1176.3,1012.3 L1176.5,1008.9 L1176.8,1005.4 L1177.1,1002.3 L1177.3,999.7 L1177.6,998 L1177.8,996.7 L1178.1,995.6 L1178.3,994.7 L1178.6,994 L1178.9,993.6 L1179.1,993.3 L1179.4,993.1 L1179.6,993 L1179.9,992.9 L1180.6,993.2 L1181.3,993.6 L1182.1,994 L1182.8,994.5 L1183.5,995.1 L1184.3,995.6 L1185,996.2 L1185.7,996.8 L1186.2,997.1 L1186.6,997.9 L1187,999 L1187.4,1000.4 L1187.9,1002.1 L1188.3,1004.3 L1188.7,1007.9 L1189.1,1012 L1189.6,1015.6 L1190,1018.8 L1190.4,1021.9 L1190.8,1024.8 L1191.3,1027.8 L1191.7,1030.8 L1192.1,1033.9 L1192.5,1037.2 L1193,1040.4 L1193.4,1043.6 L1193.8,1046.5 L1194.2,1049.3 L1194.7,1052 L1195.1,1054.7 L1195.5,1057.1 L1195.9,1059.2 L1196.4,1060.7 L1196.8,1062 L1197.2,1063.1 L1197.6,1064.1 L1198.1,1065 L1198.5,1065.8 L1198.9,1066.5 L1199.3,1067 L1199.8,1067.5 L1200.2,1068 L1200.6,1068.3 L1201,1068.6 L1201.5,1068.8 L1201.9,1069 L1202.3,1069.1 L1202.7,1069.1 L1203.1,1069.1 L1203.5,1069 L1203.9,1068.8 L1204.3,1068.6 L1204.7,1068.3 L1205.1,1068 L1205.5,1067.5 L1205.9,1067 L1206.3,1066.5 L1206.7,1066 L1207.1,1065.4 L1207.5,1064.7 L1207.9,1064.1 L1208.3,1063.4 L1208.7,1062.7 L1209.1,1061.9 L1209.5,1061.2 L1209.9,1060.4 L1210.3,1059.7 L1210.6,1059 L1211,1058.3 L1211.4,1057.7 L1211.8,1057 L1212.2,1056.2 L1212.6,1055.5 L1213,1054.8 L1213.4,1054.1 L1213.8,1053.5 L1214.2,1053 L1214.6,1052.6 L1215,1052.3 L1215.4,1052 L1215.8,1051.8 L1216.2,1051.6 L1216.6,1051.5 L1217,1051.4 L1217.4,1051.3 L1217.8,1051.3 L1218.2,1051.2 L1218.6,1051.2 L1218.8,1051.3 L1219.1,1051.4 L1219.3,1051.5 L1219.6,1051.7 L1219.8,1051.9 L1220.1,1052.2 L1220.3,1052.5 L1220.6,1052.8 L1220.8,1053.3 L1221.1,1053.8 L1221.3,1054.3 L1221.5,1054.9 L1221.8,1055.4 L1222,1055.8 L1222.3,1056.2 L1222.5,1056.6 L1222.8,1057.1 L1223,1057.5 L1223.3,1057.9 L1223.5,1058.3 L1223.8,1058.7 L1224,1059 L1224.3,1059.3 L1224.5,1059.6 L1224.8,1059.8 L1225,1060 L1225.3,1060.1 L1225.5,1060.2 L1225.8,1060.3 L1226,1060.4 L1226.3,1060.5 L1226.5,1060.6 L1226.8,1060.6 L1227,1060.7 L1227.3,1060.7 L1227.5,1060.7 L1227.8,1060.7 L1228,1060.8 L1228.3,1060.8 L1228.5,1060.8 L1228.8,1060.7 L1229.1,1060.5 L1229.4,1060.2 L1229.7,1059.7 L1230,1059.3 L1230.2,1058.8 L1230.5,1058.1 L1230.8,1057.2 L1231.1,1056.1 L1231.4,1054.8 L1231.7,1053.4 L1232,1051.9 L1232.2,1050.4 L1232.5,1048.7 L1232.8,1046.9 L1233.1,1045 L1233.4,1042.9 L1233.7,1040.6 L1234,1038.1 L1234.2,1035.5 L1234.5,1032.5 L1234.8,1028.9 L1235.1,1025 L1235.4,1021.1 L1235.7,1017.3 L1236,1013.9 L1236.2,1010.3 L1236.5,1006.7 L1236.8,1003.3 L1237.1,1000.6 L1237.4,998.8 L1237.7,997.5 L1238,996.3 L1238.2,995.4 L1238.5,994.6 L1238.8,994.2 L1239.1,994 L1239.4,993.7 L1239.7,993.6 L1240,993.5 L1240.7,993.8 L1241.4,994.2 L1242.2,994.6 L1242.9,995.1 L1243.6,995.7 L1244.3,996.2 L1245.1,996.8 L1245.8,997.4 L1246.2,997.7 L1246.6,998.4 L1247,999.6 L1247.3,1001 L1247.7,1002.6 L1248.1,1004.7 L1248.5,1008.3 L1248.9,1012.3 L1249.2,1015.9 L1249.6,1019 L1250,1022 L1250.4,1025 L1250.8,1027.9 L1251.1,1030.8 L1251.5,1033.9 L1251.9,1037.1 L1252.3,1040.3 L1252.7,1043.4 L1253.1,1046.3 L1253.4,1049 L1253.8,1051.7 L1254.2,1054.3 L1254.6,1056.7 L1255,1058.8 L1255.3,1060.3 L1255.7,1061.5 L1256.1,1062.6 L1256.5,1063.6 L1256.9,1064.5 L1257.2,1065.3 L1257.6,1065.9 L1258,1066.5 L1258.4,1067 L1258.8,1067.4 L1259.1,1067.7 L1259.5,1068 L1259.9,1068.2 L1260.3,1068.4 L1260.7,1068.5 L1261.1,1068.5 L1261.5,1068.5 L1261.9,1068.4 L1262.3,1068.3 L1262.8,1068.2 L1263.2,1068 L1263.6,1067.8 L1264,1067.5 L1264.5,1067.2 L1264.9,1066.8 L1265.3,1066.4 L1265.7,1065.9 L1266.2,1065.3 L1266.6,1064.7 L1267,1063.9 L1267.4,1063.1 L1267.9,1062.3 L1268.3,1061.4 L1268.7,1060.5 L1269.1,1059.6 L1269.6,1058.6 L1270,1057.4 L1270.4,1056.2 L1270.8,1055 L1271.3,1053.7 L1271.7,1052.5 L1272.1,1051.3 L1272.5,1050.2 L1273,1049.2 L1273.4,1048.1 L1273.8,1047.1 L1274.2,1046.1 L1274.7,1045.2 L1275.1,1044.3 L1275.5,1043.4 L1275.9,1042.7 L1276.3,1041.9 L1276.8,1041.3 L1277.2,1040.6 L1277.6,1040.1 L1278,1039.6 L1278.2,1039.8 L1278.4,1040 L1278.6,1040.3 L1278.8,1040.5 L1279,1040.8 L1279.1,1041 L1279.3,1041.3 L1279.5,1041.6 L1279.7,1041.9 L1279.9,1042.2 L1280.1,1042.5 L1280.2,1042.9 L1280.4,1043.2 L1280.6,1043.6 L1280.8,1044 L1281,1044.4 L1281.2,1044.8 L1281.3,1045.2 L1281.5,1045.6 L1281.7,1046 L1281.9,1046.3 L1282.1,1046.7 L1282.3,1047 L1282.4,1047.3 L1282.6,1047.7 L1282.8,1048 L1283,1048.3 L1283.2,1048.6 L1283.4,1048.9 L1283.5,1049.2 L1283.7,1049.4 L1283.9,1049.6 L1284.1,1049.8 L1284.3,1049.9 L1284.5,1050.1 L1284.6,1050.2 L1284.8,1050.2 L1285,1050.3 L1285.2,1050.3 L1285.4,1050.3 L1285.6,1050.2 L1285.9,1050.1 L1286.1,1049.8 L1286.4,1049.4 L1286.6,1049 L1286.9,1048.6 L1287.1,1048 L1287.4,1047.3 L1287.6,1046.3 L1287.9,1045.2 L1288.1,1044 L1288.4,1042.7 L1288.6,1041.4 L1288.9,1040.1 L1289.1,1038.5 L1289.4,1036.8 L1289.6,1035 L1289.9,1033.1 L1290.1,1031 L1290.4,1028.7 L1290.6,1026.2 L1290.9,1023.1 L1291.1,1019.8 L1291.4,1016.5 L1291.6,1013.3 L1291.9,1010.3 L1292.1,1007.2 L1292.4,1004.1 L1292.6,1001.3 L1292.8,999 L1293.1,997.5 L1293.3,996.3 L1293.6,995.3 L1293.8,994.5 L1294.1,993.9 L1294.3,993.5 L1294.6,993.3 L1294.8,993.1 L1295.1,993 L1295.3,992.9 L1296.1,993.2 L1296.8,993.6 L1297.5,994 L1298.3,994.5 L1299,995.1 L1299.7,995.6 L1300.5,996.2 L1301.2,996.8 L1301.8,997.1 L1302.3,997.9 L1302.9,999.1 L1303.5,1000.6 L1304,1002.2 L1304.6,1004.5 L1305.1,1008.2 L1305.7,1012.5 L1306.3,1016.3 L1306.8,1019.5 L1307.4,1022.7 L1308,1025.8 L1308.5,1028.8 L1309.1,1031.9 L1309.7,1035.1 L1310.2,1038.5 L1310.8,1041.8 L1311.4,1045.1 L1311.9,1048.2 L1312.5,1051 L1313,1053.9 L1313.6,1056.6 L1314.2,1059.1 L1314.7,1061.2 L1315.3,1062.8 L1315.9,1064.1 L1316.4,1065.3 L1317,1066.4 L1317.6,1067.3 L1318.1,1068.1 L1318.7,1068.8 L1319.3,1069.4 L1319.8,1069.9 L1320.4,1070.3 L1320.9,1070.7 L1321.5,1071 L1322.1,1071.2 L1322.6,1071.4 L1323.2,1071.5 L1323.8,1071.5" fill="none" stroke="#3b5998" stroke-width="4.0" stroke-linejoin="round" stroke-linecap="butt" /></g>
<rect x="736.2" y="960.7" width="586.1" height="123.1" fill="none" stroke="#000" stroke-width="2.1"/>
<path d="M736.2,1078.7 l-9.4,0" stroke="#000" stroke-width="2.1" fill="none"/>
<path d="M736.2,1004 l-9.4,0" stroke="#000" stroke-width="2.1" fill="none"/>
<path d="M882.7,1083.8 l0,8.9" stroke="#000" stroke-width="2.1" fill="none"/>
<path d="M1029.2,1083.8 l0,8.9" stroke="#000" stroke-width="2.1" fill="none"/>
<path d="M1175.8,1083.8 l0,8.9" stroke="#000" stroke-width="2.1" fill="none"/>
<path d="M1322.3,1083.8 l0,8.9" stroke="#000" stroke-width="2.1" fill="none"/>
<text x="765" y="983.6" font-size="26.2" text-anchor="start" fill="#000" >Chaotic</text>
<clipPath id="c12"><rect x="736.2" y="1108.7" width="586.1" height="123.1"/></clipPath>
<g clip-path="url(#c12)"><path d="M736.2,1217.7 L736.2,1111.7 L736.7,1115.9 L737.1,1119.9 L737.6,1123.5 L738.1,1126.7 L738.5,1129.5 L739,1131.9 L739.5,1133.9 L739.9,1135.7 L740.4,1137.2 L740.9,1138.6 L741.3,1139.8 L741.8,1140.9 L742.3,1141.7 L742.7,1142.5 L743.2,1143.3 L743.7,1144 L744.1,1144.8 L744.6,1145.7 L745.1,1146.8 L745.5,1148 L746,1149.3 L746.5,1150.7 L746.9,1152.3 L747.4,1154.2 L747.9,1156.2 L748.3,1159 L748.8,1162.7 L749.3,1167 L749.7,1171.3 L750.2,1175.4 L750.7,1179.2 L751.1,1183 L751.6,1186.7 L752.1,1190.2 L752.5,1193.4 L753,1196.3 L753.5,1199.2 L753.9,1201.8 L754.4,1204.2 L754.9,1206.1 L755.3,1207.7 L755.8,1209.1 L756.3,1210.5 L756.7,1211.7 L757.2,1212.7 L757.7,1213.5 L758.1,1214.1 L758.6,1214.5 L759.1,1214.9 L759.5,1215.3 L760,1215.7 L760.5,1216 L760.9,1216.3 L761.4,1216.5 L761.9,1216.7 L762.3,1216.9 L762.8,1217 L763.3,1217.1 L763.7,1217.1 L764.1,1217.1 L764.5,1217 L764.9,1216.8 L765.3,1216.7 L765.7,1216.4 L766,1216.1 L766.4,1215.7 L766.8,1215.3 L767.2,1214.8 L767.6,1214.4 L767.9,1213.9 L768.3,1213.3 L768.7,1212.8 L769.1,1212.1 L769.5,1211.5 L769.8,1210.9 L770.2,1210.2 L770.6,1209.6 L771,1209 L771.4,1208.4 L771.7,1207.8 L772.1,1207.2 L772.5,1206.6 L772.9,1205.9 L773.3,1205.3 L773.7,1204.7 L774,1204.1 L774.4,1203.6 L774.8,1203.1 L775.2,1202.8 L775.6,1202.5 L775.9,1202.3 L776.3,1202.1 L776.7,1202 L777.1,1201.8 L777.5,1201.8 L777.8,1201.7 L778.2,1201.6 L778.6,1201.6 L779,1201.6 L779.3,1201.7 L779.6,1201.8 L779.9,1202 L780.2,1202.2 L780.5,1202.4 L780.7,1202.7 L781,1203 L781.3,1203.5 L781.6,1204 L781.9,1204.6 L782.2,1205.2 L782.5,1205.8 L782.8,1206.4 L783.1,1206.9 L783.4,1207.4 L783.7,1207.9 L784,1208.4 L784.3,1208.9 L784.6,1209.3 L784.8,1209.8 L785.1,1210.2 L785.4,1210.6 L785.7,1211 L786,1211.3 L786.3,1211.6 L786.6,1211.7 L786.9,1211.9 L787.2,1212 L787.5,1212.1 L787.8,1212.3 L788.1,1212.4 L788.4,1212.4 L788.7,1212.5 L788.9,1212.5 L789.2,1212.6 L789.5,1212.6 L789.8,1212.6 L790.1,1212.6 L790.4,1212.7 L790.7,1212.7 L791,1212.6 L791.3,1212.6 L791.6,1212.5 L791.9,1212.3 L792.2,1212.2 L792.6,1212 L792.9,1211.8 L793.2,1211.6 L793.5,1211.2 L793.8,1210.6 L794.1,1209.9 L794.4,1209.1 L794.7,1208.3 L795,1207.5 L795.3,1206.6 L795.6,1205.6 L795.9,1204.5 L796.2,1203.1 L796.6,1201 L796.9,1197.9 L797.2,1194.3 L797.5,1190.2 L797.8,1186 L798.1,1181.9 L798.4,1177.6 L798.7,1173 L799,1168.3 L799.3,1163.9 L799.6,1159.9 L799.9,1156.1 L800.2,1152.6 L800.6,1150 L800.9,1148.2 L801.2,1146.6 L801.5,1145.4 L801.8,1144.8 L802.1,1144.6 L802.4,1144.4 L802.7,1144.3 L803,1144.2 L803.5,1144.4 L803.9,1144.8 L804.4,1145.4 L804.8,1146.2 L805.2,1147 L805.7,1148.2 L806.1,1149.9 L806.6,1151.9 L807,1154.1 L807.5,1156.5 L807.9,1159.2 L808.4,1162.2 L808.8,1165.5 L809.3,1169.3 L809.7,1173.5 L810.2,1177.6 L810.6,1181.5 L811.1,1185.1 L811.5,1188.4 L812,1191.5 L812.4,1194.5 L812.8,1197.2 L813.3,1199.9 L813.7,1202.4 L814.2,1204.5 L814.6,1206.2 L815.1,1207.6 L815.5,1208.9 L816,1210 L816.4,1210.9 L816.9,1211.9 L817.3,1212.7 L817.8,1213.5 L818.2,1214.1 L818.7,1214.4 L819.1,1214.7 L819.6,1215 L820,1215.2 L820.4,1215.3 L820.9,1215.3 L821.3,1215.3 L821.7,1215.1 L822.1,1214.9 L822.4,1214.6 L822.8,1214.3 L823.2,1213.8 L823.6,1213.3 L824,1212.6 L824.4,1211.8 L824.8,1211 L825.2,1210 L825.6,1208.9 L825.9,1207.5 L826.3,1206 L826.7,1204.4 L827.1,1202.8 L827.5,1201 L827.9,1199.2 L828.3,1197.4 L828.7,1195.3 L829,1193 L829.4,1190.6 L829.8,1188.1 L830.2,1185.6 L830.6,1183.1 L831,1180.8 L831.4,1178.5 L831.8,1176.4 L832.2,1174.3 L832.5,1172.3 L832.9,1170.3 L833.3,1168.3 L833.7,1166.5 L834.1,1164.8 L834.5,1163.3 L834.9,1161.9 L835.3,1160.5 L835.6,1159.3 L836,1158.1 L836.4,1157.1 L836.7,1158 L836.9,1159 L837.2,1160 L837.4,1161.1 L837.7,1162.2 L838,1163.4 L838.2,1164.6 L838.5,1165.8 L838.7,1167.1 L839,1168.4 L839.2,1169.7 L839.5,1171.1 L839.8,1172.6 L840,1174.2 L840.3,1175.9 L840.5,1177.6 L840.8,1179.3 L841,1181 L841.3,1182.6 L841.6,1184.3 L841.8,1185.8 L842.1,1187.3 L842.3,1188.7 L842.6,1190.2 L842.8,1191.6 L843.1,1193.1 L843.3,1194.4 L843.6,1195.7 L843.9,1196.9 L844.1,1197.9 L844.4,1198.9 L844.6,1199.7 L844.9,1200.5 L845.1,1201.2 L845.4,1201.7 L845.7,1202.1 L845.9,1202.4 L846.2,1202.6 L846.4,1202.7 L846.7,1202.8 L846.9,1202.7 L847.2,1202.5 L847.4,1202.2 L847.7,1201.8 L848,1201.4 L848.2,1200.9 L848.5,1200.3 L848.7,1199.5 L849,1198.4 L849.2,1197.2 L849.5,1195.9 L849.8,1194.6 L850,1193.1 L850.3,1191.6 L850.5,1190 L850.8,1188.1 L851,1186.2 L851.3,1184 L851.6,1181.7 L851.8,1179.3 L852.1,1176.5 L852.3,1173.2 L852.6,1169.6 L852.8,1166 L853.1,1162.5 L853.3,1159.2 L853.6,1155.9 L853.9,1152.5 L854.1,1149.4 L854.4,1146.9 L854.6,1145.3 L854.9,1144 L855.1,1142.9 L855.4,1142 L855.7,1141.4 L855.9,1141 L856.2,1140.7 L856.4,1140.5 L856.7,1140.4 L856.9,1140.3 L857.7,1140.6 L858.4,1141 L859.1,1141.4 L859.9,1141.9 L860.6,1142.5 L861.3,1143 L862.1,1143.6 L862.8,1144.2 L863.3,1144.5 L863.7,1145.3 L864.2,1146.4 L864.6,1147.9 L865.1,1149.6 L865.5,1151.8 L866,1155.5 L866.4,1159.7 L866.9,1163.3 L867.3,1166.6 L867.8,1169.7 L868.2,1172.7 L868.7,1175.7 L869.2,1178.8 L869.6,1181.9 L870.1,1185.2 L870.5,1188.5 L871,1191.7 L871.4,1194.8 L871.9,1197.6 L872.3,1200.3 L872.8,1203.1 L873.2,1205.5 L873.7,1207.6 L874.2,1209.2 L874.6,1210.5 L875.1,1211.6 L875.5,1212.7 L876,1213.6 L876.4,1214.4 L876.9,1215 L877.3,1215.6 L877.8,1216.1 L878.2,1216.5 L878.7,1216.9 L879.1,1217.2 L879.6,1217.4 L880.1,1217.6 L880.5,1217.7 L881,1217.7 L881.3,1217.7 L881.6,1217.6 L881.9,1217.6 L882.3,1217.5 L882.6,1217.3 L882.9,1217.1 L883.2,1216.9 L883.5,1216.7 L883.9,1216.4 L884.2,1216.1 L884.5,1215.9 L884.8,1215.5 L885.2,1215.2 L885.5,1214.9 L885.8,1214.5 L886.1,1214.1 L886.4,1213.8 L886.8,1213.4 L887.1,1213 L887.4,1212.7 L887.7,1212.3 L888.1,1212 L888.4,1211.6 L888.7,1211.3 L889,1210.9 L889.3,1210.6 L889.7,1210.2 L890,1209.9 L890.3,1209.7 L890.6,1209.5 L891,1209.3 L891.3,1209.2 L891.6,1209.1 L891.9,1209 L892.2,1208.9 L892.6,1208.9 L892.9,1208.8 L893.2,1208.8 L893.5,1208.8 L893.9,1208.8 L894.3,1208.9 L894.7,1209 L895.1,1209.2 L895.6,1209.4 L896,1209.7 L896.4,1210 L896.8,1210.3 L897.3,1210.8 L897.7,1211.4 L898.1,1212 L898.5,1212.7 L899,1213.3 L899.4,1214 L899.8,1214.5 L900.2,1215.1 L900.7,1215.6 L901.1,1216.1 L901.5,1216.6 L901.9,1217.1 L902.4,1217.6 L902.8,1218.1 L903.2,1218.6 L903.6,1218.9 L904.1,1219.3 L904.5,1219.5 L904.9,1219.7 L905.3,1219.9 L905.8,1220 L906.2,1220.2 L906.6,1220.3 L907,1220.4 L907.5,1220.5 L907.9,1220.6 L908.3,1220.6 L908.7,1220.6 L909.2,1220.7 L909.6,1220.7 L910,1220.7 L910.4,1220.7 L910.9,1220.7 L911.1,1220.7 L911.3,1220.7 L911.5,1220.7 L911.7,1220.7 L912,1220.6 L912.2,1220.6 L912.4,1220.6 L912.6,1220.5 L912.8,1220.5 L913.1,1220.4 L913.3,1220.3 L913.5,1220.3 L913.7,1220.2 L913.9,1220.1 L914.2,1220.1 L914.4,1220 L914.6,1219.9 L914.8,1219.9 L915,1219.8 L915.3,1219.7 L915.5,1219.6 L915.7,1219.6 L915.9,1219.5 L916.1,1219.4 L916.4,1219.4 L916.6,1219.3 L916.8,1219.2 L917,1219.2 L917.2,1219.1 L917.5,1219.1 L917.7,1219 L917.9,1219 L918.1,1219 L918.3,1219 L918.6,1219 L918.8,1218.9 L919,1218.9 L919.2,1218.9 L919.4,1218.9 L919.6,1218.9 L920.5,1219 L921.4,1219.1 L922.3,1219.2 L923.1,1219.4 L924,1219.6 L924.9,1219.8 L925.8,1220 L926.6,1220.4 L927.5,1220.8 L928.4,1221.2 L929.2,1221.7 L930.1,1222.1 L931,1222.6 L931.9,1223 L932.7,1223.3 L933.6,1223.7 L934.5,1224.1 L935.3,1224.4 L936.2,1224.8 L937.1,1225.1 L938,1225.5 L938.8,1225.8 L939.7,1226 L940.6,1226.3 L941.4,1226.5 L942.3,1226.6 L943.2,1226.7 L944.1,1226.8 L944.9,1226.9 L945.8,1227 L946.7,1227.1 L947.5,1227.1 L948.4,1227.2 L949.3,1227.2 L950.2,1227.2 L951,1227.3 L951.9,1227.3 L952.8,1227.3 L953.7,1227.3 L954.5,1227.3 L1322.3,1227.3" fill="none" stroke="#3b5998" stroke-width="4.0" stroke-linejoin="round" stroke-linecap="butt" /></g>
<rect x="736.2" y="1108.7" width="586.1" height="123.1" fill="none" stroke="#000" stroke-width="2.1"/>
<path d="M736.2,1226.7 l-9.4,0" stroke="#000" stroke-width="2.1" fill="none"/>
<path d="M736.2,1152 l-9.4,0" stroke="#000" stroke-width="2.1" fill="none"/>
<path d="M882.7,1231.8 l0,8.9" stroke="#000" stroke-width="2.1" fill="none"/>
<text x="882.7" y="1269.5" font-size="26.4" text-anchor="middle" fill="#000" >5</text>
<path d="M1029.2,1231.8 l0,8.9" stroke="#000" stroke-width="2.1" fill="none"/>
<text x="1029.2" y="1269.5" font-size="26.4" text-anchor="middle" fill="#000" >10</text>
<path d="M1175.8,1231.8 l0,8.9" stroke="#000" stroke-width="2.1" fill="none"/>
<text x="1175.8" y="1269.5" font-size="26.4" text-anchor="middle" fill="#000" >15</text>
<path d="M1322.3,1231.8 l0,8.9" stroke="#000" stroke-width="2.1" fill="none"/>
<text x="1322.3" y="1269.5" font-size="26.4" text-anchor="middle" fill="#000" >20</text>
<text x="765" y="1131.6" font-size="26.2" text-anchor="start" fill="#000" >Collapse</text>
<text x="122" y="503.5" font-size="26.2" text-anchor="start" fill="#000" >(C) <tspan font-style="italic">χ</tspan><tspan dx="4.45">=</tspan><tspan dx="5.11">0</tspan></text>
<text x="737.5" y="503.5" font-size="26.2" text-anchor="start" fill="#000" >(D) <tspan font-style="italic">χ</tspan><tspan dx="4.45">=</tspan><tspan dx="5.11">1</tspan></text>
<text x="412.3" y="1306" font-size="26.4" text-anchor="middle" fill="#000" ><tspan font-style="italic">T</tspan><tspan dx="3.43">[</tspan><tspan font-style="italic">years</tspan>]</text>
<text x="1027.7" y="1306" font-size="26.4" text-anchor="middle" fill="#000" ><tspan font-style="italic">T</tspan><tspan dx="3.43">[</tspan><tspan font-style="italic">years</tspan>]</text>
</svg>
</body></html>
